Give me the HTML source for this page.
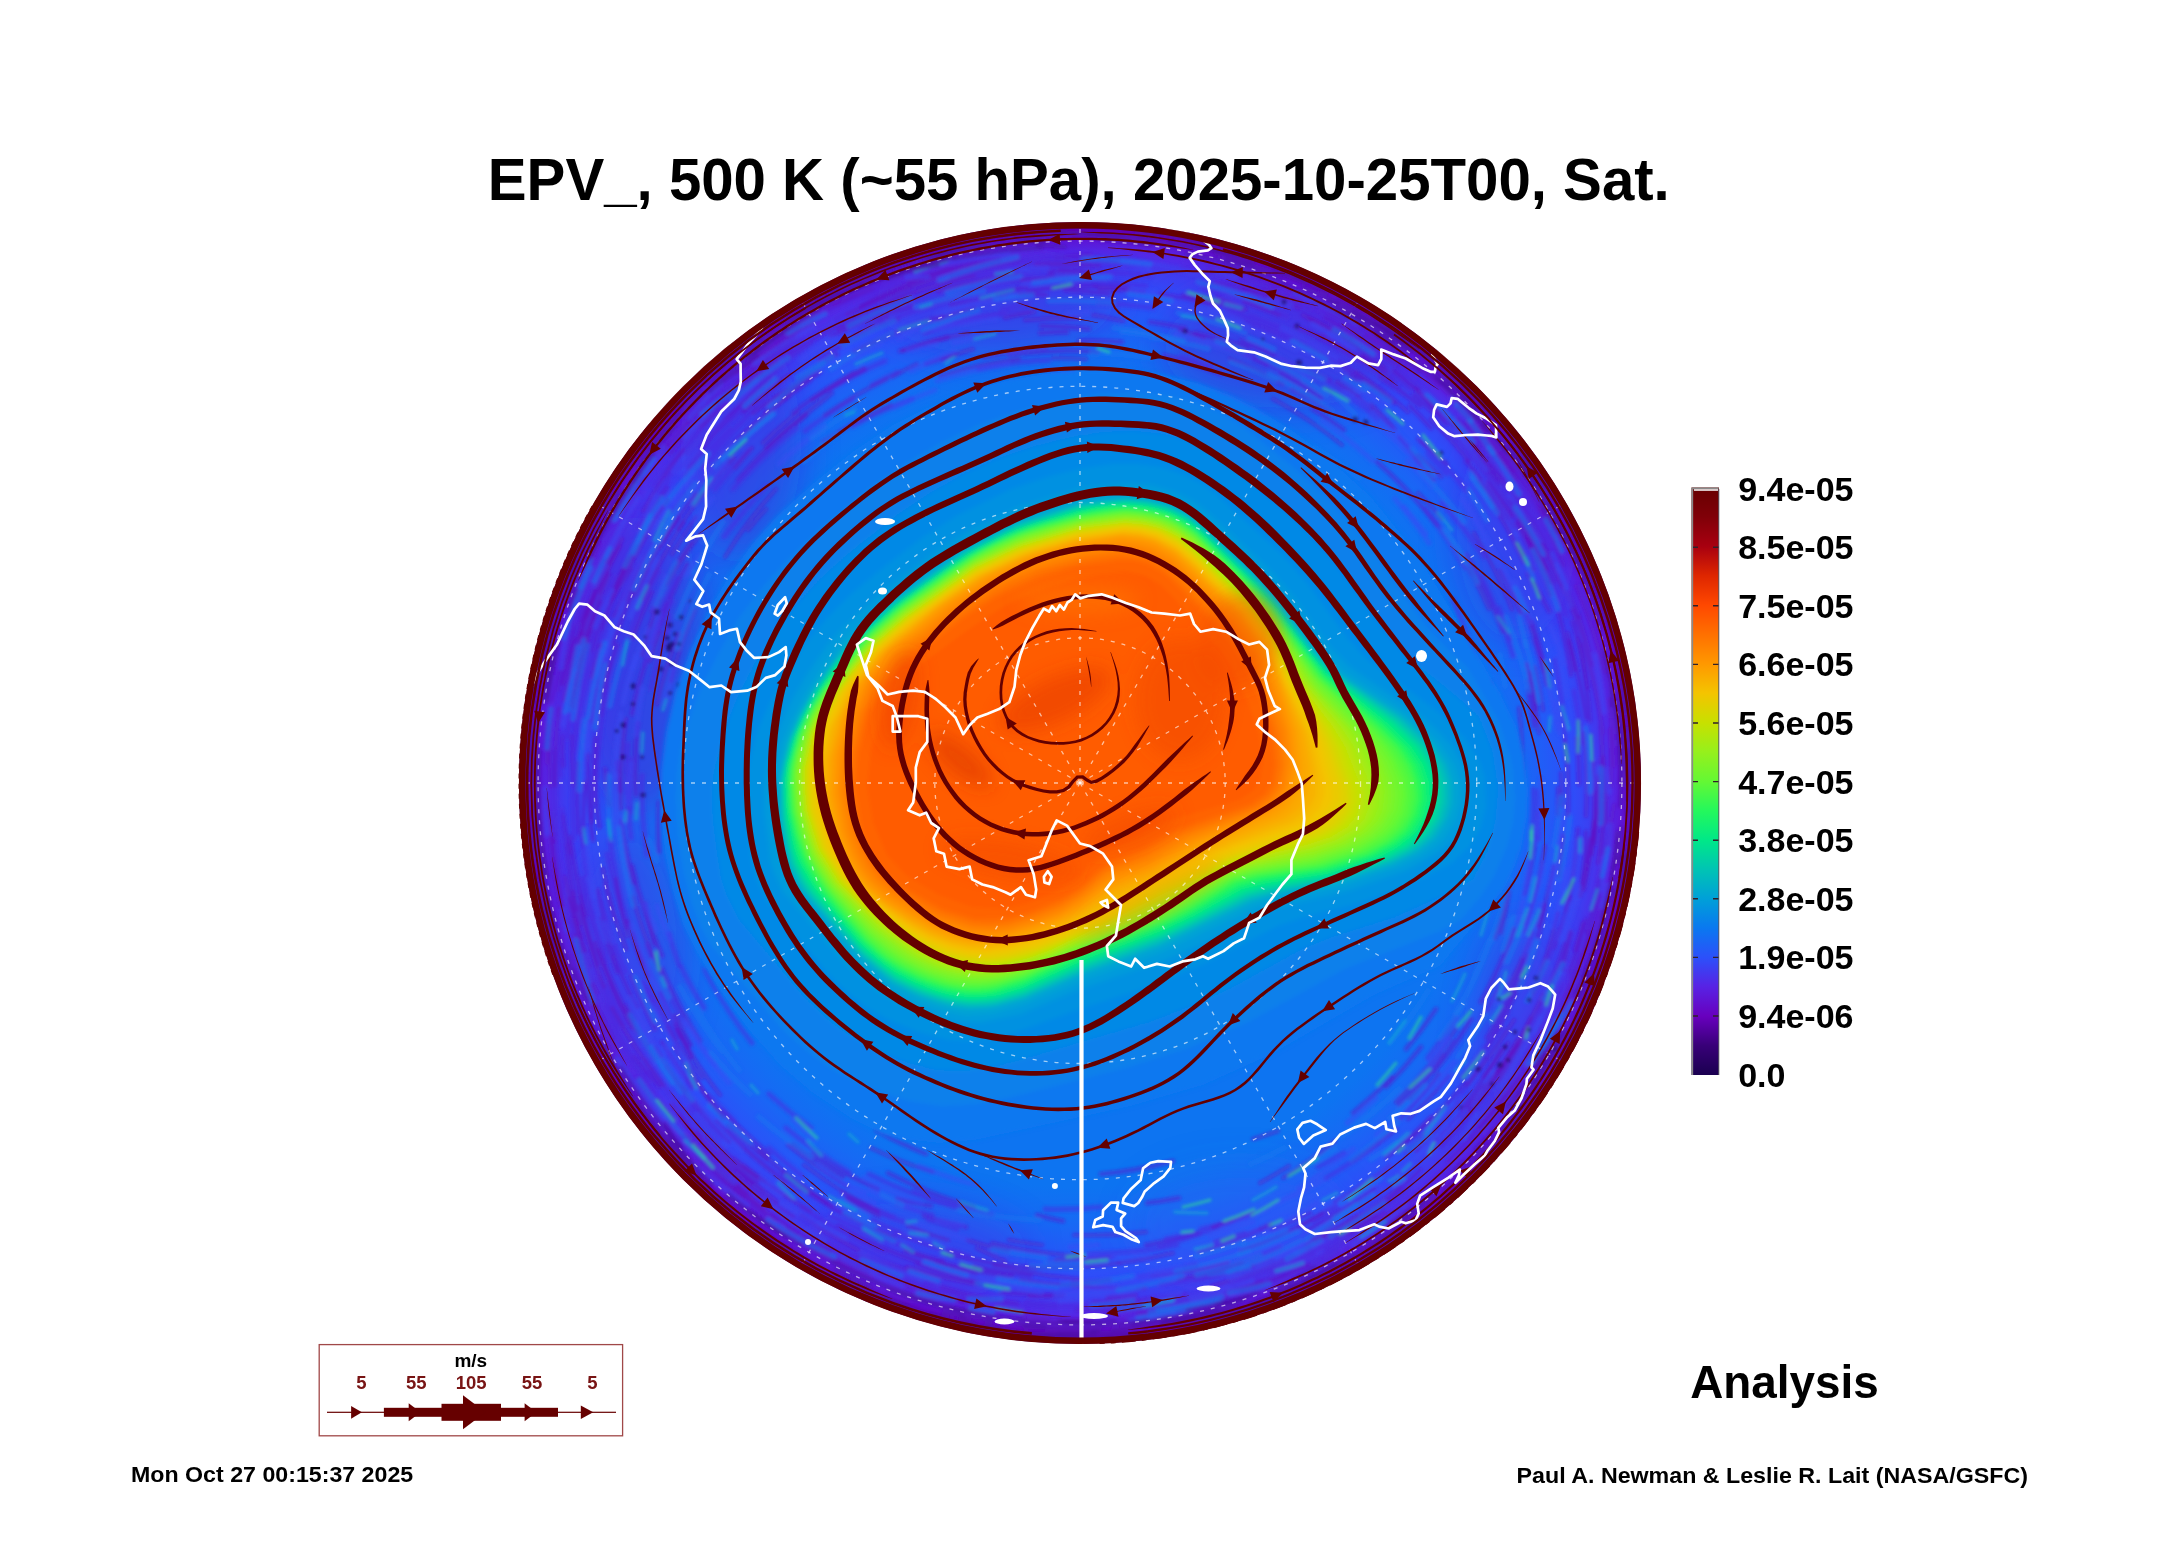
<!DOCTYPE html>
<html lang="en"><head><meta charset="utf-8"><title>EPV 500 K</title>
<style>html,body{margin:0;padding:0;background:#fff}body{width:2165px;height:1561px;overflow:hidden;position:relative}svg{position:absolute;left:0;top:0;display:block}text{font-family:"Liberation Sans",sans-serif;font-weight:700}.sl{fill:#640000;stroke:none}.st{fill:none;stroke:#640000;stroke-linecap:butt;stroke-linejoin:round}.co{fill:none;stroke:#fff;stroke-width:2.7;stroke-linejoin:round;stroke-linecap:round}.gr{fill:none;stroke:#fff;stroke-opacity:.62;stroke-width:1.3;stroke-dasharray:4 7}</style></head><body>
<svg width="2165" height="1561" viewBox="0 0 2165 1561">
<defs>
<radialGradient id="bg" gradientUnits="userSpaceOnUse" cx="1080" cy="783" r="561">
<stop offset="0" stop-color="#0d74f1"/>
<stop offset="0.72" stop-color="#0d74f1"/>
<stop offset="0.78" stop-color="#166af4"/>
<stop offset="0.83" stop-color="#225cf7"/>
<stop offset="0.88" stop-color="#2f4df9"/>
<stop offset="0.92" stop-color="#3f3cf0"/>
<stop offset="0.95" stop-color="#5427e6"/>
<stop offset="0.972" stop-color="#6011d1"/>
<stop offset="0.987" stop-color="#6300b7"/>
<stop offset="1" stop-color="#420086"/>
</radialGradient>
<linearGradient id="cb" x1="0" y1="1" x2="0" y2="0">
<stop offset="0" stop-color="#1a0050"/>
<stop offset="0.05" stop-color="#380078"/>
<stop offset="0.1" stop-color="#6800be"/>
<stop offset="0.15" stop-color="#5822e4"/>
<stop offset="0.2" stop-color="#2c50fa"/>
<stop offset="0.25" stop-color="#0a78f0"/>
<stop offset="0.3" stop-color="#00a0d8"/>
<stop offset="0.35" stop-color="#00c4b4"/>
<stop offset="0.4" stop-color="#00e888"/>
<stop offset="0.45" stop-color="#24f85c"/>
<stop offset="0.5" stop-color="#64f834"/>
<stop offset="0.55" stop-color="#96f01c"/>
<stop offset="0.6" stop-color="#c8e000"/>
<stop offset="0.65" stop-color="#f4c400"/>
<stop offset="0.7" stop-color="#ff9800"/>
<stop offset="0.75" stop-color="#ff7000"/>
<stop offset="0.8" stop-color="#ff4800"/>
<stop offset="0.85" stop-color="#de2600"/>
<stop offset="0.9" stop-color="#a80010"/>
<stop offset="0.95" stop-color="#800008"/>
<stop offset="1" stop-color="#680000"/>
</linearGradient>
<clipPath id="gc"><circle cx="1080" cy="783" r="561"/></clipPath>
<filter id="bl" x="-10%" y="-10%" width="120%" height="120%"><feGaussianBlur stdDeviation="2.2"/></filter>
<filter id="bl3" x="-5%" y="-5%" width="110%" height="110%"><feGaussianBlur stdDeviation="1.7"/></filter>
<filter id="bl4" x="-30%" y="-30%" width="160%" height="160%"><feGaussianBlur stdDeviation="9"/></filter>
<filter id="bl2" x="-30%" y="-30%" width="160%" height="160%"><feGaussianBlur stdDeviation="18"/></filter>
</defs>
<rect width="2165" height="1561" fill="#fff"/>
<g clip-path="url(#gc)">
<circle cx="1080" cy="783" r="562" fill="url(#bg)"/>

<g filter="url(#bl2)">
<ellipse cx="641" cy="665" rx="70" ry="150" fill="#5020d0" opacity="0.42" transform="rotate(0 641 665)"/>
<ellipse cx="741" cy="444" rx="60" ry="120" fill="#5020d0" opacity="0.35" transform="rotate(0 741 444)"/>
<ellipse cx="629" cy="947" rx="60" ry="120" fill="#4c28d8" opacity="0.30" transform="rotate(0 629 947)"/>
<ellipse cx="995" cy="300" rx="120" ry="55" fill="#5020d0" opacity="0.32" transform="rotate(0 995 300)"/>
<ellipse cx="1283" cy="348" rx="120" ry="60" fill="#5020d0" opacity="0.38" transform="rotate(0 1283 348)"/>
<ellipse cx="1517" cy="530" rx="60" ry="110" fill="#4c28d8" opacity="0.28" transform="rotate(0 1517 530)"/>
<ellipse cx="1526" cy="1040" rx="50" ry="120" fill="#4c28d8" opacity="0.30" transform="rotate(0 1526 1040)"/>
<ellipse cx="1241" cy="1225" rx="110" ry="60" fill="#2a5cf4" opacity="0.25" transform="rotate(0 1241 1225)"/>
<ellipse cx="909" cy="1253" rx="120" ry="50" fill="#4c28d8" opacity="0.25" transform="rotate(0 909 1253)"/>
</g>
<g filter="url(#bl3)" fill="none" stroke-linecap="round">
<path d="M1185 1295A522 522 0 0 1 1094 1302M951 305A495 495 0 0 1 1006 296M729 1142A503 503 0 0 1 683 1087M570 853A515 515 0 0 1 563 816M1436 1009A421 421 0 0 1 1406 1049M1371 331A538 538 0 0 1 1440 385M868 1273A534 534 0 0 1 811 1250M1597 811A518 518 0 0 1 1595 844M1501 1049A498 498 0 0 1 1461 1109M1518 1045A511 511 0 0 1 1483 1089M1132 1318A537 537 0 0 1 1064 1320M601 715A484 484 0 0 1 609 665M559 690A529 529 0 0 1 573 630M1215 282A519 519 0 0 1 1281 298M1522 516A517 517 0 0 1 1535 537M652 643A451 451 0 0 1 666 604M1355 351A512 512 0 0 1 1393 381M656 1059A506 506 0 0 1 625 1006M1516 498A520 520 0 0 1 1557 568M748 1193A528 528 0 0 1 682 1136M1458 419A525 525 0 0 1 1493 456M775 397A492 492 0 0 1 815 375M1226 347A460 460 0 0 1 1267 365M659 1086A518 518 0 0 1 634 1057M1049 276A508 508 0 0 1 1093 276M1578 829A500 500 0 0 1 1566 911M765 1215A535 535 0 0 1 694 1152M1300 344A491 491 0 0 1 1356 380M1380 377A505 505 0 0 1 1420 406M688 424A532 532 0 0 1 714 394M970 399A399 399 0 0 1 1042 388M1512 508A512 512 0 0 1 1555 582M738 480A457 457 0 0 1 806 415M637 1007A496 496 0 0 1 614 957M976 1274A502 502 0 0 1 907 1250M552 701A534 534 0 0 1 572 628M691 1045A469 469 0 0 1 675 1015M659 852A427 427 0 0 1 659 802M831 336A512 512 0 0 1 912 306M709 413A524 524 0 0 1 756 366" stroke="#5a18cc" stroke-width="4.5" opacity="0.5"/>
<path d="M1420 1170A516 516 0 0 1 1381 1207M1199 1233A465 465 0 0 1 1146 1245M639 596A479 479 0 0 1 649 571M862 348A487 487 0 0 1 942 316M782 399A486 486 0 0 1 820 372M1281 373A457 457 0 0 1 1321 398M765 354A532 532 0 0 1 797 329M1514 929A458 458 0 0 1 1481 1002M789 521A392 392 0 0 1 817 496M1345 340A516 516 0 0 1 1384 366M1586 920A524 524 0 0 1 1570 972M739 371A535 535 0 0 1 799 327M1164 355A436 436 0 0 1 1221 374M693 1087A492 492 0 0 1 662 1042M1309 318A518 518 0 0 1 1352 341M1064 1295A513 513 0 0 1 1000 1292M593 840A490 490 0 0 1 588 754M1600 885A530 530 0 0 1 1587 932M1569 641A509 509 0 0 1 1586 718M1079 341A442 442 0 0 1 1122 342M1228 1297A535 535 0 0 1 1201 1304M799 380A491 491 0 0 1 837 354M1110 1280A498 498 0 0 1 1072 1283M1310 1213A488 488 0 0 1 1272 1230M974 1207A436 436 0 0 1 888 1173M1538 813A459 459 0 0 1 1525 894M1328 313A531 531 0 0 1 1403 358M599 827A483 483 0 0 1 596 738M662 956A452 452 0 0 1 632 866M613 644A487 487 0 0 1 632 592M1505 1096A527 527 0 0 1 1448 1161M943 1261A497 497 0 0 1 905 1251M843 1177A460 460 0 0 1 793 1144M609 805A471 471 0 0 1 605 769M590 989A532 532 0 0 1 578 951M1514 790A434 434 0 0 1 1513 855M878 1189A453 453 0 0 1 812 1154M1487 435A536 536 0 0 1 1540 509M1570 897A503 503 0 0 1 1554 948M1179 1198A427 427 0 0 1 1147 1203" stroke="#5a18cc" stroke-width="4.5" opacity="0.5"/>
<path d="M1540 510A535 535 0 0 1 1555 540M1374 1189A502 502 0 0 1 1309 1229M1410 406A501 501 0 0 1 1431 428M659 627A449 449 0 0 1 687 564M1018 1304A525 525 0 0 1 942 1288M691 1058A476 476 0 0 1 673 1018M1528 691A458 458 0 0 1 1534 727M593 651A504 504 0 0 1 602 616M824 310A538 538 0 0 1 856 295M1458 1103A495 495 0 0 1 1416 1151M648 517A508 508 0 0 1 667 488M1466 461A503 503 0 0 1 1505 513M838 328A515 515 0 0 1 904 298M563 766A518 518 0 0 1 562 738M1525 969A482 482 0 0 1 1488 1046M1031 1276A496 496 0 0 1 974 1266M591 720A493 493 0 0 1 604 657M614 616A495 495 0 0 1 646 558M1056 258A526 526 0 0 1 1089 255M1494 718A419 419 0 0 1 1492 786M727 418A508 508 0 0 1 770 378M560 903A534 534 0 0 1 550 836M1528 574A494 494 0 0 1 1549 611M1195 333A464 464 0 0 1 1248 348M1573 622A519 519 0 0 1 1588 688M593 1008A537 537 0 0 1 571 954M1296 327A504 504 0 0 1 1365 362M1335 1222A508 508 0 0 1 1312 1239M659 1110A533 533 0 0 1 637 1079M926 1154A402 402 0 0 1 876 1130M1273 1260A514 514 0 0 1 1235 1271M1481 480A503 503 0 0 1 1508 518M1475 453A515 515 0 0 1 1507 488M721 974A406 406 0 0 1 690 895M1322 1214A494 494 0 0 1 1241 1251M687 454A512 512 0 0 1 712 425M637 1032A508 508 0 0 1 599 950M700 1041A460 460 0 0 1 662 969M1518 545A499 499 0 0 1 1533 570M561 682A528 528 0 0 1 576 625" stroke="#5a18cc" stroke-width="4.5" opacity="0.5"/>
<path d="M1063 1221A438 438 0 0 1 1037 1215M620 791A461 461 0 0 1 617 762M1466 555A449 449 0 0 1 1503 632M1095 286A498 498 0 0 1 1128 288M660 547A482 482 0 0 1 679 518M1454 1041A455 455 0 0 1 1410 1099M688 467A504 504 0 0 1 740 406M1396 1129A469 469 0 0 1 1353 1161M1313 409A441 441 0 0 1 1344 430M931 1206A449 449 0 0 1 897 1199M744 386A520 520 0 0 1 777 361M951 276A524 524 0 0 1 1019 261M1150 322A466 466 0 0 1 1185 328M799 408A469 469 0 0 1 854 373M1377 462A437 437 0 0 1 1437 525M1262 278A536 536 0 0 1 1300 296M926 364A446 446 0 0 1 955 355M602 629A502 502 0 0 1 637 545M833 1253A531 531 0 0 1 804 1238M1427 399A517 517 0 0 1 1489 464M1325 318A526 526 0 0 1 1396 365M585 951A523 523 0 0 1 569 899M1577 738A499 499 0 0 1 1579 784M1050 272A512 512 0 0 1 1082 273M1166 1303A527 527 0 0 1 1077 1310M688 1046A472 472 0 0 1 660 993M1292 389A448 448 0 0 1 1330 411M793 413A468 468 0 0 1 865 370M1392 1077A429 429 0 0 1 1353 1113M1586 832A509 509 0 0 1 1582 888M919 1262A505 505 0 0 1 838 1226M1020 294A493 493 0 0 1 1046 295M579 833A504 504 0 0 1 578 763M1065 290A493 493 0 0 1 1109 294M1190 1300A528 528 0 0 1 1104 1313M573 785A507 507 0 0 1 572 736M1160 294A496 496 0 0 1 1215 305M1471 1019A457 457 0 0 1 1434 1072M1483 456A519 519 0 0 1 1503 480M1529 1066A531 531 0 0 1 1471 1137" stroke="#5a18cc" stroke-width="4.5" opacity="0.5"/>
<path d="M636 795A444 444 0 0 1 638 723M1060 270A513 513 0 0 1 1092 272M819 359A498 498 0 0 1 898 319M769 1154A484 484 0 0 1 723 1111M730 1170A522 522 0 0 1 679 1116M1041 326A458 458 0 0 1 1089 329M613 1039A533 533 0 0 1 599 1012M735 397A518 518 0 0 1 789 348M607 1031A534 534 0 0 1 581 965M671 453A526 526 0 0 1 686 431M632 714A453 453 0 0 1 648 655M1210 269A530 530 0 0 1 1276 289M1601 871A528 528 0 0 1 1589 929M741 438A484 484 0 0 1 810 380M1414 395A512 512 0 0 1 1446 424M1335 1206A494 494 0 0 1 1300 1226M1559 614A508 508 0 0 1 1571 675M1443 1055A454 454 0 0 1 1399 1105M614 956A497 497 0 0 1 598 890M598 965A515 515 0 0 1 580 896M1245 1233A479 479 0 0 1 1215 1242M1563 836A486 486 0 0 1 1559 877M1559 575A522 522 0 0 1 1579 617M576 910A519 519 0 0 1 567 845M978 1282A509 509 0 0 1 917 1264M1241 341A471 471 0 0 1 1315 377M1488 780A408 408 0 0 1 1488 837M1503 1066A509 509 0 0 1 1462 1116M840 330A513 513 0 0 1 908 300M1028 291A494 494 0 0 1 1096 286M1009 355A434 434 0 0 1 1098 352M1306 371A470 470 0 0 1 1330 380M617 972A500 500 0 0 1 600 919M634 883A457 457 0 0 1 621 821M577 639A524 524 0 0 1 590 602M997 294A496 496 0 0 1 1026 287M789 354A519 519 0 0 1 841 325M818 1249A534 534 0 0 1 786 1229M651 461A536 536 0 0 1 670 442M1593 912A529 529 0 0 1 1575 982" stroke="#5a18cc" stroke-width="4.5" opacity="0.5"/>
<path d="M1521 970A480 480 0 0 1 1493 1033M938 320A485 485 0 0 1 975 308M1493 1082A510 510 0 0 1 1440 1146M1451 432A511 511 0 0 1 1498 483M909 282A529 529 0 0 1 977 262M900 351A468 468 0 0 1 948 337M1601 897A534 534 0 0 1 1588 951M840 1259A533 533 0 0 1 772 1214M568 661A526 526 0 0 1 585 608M592 822A489 489 0 0 1 597 746M655 1029A491 491 0 0 1 631 976M602 695A486 486 0 0 1 617 645M584 845A500 500 0 0 1 585 782M895 1238A491 491 0 0 1 849 1216M734 393A521 521 0 0 1 766 363M1565 944A511 511 0 0 1 1549 989M1552 535A533 533 0 0 1 1563 565M578 686A511 511 0 0 1 601 602M889 1236A491 491 0 0 1 807 1191M700 1111A502 502 0 0 1 655 1048M1578 639A519 519 0 0 1 1590 721M1155 1299A522 522 0 0 1 1103 1307M1035 1268A487 487 0 0 1 948 1254M1342 366A493 493 0 0 1 1394 403M654 944A456 456 0 0 1 645 903M1421 1047A431 431 0 0 1 1386 1087M1466 1082A488 488 0 0 1 1399 1149M1173 1161A389 389 0 0 1 1101 1174M1526 955A478 478 0 0 1 1487 1038M1341 324A529 529 0 0 1 1400 363M906 1270A517 517 0 0 1 860 1255M1012 1276A497 497 0 0 1 937 1262M1532 621A480 480 0 0 1 1547 677M966 1227A459 459 0 0 1 924 1216M586 915A512 512 0 0 1 570 837M1040 333A451 451 0 0 1 1067 332M590 967A524 524 0 0 1 574 919M1475 443A521 521 0 0 1 1488 467M627 599A489 489 0 0 1 644 558M1545 905A481 481 0 0 1 1538 937" stroke="#5a18cc" stroke-width="4.5" opacity="0.5"/>
<path d="M678 1048A481 481 0 0 1 654 999M1466 432A521 521 0 0 1 1482 453M1119 1306A524 524 0 0 1 1026 1302M1313 1254A526 526 0 0 1 1270 1272M1236 1267A508 508 0 0 1 1208 1277M1456 548A443 443 0 0 1 1472 574M733 489A455 455 0 0 1 797 428M629 798A451 451 0 0 1 631 767M1202 299A499 499 0 0 1 1277 331M969 1256A485 485 0 0 1 895 1233M648 1083A526 526 0 0 1 605 1006M614 920A486 486 0 0 1 605 885M556 837A527 527 0 0 1 555 752M595 633A508 508 0 0 1 615 577M679 890A415 415 0 0 1 674 848M851 1218A491 491 0 0 1 791 1182M1336 1251A533 533 0 0 1 1256 1282M692 1088A493 493 0 0 1 669 1054M1533 789A453 453 0 0 1 1532 837M802 1176A482 482 0 0 1 769 1148M1453 600A415 415 0 0 1 1480 682M703 1133A514 514 0 0 1 645 1059M1250 315A498 498 0 0 1 1308 342M1574 691A503 503 0 0 1 1582 743M828 390A467 467 0 0 1 885 361M1355 335A525 525 0 0 1 1426 394M1467 449A511 511 0 0 1 1521 525M1002 309A480 480 0 0 1 1028 304M1579 974A534 534 0 0 1 1549 1033M805 431A447 447 0 0 1 853 399M704 1008A438 438 0 0 1 681 967M752 1043A419 419 0 0 1 705 970M1499 988A467 467 0 0 1 1479 1022M596 916A502 502 0 0 1 582 834M1004 1310A532 532 0 0 1 919 1290M1352 343A517 517 0 0 1 1410 389M957 1229A463 463 0 0 1 928 1220M956 267A531 531 0 0 1 1019 254M1000 267A522 522 0 0 1 1062 255M1601 660A535 535 0 0 1 1612 716" stroke="#4c28de" stroke-width="5.5" opacity="0.46"/>
<path d="M1321 311A530 530 0 0 1 1393 352M1580 962A531 531 0 0 1 1548 1032M1578 954A527 527 0 0 1 1569 978M1508 469A531 531 0 0 1 1552 537M1270 1226A482 482 0 0 1 1209 1248M1580 588A537 537 0 0 1 1591 618M1537 791A457 457 0 0 1 1539 839M1113 1257A475 475 0 0 1 1049 1262M711 468A486 486 0 0 1 761 418M647 855A439 439 0 0 1 642 775M1253 327A488 488 0 0 1 1284 340M686 1026A463 463 0 0 1 647 945M1101 1207A425 425 0 0 1 1045 1209M1298 336A497 497 0 0 1 1355 372M1354 399A472 472 0 0 1 1377 418M731 1186A533 533 0 0 1 666 1121M844 300A538 538 0 0 1 929 268M631 838A453 453 0 0 1 628 744M734 1121A484 484 0 0 1 709 1095M672 512A490 490 0 0 1 694 485M744 413A500 500 0 0 1 781 383M1342 350A506 506 0 0 1 1398 387M1370 365A509 509 0 0 1 1397 387M1324 378A472 472 0 0 1 1371 413M731 391A525 525 0 0 1 791 343M651 689A439 439 0 0 1 669 625M692 457A507 507 0 0 1 738 408M934 1285A523 523 0 0 1 852 1255M700 414A529 529 0 0 1 770 359M606 962A507 507 0 0 1 584 878M1195 1308A537 537 0 0 1 1128 1317M1503 1028A489 489 0 0 1 1484 1056M597 779A483 483 0 0 1 607 686M952 263A535 535 0 0 1 1039 248M760 383A513 513 0 0 1 811 342M591 604A521 521 0 0 1 610 553M849 1172A452 452 0 0 1 786 1128M677 1038A476 476 0 0 1 648 988M645 664A451 451 0 0 1 677 577M872 385A449 449 0 0 1 898 372" stroke="#4c28de" stroke-width="5.5" opacity="0.46"/>
<path d="M1253 1267A514 514 0 0 1 1161 1284M1341 1238A524 524 0 0 1 1294 1259M685 1149A538 538 0 0 1 648 1110M1338 1209A498 498 0 0 1 1314 1221M1229 1270A509 509 0 0 1 1203 1277M1203 288A510 510 0 0 1 1287 317M1564 636A505 505 0 0 1 1571 672M1338 1252A535 535 0 0 1 1303 1271M1355 1234A529 529 0 0 1 1325 1255M884 1252A508 508 0 0 1 802 1207M1183 267A526 526 0 0 1 1223 275M581 662A513 513 0 0 1 593 635M703 406A533 533 0 0 1 736 378M955 1207A442 442 0 0 1 869 1174M595 575A528 528 0 0 1 636 490M1561 985A522 522 0 0 1 1518 1067M620 1025A520 520 0 0 1 598 978M853 426A424 424 0 0 1 912 399M845 1214A491 491 0 0 1 783 1173M604 539A535 535 0 0 1 617 510M701 479A486 486 0 0 1 746 431M719 1135A504 504 0 0 1 675 1079M664 646A438 438 0 0 1 669 616M653 485A520 520 0 0 1 683 450M1528 681A460 460 0 0 1 1536 721M932 1215A457 457 0 0 1 897 1204M1442 503A458 458 0 0 1 1484 557M1421 442A482 482 0 0 1 1467 491M591 722A493 493 0 0 1 596 688M712 435A506 506 0 0 1 758 398M1126 265A520 520 0 0 1 1210 274M638 527A510 510 0 0 1 668 481M1185 259A534 534 0 0 1 1267 287M1408 1190A523 523 0 0 1 1329 1242M1428 454A479 479 0 0 1 1446 474M1456 1018A443 443 0 0 1 1428 1058M1310 1248A519 519 0 0 1 1244 1276M1489 485A506 506 0 0 1 1536 561M1452 1166A534 534 0 0 1 1399 1210M736 387A525 525 0 0 1 803 338" stroke="#4c28de" stroke-width="5.5" opacity="0.46"/>
<path d="M691 1054A474 474 0 0 1 660 995M854 318A517 517 0 0 1 913 291M1502 481A519 519 0 0 1 1543 555M762 1190A517 517 0 0 1 736 1171M1196 1265A496 496 0 0 1 1140 1277M1280 1248A507 507 0 0 1 1228 1268M979 369A426 426 0 0 1 1049 360M1242 353A459 459 0 0 1 1299 379M1508 1012A485 485 0 0 1 1462 1078M664 1120A535 535 0 0 1 618 1057M1482 577A452 452 0 0 1 1513 656M654 1007A481 481 0 0 1 644 982M1561 927A502 502 0 0 1 1533 991M1226 314A491 491 0 0 1 1297 342M1210 283A517 517 0 0 1 1242 293M724 537A432 432 0 0 1 767 486M679 965A440 440 0 0 1 669 934M1555 660A491 491 0 0 1 1565 740M575 894A517 517 0 0 1 562 810M799 1190A495 495 0 0 1 728 1131M1553 551A526 526 0 0 1 1566 584M955 323A476 476 0 0 1 1028 311M881 324A500 500 0 0 1 962 296M1350 1238A530 530 0 0 1 1327 1250M904 1222A473 473 0 0 1 849 1199M869 1268A529 529 0 0 1 828 1244M856 353A485 485 0 0 1 899 331M626 972A492 492 0 0 1 600 899M820 332A520 520 0 0 1 859 315M653 1092A527 527 0 0 1 610 1026M1319 1259A532 532 0 0 1 1236 1291M1602 874A530 530 0 0 1 1589 927M595 802A485 485 0 0 1 595 739M1485 1058A490 490 0 0 1 1457 1101M1460 407A534 534 0 0 1 1500 449M574 749A507 507 0 0 1 577 723M1236 283A524 524 0 0 1 1310 309M803 1190A492 492 0 0 1 752 1152M628 639A475 475 0 0 1 659 571M910 1248A496 496 0 0 1 831 1216" stroke="#4c28de" stroke-width="5.5" opacity="0.46"/>
<path d="M1195 1233A464 464 0 0 1 1166 1239M971 286A508 508 0 0 1 1064 279M1098 272A512 512 0 0 1 1150 276M1177 1245A472 472 0 0 1 1089 1254M941 283A519 519 0 0 1 1015 270M658 632A449 449 0 0 1 672 601M573 787A507 507 0 0 1 577 717M627 926A475 475 0 0 1 607 854M715 423A512 512 0 0 1 774 373M1344 1153A454 454 0 0 1 1318 1167M1490 682A422 422 0 0 1 1494 710M1599 761A519 519 0 0 1 1597 807M1605 801A525 525 0 0 1 1602 853M1253 1215A465 465 0 0 1 1201 1229M1225 1269A507 507 0 0 1 1196 1280M604 954A506 506 0 0 1 580 879M1561 976A518 518 0 0 1 1551 1001M569 678A522 522 0 0 1 579 626M1489 1091A512 512 0 0 1 1443 1147M1181 356A439 439 0 0 1 1211 366M1287 1276A534 534 0 0 1 1217 1303M671 442A532 532 0 0 1 704 404M1078 284A499 499 0 0 1 1146 286M1520 1075A528 528 0 0 1 1472 1136M925 333A476 476 0 0 1 1005 313M1379 1142A467 467 0 0 1 1326 1178M567 634A534 534 0 0 1 590 564M560 762A520 520 0 0 1 562 734M574 839A509 509 0 0 1 573 783M869 1110A389 389 0 0 1 838 1082M827 312A535 535 0 0 1 898 284M1535 641A477 477 0 0 1 1550 686M555 785A525 525 0 0 1 552 750M1425 509A441 441 0 0 1 1465 567M625 1025A516 516 0 0 1 607 984M1466 419A531 531 0 0 1 1517 489M1097 260A523 523 0 0 1 1129 263M560 776A520 520 0 0 1 559 748M741 396A514 514 0 0 1 810 343M582 954A526 526 0 0 1 564 905" stroke="#4c28de" stroke-width="5.5" opacity="0.46"/>
<path d="M1099 303A480 480 0 0 1 1153 308M893 1217A473 473 0 0 1 842 1193M563 898A530 530 0 0 1 554 813M1457 439A510 510 0 0 1 1507 502M1032 269A516 516 0 0 1 1088 265M1056 1307A525 525 0 0 1 1024 1305M1572 933A515 515 0 0 1 1563 959M686 476A499 499 0 0 1 730 429M1547 997A513 513 0 0 1 1530 1034M721 1139A506 506 0 0 1 689 1108M1593 831A515 515 0 0 1 1584 886M1045 261A524 524 0 0 1 1117 263M578 718A506 506 0 0 1 601 631M960 1253A485 485 0 0 1 873 1221M715 489A469 469 0 0 1 749 450M1199 282A515 515 0 0 1 1234 289M599 1019A536 536 0 0 1 573 940M811 1128A437 437 0 0 1 769 1094M835 319A525 525 0 0 1 908 287M1275 1268A522 522 0 0 1 1233 1285M1232 1221A464 464 0 0 1 1160 1246M567 738A515 515 0 0 1 580 678M621 600A495 495 0 0 1 638 565M992 1215A441 441 0 0 1 914 1191M1537 547A514 514 0 0 1 1566 615M629 927A473 473 0 0 1 610 840M1517 494A524 524 0 0 1 1551 547M1501 493A511 511 0 0 1 1539 556M557 713A528 528 0 0 1 577 628M668 476A513 513 0 0 1 689 460M1525 527A513 513 0 0 1 1552 580M703 467A492 492 0 0 1 767 398M697 691A394 394 0 0 1 715 644M566 654A530 530 0 0 1 588 582M686 447A517 517 0 0 1 727 406M630 812A451 451 0 0 1 631 759M1499 608A454 454 0 0 1 1510 639M975 1299A526 526 0 0 1 911 1282" stroke="#4c28de" stroke-width="5.5" opacity="0.46"/>
<path d="M1533 932A477 477 0 0 1 1508 988M1517 523A508 508 0 0 1 1531 548M1545 846A470 470 0 0 1 1524 931M933 1172A416 416 0 0 1 871 1148M1146 1232A453 453 0 0 1 1074 1235M1093 315A468 468 0 0 1 1123 321M1518 1039A507 507 0 0 1 1470 1112M847 315A522 522 0 0 1 935 279M1418 367A536 536 0 0 1 1484 431M1609 699A536 536 0 0 1 1614 766M1303 315A519 519 0 0 1 1359 347M848 1187A465 465 0 0 1 788 1145M1614 805A534 534 0 0 1 1605 854M579 637A522 522 0 0 1 612 551M657 704A431 431 0 0 1 679 634M1539 507A536 536 0 0 1 1555 532M627 936A478 478 0 0 1 616 879M648 977A474 474 0 0 1 633 933M1081 1256A473 473 0 0 1 992 1243M1278 1131A400 400 0 0 1 1253 1139M1426 1133A492 492 0 0 1 1406 1152M581 937A522 522 0 0 1 565 877M567 923A532 532 0 0 1 552 839M903 351A467 467 0 0 1 968 333M1431 419A506 506 0 0 1 1469 461M1590 934A532 532 0 0 1 1565 997M983 357A437 437 0 0 1 1046 348M942 359A446 446 0 0 1 973 349M753 413A494 494 0 0 1 797 385M938 291A512 512 0 0 1 1019 274M604 987A517 517 0 0 1 580 906M1289 1166A436 436 0 0 1 1260 1183M1322 335A509 509 0 0 1 1386 371M643 511A514 514 0 0 1 683 450M597 993A527 527 0 0 1 575 935M728 1176A528 528 0 0 1 686 1135M1466 423A528 528 0 0 1 1514 471M1242 288A521 521 0 0 1 1299 308M1500 570A471 471 0 0 1 1521 613M737 373A535 535 0 0 1 813 322" stroke="#6410c0" stroke-width="4" opacity="0.44"/>
<path d="M722 1116A488 488 0 0 1 674 1047M861 306A525 525 0 0 1 948 270M752 1184A518 518 0 0 1 697 1132M1594 822A516 516 0 0 1 1584 890M1293 1256A519 519 0 0 1 1212 1286M671 681A422 422 0 0 1 695 609M643 965A473 473 0 0 1 627 921M763 443A465 465 0 0 1 798 412M758 1181A512 512 0 0 1 707 1135M924 278A529 529 0 0 1 1000 260M633 638A470 470 0 0 1 652 592M965 257A538 538 0 0 1 992 254M879 1216A478 478 0 0 1 847 1198M1531 1018A509 509 0 0 1 1498 1081M1005 1261A484 484 0 0 1 977 1248M1159 394A397 397 0 0 1 1233 414M1136 1295A515 515 0 0 1 1107 1298M1584 733A507 507 0 0 1 1586 816M573 708A512 512 0 0 1 587 641M632 1028A510 510 0 0 1 595 943M1335 1141A440 440 0 0 1 1283 1178M858 1250A517 517 0 0 1 801 1215M720 1095A476 476 0 0 1 677 1030M1092 1319A536 536 0 0 1 1025 1320M832 1206A491 491 0 0 1 759 1150M729 454A481 481 0 0 1 752 427M1525 518A517 517 0 0 1 1562 586M1575 988A536 536 0 0 1 1536 1058M1458 408A532 532 0 0 1 1482 434M1487 486A504 504 0 0 1 1502 508M667 584A458 458 0 0 1 701 533M1048 1318A536 536 0 0 1 1022 1314M1509 893A443 443 0 0 1 1501 933M1510 499A516 516 0 0 1 1547 569M1497 454A531 531 0 0 1 1517 479M1527 664A463 463 0 0 1 1539 733M550 787A530 530 0 0 1 552 709M825 415A448 448 0 0 1 887 379M577 598A536 536 0 0 1 599 543M1118 1263A481 481 0 0 1 1028 1267" stroke="#6410c0" stroke-width="4" opacity="0.44"/>
<path d="M1474 533A467 467 0 0 1 1512 609M1593 762A513 513 0 0 1 1593 840M1337 382A476 476 0 0 1 1359 397M1228 1263A503 503 0 0 1 1152 1276M683 811A399 399 0 0 1 683 749M1456 1029A449 449 0 0 1 1396 1102M1022 280A507 507 0 0 1 1068 278M1262 1282A532 532 0 0 1 1175 1301M1449 1076A471 471 0 0 1 1408 1119M1519 1078A529 529 0 0 1 1479 1127M987 1306A531 531 0 0 1 922 1290M810 1211A506 506 0 0 1 744 1166M1605 792A525 525 0 0 1 1598 863M1042 1245A464 464 0 0 1 1009 1240M1375 1215A523 523 0 0 1 1337 1235M1527 537A510 510 0 0 1 1551 595M812 400A467 467 0 0 1 864 368M1263 290A526 526 0 0 1 1298 301M700 427A521 521 0 0 1 727 404M1570 932A513 513 0 0 1 1562 970M1416 388A518 518 0 0 1 1445 419M735 468A468 468 0 0 1 752 448M1089 1286A503 503 0 0 1 1021 1280M1603 757A523 523 0 0 1 1606 823M1390 1166A492 492 0 0 1 1335 1202M723 397A526 526 0 0 1 795 337M1418 439A482 482 0 0 1 1447 464M885 303A518 518 0 0 1 974 276M1530 673A464 464 0 0 1 1536 709M1510 885A442 442 0 0 1 1495 938M612 596A504 504 0 0 1 628 558M599 592A517 517 0 0 1 622 539M948 1240A476 476 0 0 1 908 1226M652 611A462 462 0 0 1 691 542M661 454A533 533 0 0 1 701 408M1371 404A478 478 0 0 1 1395 429M855 335A502 502 0 0 1 887 317M1145 1288A509 509 0 0 1 1072 1286M650 661A447 447 0 0 1 660 632M1109 1257A475 475 0 0 1 1056 1260" stroke="#6410c0" stroke-width="4" opacity="0.44"/>
<path d="M1514 1020A494 494 0 0 1 1467 1085M1439 1074A462 462 0 0 1 1400 1119M1217 297A505 505 0 0 1 1246 309M748 530A417 417 0 0 1 766 509M795 424A459 459 0 0 1 828 397M1583 923A522 522 0 0 1 1575 950M1271 1224A481 481 0 0 1 1199 1252M1183 295A499 499 0 0 1 1244 310M764 1181A508 508 0 0 1 734 1159M1418 455A471 471 0 0 1 1441 477M634 596A484 484 0 0 1 659 545M617 586A504 504 0 0 1 633 551M1385 1213A527 527 0 0 1 1348 1234M592 677A499 499 0 0 1 600 645M618 510A536 536 0 0 1 648 465M581 660A514 514 0 0 1 609 574M586 616A521 521 0 0 1 620 546M564 700A522 522 0 0 1 582 632M1367 335A532 532 0 0 1 1410 367M663 541A482 482 0 0 1 696 494M1590 839A513 513 0 0 1 1580 896M672 554A468 468 0 0 1 696 517M1554 866A481 481 0 0 1 1538 926M1357 1216A514 514 0 0 1 1300 1250M593 1008A537 537 0 0 1 581 975M764 1209A531 531 0 0 1 714 1169M793 1217A521 521 0 0 1 730 1171M1394 371A518 518 0 0 1 1440 413M1399 437A471 471 0 0 1 1420 463M744 411A501 501 0 0 1 789 375M1005 318A471 471 0 0 1 1034 312M834 305A538 538 0 0 1 872 289M1610 729A533 533 0 0 1 1611 787M1079 1279A496 496 0 0 1 994 1265M1053 358A425 425 0 0 1 1086 359M767 1159A489 489 0 0 1 728 1125M643 599A474 474 0 0 1 684 522M1242 1263A507 507 0 0 1 1179 1279M1357 396A476 476 0 0 1 1392 427M766 448A459 459 0 0 1 832 393" stroke="#6410c0" stroke-width="4" opacity="0.44"/>
<path d="M1508 1043A501 501 0 0 1 1484 1077M724 1175A530 530 0 0 1 704 1153M1173 1253A479 479 0 0 1 1119 1263M1431 1117A484 484 0 0 1 1386 1158M1062 1296A514 514 0 0 1 1029 1296M614 1049A537 537 0 0 1 590 996M1273 399A430 430 0 0 1 1342 445M1469 569A444 444 0 0 1 1489 609M581 643A518 518 0 0 1 595 595M867 1270A531 531 0 0 1 838 1258M642 655A456 456 0 0 1 660 598M555 786A525 525 0 0 1 559 708M1597 776A517 517 0 0 1 1592 854M1477 793A397 397 0 0 1 1473 846M744 1197A533 533 0 0 1 716 1171M1535 667A469 469 0 0 1 1543 710M660 972A460 460 0 0 1 633 897M1363 1214A515 515 0 0 1 1307 1244M1526 612A478 478 0 0 1 1546 685M570 705A516 516 0 0 1 594 615M1576 586A534 534 0 0 1 1605 672M963 1303A533 533 0 0 1 879 1274M1562 1011A533 533 0 0 1 1541 1063M611 601A503 503 0 0 1 631 569M1480 428A535 535 0 0 1 1509 462M547 763A533 533 0 0 1 547 725M678 529A476 476 0 0 1 734 458M1489 498A499 499 0 0 1 1524 562M626 575A500 500 0 0 1 668 500M1008 1251A474 474 0 0 1 967 1240M1244 302A508 508 0 0 1 1279 315M725 557A421 421 0 0 1 776 489M1539 1062A537 537 0 0 1 1517 1097M873 1277A536 536 0 0 1 800 1243M1522 1038A510 510 0 0 1 1486 1085M1400 1187A515 515 0 0 1 1328 1237M1477 481A499 499 0 0 1 1514 528M564 921A534 534 0 0 1 553 859M702 1078A479 479 0 0 1 667 1027M1558 788A478 478 0 0 1 1558 815" stroke="#6410c0" stroke-width="4" opacity="0.44"/>
<path d="M1099 289A495 495 0 0 1 1144 292M1558 913A495 495 0 0 1 1532 995M621 809A460 460 0 0 1 626 719M1036 264A521 521 0 0 1 1099 266M892 377A448 448 0 0 1 917 364M1450 422A516 516 0 0 1 1478 449M776 1220A532 532 0 0 1 732 1181M1309 1265A534 534 0 0 1 1241 1291M1429 1187A534 534 0 0 1 1373 1225M1519 520A511 511 0 0 1 1550 583M1025 320A466 466 0 0 1 1079 318M1579 617A526 526 0 0 1 1589 651M1602 794A522 522 0 0 1 1600 821M823 442A428 428 0 0 1 891 405M1583 644A522 522 0 0 1 1603 733M878 1211A474 474 0 0 1 804 1165M1565 741A487 487 0 0 1 1568 816M1487 482A506 506 0 0 1 1512 516M1484 1085A504 504 0 0 1 1435 1141M554 842A529 529 0 0 1 545 792M1415 458A466 466 0 0 1 1434 480M563 684A526 526 0 0 1 575 639M785 1182A496 496 0 0 1 716 1121M1519 708A445 445 0 0 1 1522 782M663 1085A515 515 0 0 1 612 1008M1561 584A520 520 0 0 1 1592 665M1202 1304A535 535 0 0 1 1138 1314M988 1286A512 512 0 0 1 907 1267M701 1142A522 522 0 0 1 672 1105M580 924A519 519 0 0 1 573 892M1230 359A450 450 0 0 1 1283 384M940 376A431 431 0 0 1 1019 359M765 413A486 486 0 0 1 789 396M1561 773A482 482 0 0 1 1562 806M1544 994A510 510 0 0 1 1522 1034M626 949A484 484 0 0 1 603 869M1601 726A525 525 0 0 1 1600 813M1180 330A464 464 0 0 1 1204 338M777 1202A517 517 0 0 1 720 1151M1418 493A445 445 0 0 1 1442 519" stroke="#6410c0" stroke-width="4" opacity="0.44"/>
<path d="M1568 633A511 511 0 0 1 1575 670M1253 1212A463 463 0 0 1 1213 1227M724 1119A489 489 0 0 1 687 1065M854 352A487 487 0 0 1 878 341M1356 372A495 495 0 0 1 1408 412" stroke="#6410c0" stroke-width="4" opacity="0.44"/>
<path d="M665 704A423 423 0 0 1 674 667M596 685A494 494 0 0 1 612 626M1317 1203A483 483 0 0 1 1266 1233M591 981A528 528 0 0 1 584 955M547 834A536 536 0 0 1 545 789M1299 347A488 488 0 0 1 1347 374M1597 768A517 517 0 0 1 1592 790M1174 1312A538 538 0 0 1 1131 1320M1224 319A486 486 0 0 1 1296 349M1010 353A436 436 0 0 1 1045 346M1386 1220A534 534 0 0 1 1361 1236M934 329A477 477 0 0 1 996 318M617 832A466 466 0 0 1 616 775M1546 675A478 478 0 0 1 1558 729M1460 1097A493 493 0 0 1 1420 1143M649 532A499 499 0 0 1 667 508M937 381A427 427 0 0 1 1008 364M976 1185A415 415 0 0 1 919 1166M1222 395A413 413 0 0 1 1263 415M629 894A464 464 0 0 1 620 816M690 493A486 486 0 0 1 733 445M1437 1137A503 503 0 0 1 1400 1173M911 371A445 445 0 0 1 954 351M1175 334A459 459 0 0 1 1250 358M1541 781A461 461 0 0 1 1536 843M814 1139A444 444 0 0 1 793 1120M921 1203A449 449 0 0 1 864 1178M1180 1294A521 521 0 0 1 1142 1303M1595 655A531 531 0 0 1 1604 712M1148 1255A477 477 0 0 1 1088 1256M689 1066A483 483 0 0 1 653 1006M1462 499A476 476 0 0 1 1498 562M654 609A460 460 0 0 1 666 577M1223 1293A530 530 0 0 1 1173 1302M1476 1115A517 517 0 0 1 1464 1138M1395 499A424 424 0 0 1 1429 543M1390 1168A495 495 0 0 1 1327 1209M1484 482A503 503 0 0 1 1517 535M715 1065A461 461 0 0 1 684 1021M705 490A476 476 0 0 1 726 465" stroke="#3a4cf4" stroke-width="5.5" opacity="0.45"/>
<path d="M597 675A495 495 0 0 1 600 651M1041 1293A511 511 0 0 1 998 1282M873 1226A489 489 0 0 1 833 1203M899 339A479 479 0 0 1 921 324M623 703A464 464 0 0 1 636 656M1605 770A525 525 0 0 1 1609 792M606 556A525 525 0 0 1 638 498M1024 284A503 503 0 0 1 1065 279M1067 314A469 469 0 0 1 1089 312M606 941A500 500 0 0 1 588 879M1329 335A513 513 0 0 1 1359 353M683 1078A495 495 0 0 1 666 1046M1139 299A488 488 0 0 1 1216 314M1552 554A525 525 0 0 1 1571 606M1252 1281A526 526 0 0 1 1191 1298M734 1183A529 529 0 0 1 691 1145M1270 299A520 520 0 0 1 1291 305M680 473A506 506 0 0 1 698 451M648 1040A503 503 0 0 1 637 1023M1322 421A435 435 0 0 1 1373 461M1514 582A478 478 0 0 1 1531 622M1570 904A505 505 0 0 1 1559 940M1406 1204A533 533 0 0 1 1353 1245M674 472A512 512 0 0 1 718 418M836 365A484 484 0 0 1 880 344M1567 871A495 495 0 0 1 1554 926M663 1118A535 535 0 0 1 617 1059M690 418A535 535 0 0 1 721 383M1541 904A477 477 0 0 1 1524 955M1376 1098A432 432 0 0 1 1347 1123M695 521A465 465 0 0 1 712 499M1122 262A522 522 0 0 1 1149 269M644 564A488 488 0 0 1 657 542M617 519A533 533 0 0 1 632 490M656 930A449 449 0 0 1 645 904M1312 1242A514 514 0 0 1 1257 1265M644 957A470 470 0 0 1 631 925M781 1194A508 508 0 0 1 761 1179M630 617A480 480 0 0 1 657 560M1493 1073A505 505 0 0 1 1474 1106" stroke="#3a4cf4" stroke-width="5.5" opacity="0.45"/>
<path d="M1558 658A494 494 0 0 1 1566 696M1506 977A468 468 0 0 1 1496 1002M563 725A520 520 0 0 1 575 670M1345 392A472 472 0 0 1 1369 405M726 1144A505 505 0 0 1 697 1115M1216 272A528 528 0 0 1 1236 277M1383 1188A506 506 0 0 1 1361 1204M1182 1268A496 496 0 0 1 1148 1273M1211 309A492 492 0 0 1 1241 321M587 752A494 494 0 0 1 594 687M865 1192A462 462 0 0 1 847 1183M1404 507A426 426 0 0 1 1426 534M1134 1288A508 508 0 0 1 1057 1294M966 1239A470 470 0 0 1 914 1222M648 656A450 450 0 0 1 660 614M628 804A453 453 0 0 1 631 764M1540 1018A517 517 0 0 1 1501 1087M779 464A439 439 0 0 1 824 427M685 437A525 525 0 0 1 711 410M893 408A419 419 0 0 1 935 390M1098 1245A462 462 0 0 1 1070 1247M1550 625A496 496 0 0 1 1564 663M1268 1208A465 465 0 0 1 1222 1228M954 343A458 458 0 0 1 987 335M801 360A507 507 0 0 1 833 338M636 735A446 446 0 0 1 642 688M633 668A461 461 0 0 1 648 630M1485 540A472 472 0 0 1 1513 589M1416 575A395 395 0 0 1 1432 611M595 627A509 509 0 0 1 612 591M594 897A499 499 0 0 1 585 834M1353 1149A457 457 0 0 1 1299 1188M1466 1111A506 506 0 0 1 1440 1136M1453 1063A467 467 0 0 1 1406 1112M615 776A465 465 0 0 1 621 714M1556 702A483 483 0 0 1 1560 733M1449 1039A449 449 0 0 1 1420 1082M1580 887A511 511 0 0 1 1564 937M1452 398A536 536 0 0 1 1477 417M1374 412A473 473 0 0 1 1412 449" stroke="#3a4cf4" stroke-width="5.5" opacity="0.45"/>
<path d="M1542 807A463 463 0 0 1 1535 832M1050 279A505 505 0 0 1 1107 277M647 516A509 509 0 0 1 656 496M755 364A530 530 0 0 1 813 327M1081 1298A515 515 0 0 1 1060 1301M948 1247A482 482 0 0 1 904 1233M1454 1073A473 473 0 0 1 1439 1087M1130 290A496 496 0 0 1 1155 292M604 660A491 491 0 0 1 623 604M1008 271A517 517 0 0 1 1047 268M1105 1295A513 513 0 0 1 1055 1296M1047 370A414 414 0 0 1 1073 373M1510 497A516 516 0 0 1 1540 541M1530 854A456 456 0 0 1 1518 923M937 314A490 490 0 0 1 1012 296M1282 328A498 498 0 0 1 1336 358M1323 1180A465 465 0 0 1 1267 1207M907 277A535 535 0 0 1 928 277M646 473A533 533 0 0 1 664 448M743 396A513 513 0 0 1 757 381M825 1241A524 524 0 0 1 765 1200M729 1083A462 462 0 0 1 686 1024M1370 417A467 467 0 0 1 1426 472M1253 1222A471 471 0 0 1 1210 1236M1562 974A519 519 0 0 1 1534 1032M567 930A534 534 0 0 1 563 910M1578 842A501 501 0 0 1 1572 879M1303 1250A517 517 0 0 1 1231 1279M1423 392A520 520 0 0 1 1465 437M908 350A466 466 0 0 1 936 344M1453 431A513 513 0 0 1 1486 469M874 1203A468 468 0 0 1 818 1165M1256 1230A481 481 0 0 1 1203 1248M664 1064A501 501 0 0 1 631 998M620 609A492 492 0 0 1 643 558M940 264A538 538 0 0 1 1008 253M670 940A439 439 0 0 1 657 906M1401 1118A463 463 0 0 1 1377 1135M712 426A513 513 0 0 1 744 395M1543 867A470 470 0 0 1 1522 935" stroke="#3a4cf4" stroke-width="5.5" opacity="0.45"/>
<path d="M1447 1038A447 447 0 0 1 1429 1061M673 1021A472 472 0 0 1 645 961M922 1280A522 522 0 0 1 861 1254M902 1285A533 533 0 0 1 833 1254M962 1225A458 458 0 0 1 937 1220M747 1205A538 538 0 0 1 693 1164M1356 389A482 482 0 0 1 1387 404M1607 885A536 536 0 0 1 1602 907M1290 342A488 488 0 0 1 1341 370M1123 260A525 525 0 0 1 1200 275M918 1211A458 458 0 0 1 870 1190M1295 293A535 535 0 0 1 1357 323M674 502A494 494 0 0 1 693 473M686 575A445 445 0 0 1 700 556M1313 324A515 515 0 0 1 1355 349M1562 814A483 483 0 0 1 1550 893M561 668A532 532 0 0 1 568 628M1278 357A469 469 0 0 1 1313 379M845 1238A512 512 0 0 1 782 1203M613 942A494 494 0 0 1 605 923M583 781A497 497 0 0 1 587 723M1610 825A531 531 0 0 1 1601 889M1174 1273A499 499 0 0 1 1124 1279M1408 461A460 460 0 0 1 1432 486M1557 565A525 525 0 0 1 1567 588M741 1149A499 499 0 0 1 689 1094M1140 1287A508 508 0 0 1 1083 1291M595 586A524 524 0 0 1 606 566M1030 1287A507 507 0 0 1 968 1275M1057 275A509 509 0 0 1 1088 276" stroke="#3a4cf4" stroke-width="5.5" opacity="0.45"/>
<path d="M1129 294A491 491 0 0 1 1171 301M671 517A488 488 0 0 1 695 484M573 719A511 511 0 0 1 587 645M1249 1251A497 497 0 0 1 1176 1271M1320 1240A517 517 0 0 1 1287 1259M1049 301A483 483 0 0 1 1113 303M1519 617A470 470 0 0 1 1526 646M902 1205A458 458 0 0 1 882 1195M625 566A504 504 0 0 1 662 498M1398 1121A464 464 0 0 1 1352 1160M723 459A482 482 0 0 1 772 414M1000 1290A513 513 0 0 1 977 1283M1608 849A532 532 0 0 1 1602 876M1384 1203A518 518 0 0 1 1330 1236M1083 259A524 524 0 0 1 1150 264M702 414A528 528 0 0 1 737 388M1286 1231A493 493 0 0 1 1242 1246M1178 313A480 480 0 0 1 1245 333M610 834A473 473 0 0 1 609 776M940 280A522 522 0 0 1 1017 257M1108 386A398 398 0 0 1 1138 392M1412 449A471 471 0 0 1 1433 475M1293 341A491 491 0 0 1 1326 359M875 1226A488 488 0 0 1 845 1213M580 587A537 537 0 0 1 591 560M849 326A512 512 0 0 1 910 299M1486 1015A468 468 0 0 1 1458 1057M1039 1220A439 439 0 0 1 960 1210M1537 941A483 483 0 0 1 1519 988M1057 1287A504 504 0 0 1 998 1279M634 589A487 487 0 0 1 670 521M834 1257A534 534 0 0 1 768 1220M1001 1299A522 522 0 0 1 969 1299M804 462A423 423 0 0 1 836 435M1515 508A515 515 0 0 1 1543 554M954 1300A533 533 0 0 1 918 1293M1510 879A440 440 0 0 1 1491 939M1570 817A492 492 0 0 1 1559 879M1153 375A415 415 0 0 1 1213 393M966 1275A505 505 0 0 1 925 1262" stroke="#1878f0" stroke-width="5.5" opacity="0.5"/>
<path d="M1190 1309A537 537 0 0 1 1138 1318M745 406A504 504 0 0 1 775 379M1249 1267A513 513 0 0 1 1209 1274M1081 1267A484 484 0 0 1 1031 1266M947 293A508 508 0 0 1 1020 276M1399 1089A442 442 0 0 1 1342 1136M1133 1301A521 521 0 0 1 1092 1306M1244 1242A487 487 0 0 1 1196 1256M1260 1255A505 505 0 0 1 1197 1275M1525 641A467 467 0 0 1 1539 701M672 1083A507 507 0 0 1 630 1015M812 438A437 437 0 0 1 855 409M1547 962A500 500 0 0 1 1527 1001M656 605A460 460 0 0 1 676 563M1114 328A456 456 0 0 1 1183 341M1464 1004A443 443 0 0 1 1440 1038M1546 520A536 536 0 0 1 1562 551M1219 1301A537 537 0 0 1 1158 1310M1298 368A469 469 0 0 1 1324 379M595 728A489 489 0 0 1 605 665M669 997A463 463 0 0 1 652 961M1045 1258A476 476 0 0 1 993 1249M732 400A517 517 0 0 1 788 358M1563 964A516 516 0 0 1 1544 999M694 573A440 440 0 0 1 723 522M688 1141A531 531 0 0 1 639 1080M1506 617A457 457 0 0 1 1529 691M1298 1232A500 500 0 0 1 1239 1254M1489 448A528 528 0 0 1 1519 494M1092 353A430 430 0 0 1 1152 358M1424 1086A458 458 0 0 1 1390 1118M1557 1022A533 533 0 0 1 1544 1047M1396 1143A479 479 0 0 1 1371 1159M811 1156A460 460 0 0 1 759 1117M916 307A503 503 0 0 1 984 291M1345 378A484 484 0 0 1 1366 390M665 504A500 500 0 0 1 708 454M1083 1262A479 479 0 0 1 1046 1263M894 1241A495 495 0 0 1 864 1227M1269 374A451 451 0 0 1 1332 411" stroke="#1878f0" stroke-width="5.5" opacity="0.5"/>
<path d="M633 905A463 463 0 0 1 619 828M1571 1003A538 538 0 0 1 1533 1062M867 1217A483 483 0 0 1 842 1201M1269 1284A535 535 0 0 1 1229 1293M1500 655A439 439 0 0 1 1505 686M1356 1205A504 504 0 0 1 1305 1240M569 710A517 517 0 0 1 578 647M1456 405A533 533 0 0 1 1471 421M1513 917A453 453 0 0 1 1503 950M831 369A483 483 0 0 1 893 333M770 407A487 487 0 0 1 832 357M1249 338A476 476 0 0 1 1274 349M1428 991A406 406 0 0 1 1390 1043M1522 927A465 465 0 0 1 1507 962M722 1051A447 447 0 0 1 680 987M739 1070A446 446 0 0 1 696 1007M655 1021A487 487 0 0 1 635 977M923 330A480 480 0 0 1 978 310M1260 356A464 464 0 0 1 1327 395M1471 474A498 498 0 0 1 1497 513M1217 341A463 463 0 0 1 1243 351M750 1142A488 488 0 0 1 709 1106M1364 384A489 489 0 0 1 1390 401M565 712A520 520 0 0 1 584 640M610 706A476 476 0 0 1 628 639M1420 471A461 461 0 0 1 1464 522M1231 362A448 448 0 0 1 1275 380M1284 1148A418 418 0 0 1 1251 1164M677 617A436 436 0 0 1 693 580M715 466A483 483 0 0 1 774 414M1335 1149A446 446 0 0 1 1314 1162M614 520A535 535 0 0 1 653 459M1381 1178A497 497 0 0 1 1341 1203M1427 395A521 521 0 0 1 1473 442M1182 1276A504 504 0 0 1 1118 1290M547 748A534 534 0 0 1 551 709M1446 531A445 445 0 0 1 1477 582M901 1276A525 525 0 0 1 862 1260M938 1281A518 518 0 0 1 910 1271M588 717A496 496 0 0 1 605 643" stroke="#1878f0" stroke-width="5.5" opacity="0.5"/>
<path d="M1430 1134A496 496 0 0 1 1408 1150M1222 1297A534 534 0 0 1 1150 1312M678 648A424 424 0 0 1 709 575M1561 797A482 482 0 0 1 1554 846M1470 421A532 532 0 0 1 1493 453M593 1002A534 534 0 0 1 576 940M1300 1241A508 508 0 0 1 1228 1272M1533 550A509 509 0 0 1 1558 609M1034 283A502 502 0 0 1 1110 277M993 1312A536 536 0 0 1 971 1308M634 553A502 502 0 0 1 650 516M563 638A537 537 0 0 1 591 568M1493 690A423 423 0 0 1 1498 711M1586 728A509 509 0 0 1 1590 792M1373 1195A505 505 0 0 1 1335 1218M843 345A498 498 0 0 1 894 321M1171 1301A525 525 0 0 1 1115 1310M1132 1276A496 496 0 0 1 1062 1285M1198 282A515 515 0 0 1 1272 307M1463 656A404 404 0 0 1 1478 695M1601 768A521 521 0 0 1 1601 823M1122 332A453 453 0 0 1 1185 343M657 861A430 430 0 0 1 649 840M788 333A537 537 0 0 1 825 314M995 299A491 491 0 0 1 1032 295M1444 530A444 444 0 0 1 1465 562M1315 448A410 410 0 0 1 1359 478M1490 941A439 439 0 0 1 1456 1013M1472 478A497 497 0 0 1 1492 507M659 541A486 486 0 0 1 672 517M1335 395A464 464 0 0 1 1355 414M1561 1014A533 533 0 0 1 1528 1064M797 377A494 494 0 0 1 823 363M579 790A501 501 0 0 1 585 720M1469 490A487 487 0 0 1 1487 520M750 1094A454 454 0 0 1 711 1053M594 581A526 526 0 0 1 610 549M1515 588A477 477 0 0 1 1526 611M1149 337A451 451 0 0 1 1208 349M1334 330A520 520 0 0 1 1373 354" stroke="#1878f0" stroke-width="5.5" opacity="0.5"/>
<path d="M681 1092A504 504 0 0 1 651 1047M1526 558A500 500 0 0 1 1533 579M692 1100A501 501 0 0 1 663 1060" stroke="#1878f0" stroke-width="5.5" opacity="0.5"/>
<path d="M899 330A487 487 0 0 1 928 321M807 1192A492 492 0 0 1 786 1175M737 1049A434 434 0 0 1 732 1040M916 1221A468 468 0 0 1 907 1222M794 1198A504 504 0 0 1 778 1183M704 1158A531 531 0 0 1 685 1141M1398 1176A505 505 0 0 1 1389 1181M1385 1222A534 534 0 0 1 1361 1237M1545 662A480 480 0 0 1 1550 687M1212 1245A481 481 0 0 1 1195 1249M1225 304A500 500 0 0 1 1241 308M882 1240A498 498 0 0 1 864 1229M1465 974A430 430 0 0 1 1452 1001M663 710A423 423 0 0 1 666 700M1438 513A448 448 0 0 1 1452 530M1207 1213A448 448 0 0 1 1175 1212M1506 972A466 466 0 0 1 1498 998M1337 1193A484 484 0 0 1 1323 1200M1501 1006A476 476 0 0 1 1491 1021M1535 878A464 464 0 0 1 1530 901M987 1210A437 437 0 0 1 961 1202M1580 839A503 503 0 0 1 1580 852M1182 316A478 478 0 0 1 1201 319M855 1210A482 482 0 0 1 829 1196M1498 617A450 450 0 0 1 1509 632M1404 1178A511 511 0 0 1 1393 1185M694 504A476 476 0 0 1 711 478M1410 1164A504 504 0 0 1 1403 1171M943 1248A485 485 0 0 1 934 1243M1445 1107A488 488 0 0 1 1425 1134M1303 1263A529 529 0 0 1 1276 1271M623 665A472 472 0 0 1 627 642M1174 1300A525 525 0 0 1 1144 1306M846 415A437 437 0 0 1 854 412M1562 707A488 488 0 0 1 1569 729M1488 910A428 428 0 0 1 1481 935M642 752A439 439 0 0 1 643 733M913 1252A497 497 0 0 1 902 1245M1527 909A465 465 0 0 1 1517 936M856 364A475 475 0 0 1 882 353" stroke="#10b4d0" stroke-width="3.5" opacity="0.5"/>
<path d="M946 364A440 440 0 0 1 954 357M696 1088A490 490 0 0 1 686 1064M665 986A462 462 0 0 1 662 978M915 272A537 537 0 0 1 947 261M821 1155A453 453 0 0 1 808 1141M858 1142A422 422 0 0 1 849 1134M975 339A456 456 0 0 1 995 334M654 540A490 490 0 0 1 669 511M996 274A516 516 0 0 1 1012 272M1550 717A474 474 0 0 1 1549 731M981 298A495 495 0 0 1 1013 290M625 821A456 456 0 0 1 626 812M1597 890A528 528 0 0 1 1591 909M586 843A498 498 0 0 1 584 829M758 1093A447 447 0 0 1 751 1085M1408 1133A480 480 0 0 1 1384 1154M1557 847A481 481 0 0 1 1555 861M1276 1187A449 449 0 0 1 1253 1200M921 307A502 502 0 0 1 931 304M1539 910A476 476 0 0 1 1528 935M1486 762A407 407 0 0 1 1488 783M675 783A405 405 0 0 1 673 766M637 608A476 476 0 0 1 647 586M1465 1061A475 475 0 0 1 1456 1071M636 819A445 445 0 0 1 637 803M611 840A472 472 0 0 1 608 820M1405 1021A403 403 0 0 1 1389 1043M927 1235A478 478 0 0 1 910 1233" stroke="#10b4d0" stroke-width="3.5" opacity="0.5"/>
<path d="M1591 735A514 514 0 0 1 1592 760M1188 292A503 503 0 0 1 1219 302M1387 410A483 483 0 0 1 1403 424M1217 319A484 484 0 0 1 1240 328M1430 1069A452 452 0 0 1 1410 1087M1372 1179A492 492 0 0 1 1349 1199M1532 579A496 496 0 0 1 1539 598M952 1256A490 490 0 0 1 942 1253M1471 1011A452 452 0 0 1 1458 1026M1193 1231A462 462 0 0 1 1182 1232M981 1270A497 497 0 0 1 961 1264M1528 1028A510 510 0 0 1 1526 1038M1009 1289A511 511 0 0 1 985 1285M1578 721A502 502 0 0 1 1578 752M1349 1229A521 521 0 0 1 1340 1234M730 455A479 479 0 0 1 746 440M1396 1063A422 422 0 0 1 1377 1085M1574 879A503 503 0 0 1 1562 903M659 970A461 461 0 0 1 656 952M1510 993A478 478 0 0 1 1502 998M1324 388A465 465 0 0 1 1348 401M1022 1312A532 532 0 0 1 996 1308M1517 543A499 499 0 0 1 1528 565M1423 435A489 489 0 0 1 1441 458M674 1121A529 529 0 0 1 657 1100M1565 745A486 486 0 0 1 1568 761M1084 1255A472 472 0 0 1 1067 1257M1404 1146A486 486 0 0 1 1398 1152M1278 1200A461 461 0 0 1 1252 1215M1421 1017A413 413 0 0 1 1409 1038M1210 1200A437 437 0 0 1 1183 1207M1107 1260A478 478 0 0 1 1086 1262M1053 288A496 496 0 0 1 1071 284M1254 1209A461 461 0 0 1 1224 1221M1281 1220A481 481 0 0 1 1270 1225M1434 1143A505 505 0 0 1 1429 1154M817 1138A442 442 0 0 1 796 1118M1532 826A454 454 0 0 1 1530 858M1483 1052A485 485 0 0 1 1463 1078M1552 986A514 514 0 0 1 1546 1005" stroke="#30e890" stroke-width="3" opacity="0.55"/>
<path d="M1527 967A484 484 0 0 1 1522 977M713 1168A532 532 0 0 1 693 1145M1531 831A453 453 0 0 1 1531 840M1098 348A435 435 0 0 1 1109 352M1317 1158A444 444 0 0 1 1289 1176M1234 1236A479 479 0 0 1 1222 1241" stroke="#30e890" stroke-width="3" opacity="0.55"/>
<path d="M970 1312A540 540 0 0 1 913 1296M1217 1309A543 543 0 0 1 1146 1325M1219 251A550 550 0 0 1 1255 260M786 325A544 544 0 0 1 861 286M1416 361A539 539 0 0 1 1451 388M1435 1196A544 544 0 0 1 1360 1249M1550 505A547 547 0 0 1 1592 585M1429 1212A553 553 0 0 1 1409 1227M1244 252A556 556 0 0 1 1327 293M536 782A544 544 0 0 1 536 747M1128 1333A552 552 0 0 1 1092 1332M533 786A547 547 0 0 1 536 721M1354 1254A544 544 0 0 1 1303 1280M1296 271A556 556 0 0 1 1359 302M1037 245A540 540 0 0 1 1065 247M1623 856A548 548 0 0 1 1614 895M975 1324A551 551 0 0 1 960 1317M1451 377A550 550 0 0 1 1485 405M1338 301A547 547 0 0 1 1402 341M1186 254A540 540 0 0 1 1229 262M565 962A545 545 0 0 1 547 899M709 392A539 539 0 0 1 758 356M559 955A549 549 0 0 1 544 908M831 291A552 552 0 0 1 908 262M1607 936A549 549 0 0 1 1591 981M1408 1220A547 547 0 0 1 1373 1246M555 949A551 551 0 0 1 537 901M934 1317A553 553 0 0 1 886 1304M682 1163A550 550 0 0 1 654 1135M1111 1337A555 555 0 0 1 1041 1336M926 259A546 546 0 0 1 1002 243M1564 511A555 555 0 0 1 1590 567M556 609A552 552 0 0 1 579 560M1585 576A546 546 0 0 1 1604 620M546 877A543 543 0 0 1 537 790M1500 438A543 543 0 0 1 1539 489M1336 1265A546 546 0 0 1 1273 1294M779 1233A541 541 0 0 1 726 1196M547 702A539 539 0 0 1 559 639M1616 701A542 542 0 0 1 1620 726" stroke="#4a10a8" stroke-width="3.5" opacity="0.55"/>
<path d="M1565 1030A544 544 0 0 1 1536 1084M1434 1191A541 541 0 0 1 1402 1221M1103 240A544 544 0 0 1 1150 245M1501 1133A548 548 0 0 1 1480 1154M751 336A555 555 0 0 1 786 314M541 700A546 546 0 0 1 551 652M1628 695A555 555 0 0 1 1635 726M1147 1320A541 541 0 0 1 1102 1326M1025 1320A540 540 0 0 1 951 1308M966 252A543 543 0 0 1 1044 242M1483 1148A544 544 0 0 1 1444 1192M714 383A542 542 0 0 1 758 349M1601 958A550 550 0 0 1 1575 1024M1185 246A548 548 0 0 1 1253 258M563 955A544 544 0 0 1 552 920M1632 746A553 553 0 0 1 1633 829M1596 605A546 546 0 0 1 1600 630M1410 1224A551 551 0 0 1 1366 1252M692 388A554 554 0 0 1 743 347M1557 1032A538 538 0 0 1 1528 1075M1076 1338A555 555 0 0 1 985 1325M579 1012A551 551 0 0 1 567 989M899 272A542 542 0 0 1 938 265M1384 1239A548 548 0 0 1 1365 1258M1539 1074A543 543 0 0 1 1524 1097M1135 230A555 555 0 0 1 1221 249M1347 1257A544 544 0 0 1 1309 1277M633 483A538 538 0 0 1 653 455M1088 235A549 549 0 0 1 1158 237M1336 308A539 539 0 0 1 1367 328M1618 675A549 549 0 0 1 1626 713M1604 918A541 541 0 0 1 1577 1001M1592 575A553 553 0 0 1 1616 649M1618 839A541 541 0 0 1 1602 918M1463 1162A538 538 0 0 1 1453 1171M940 1318A553 553 0 0 1 886 1298M641 460A545 545 0 0 1 701 392M892 267A549 549 0 0 1 966 247M1510 447A546 546 0 0 1 1558 518M866 1296A556 556 0 0 1 819 1272" stroke="#4a10a8" stroke-width="3.5" opacity="0.55"/>
<path d="M1228 1302A539 539 0 0 1 1187 1310M1273 1298A550 550 0 0 1 1246 1311M1385 334A542 542 0 0 1 1409 352M1226 259A544 544 0 0 1 1284 275M1023 238A548 548 0 0 1 1098 235M1580 1025A556 556 0 0 1 1564 1051M1170 243A547 547 0 0 1 1218 251M541 833A542 542 0 0 1 540 751M549 912A547 547 0 0 1 540 863M1586 998A550 550 0 0 1 1567 1040M908 1306A550 550 0 0 1 882 1298M616 484A552 552 0 0 1 635 459M540 652A555 555 0 0 1 557 588M535 833A548 548 0 0 1 530 790M543 701A543 543 0 0 1 555 644M963 1313A543 543 0 0 1 890 1290M1412 1208A540 540 0 0 1 1388 1225M891 1301A551 551 0 0 1 844 1279M1505 1134A551 551 0 0 1 1477 1164M559 612A548 548 0 0 1 584 552M911 1295A539 539 0 0 1 832 1262M1625 854A550 550 0 0 1 1619 893M954 259A539 539 0 0 1 1042 248M1307 1288A554 554 0 0 1 1222 1317M1602 967A554 554 0 0 1 1585 1011M781 322A550 550 0 0 1 863 283M1336 1264A545 545 0 0 1 1303 1282M1617 832A539 539 0 0 1 1611 885M1559 526A544 544 0 0 1 1579 565M1143 1326A547 547 0 0 1 1112 1330M1354 311A546 546 0 0 1 1403 343M1570 1039A553 553 0 0 1 1554 1073M1599 979A554 554 0 0 1 1573 1038M1549 503A546 546 0 0 1 1586 575M546 928A554 554 0 0 1 531 857M1621 827A543 543 0 0 1 1620 864M1599 941A543 543 0 0 1 1575 994M1369 310A555 555 0 0 1 1389 326M708 374A553 553 0 0 1 761 331M531 771A550 550 0 0 1 534 730" stroke="#4a10a8" stroke-width="3.5" opacity="0.55"/>
<path d="M566 581A552 552 0 0 1 585 541M1628 728A551 551 0 0 1 1626 814M1546 1055A539 539 0 0 1 1508 1106M1632 831A554 554 0 0 1 1621 890M1092 1322A539 539 0 0 1 1059 1321M1468 387A554 554 0 0 1 1515 440M547 698A540 540 0 0 1 554 661M1236 1307A547 547 0 0 1 1165 1321M1315 1267A538 538 0 0 1 1271 1292M1291 1292A551 551 0 0 1 1254 1306M687 1163A547 547 0 0 1 670 1139M1419 348A551 551 0 0 1 1450 376M581 1009A548 548 0 0 1 553 939M539 857A546 546 0 0 1 533 827M982 1330A556 556 0 0 1 950 1321M543 668A549 549 0 0 1 559 612M566 602A545 545 0 0 1 578 573M1004 239A549 549 0 0 1 1044 241M753 354A540 540 0 0 1 818 311M1460 383A552 552 0 0 1 1495 420M1633 832A555 555 0 0 1 1618 912M555 922A543 543 0 0 1 544 880M1613 891A543 543 0 0 1 1601 942M1243 1301A543 543 0 0 1 1168 1318M533 707A552 552 0 0 1 554 620M593 546A541 541 0 0 1 612 510M1045 1327A545 545 0 0 1 1017 1324M534 786A546 546 0 0 1 537 762M943 249A552 552 0 0 1 996 235M723 1203A551 551 0 0 1 710 1195M552 933A548 548 0 0 1 540 864M702 1177A546 546 0 0 1 678 1144M1619 693A547 547 0 0 1 1624 729M1003 1332A555 555 0 0 1 964 1328M1494 1131A541 541 0 0 1 1476 1149M1584 558A551 551 0 0 1 1612 629M588 556A542 542 0 0 1 622 494M1002 1330A552 552 0 0 1 931 1314M800 1244A539 539 0 0 1 752 1213M1561 1034A542 542 0 0 1 1542 1067" stroke="#4a10a8" stroke-width="3.5" opacity="0.55"/>
<path d="M1512 440A552 552 0 0 1 1545 488M1634 754A554 554 0 0 1 1636 771M991 1322A546 546 0 0 1 983 1319M1100 1327A544 544 0 0 1 1024 1327M584 551A547 547 0 0 1 600 523M1314 1278A547 547 0 0 1 1250 1304M1461 397A543 543 0 0 1 1507 453M1544 509A539 539 0 0 1 1564 541M871 1287A545 545 0 0 1 836 1269M525 786A555 555 0 0 1 532 718M1335 1265A546 546 0 0 1 1304 1284M598 535A542 542 0 0 1 619 495M1623 733A546 546 0 0 1 1627 788M993 1319A543 543 0 0 1 943 1313M781 1249A553 553 0 0 1 746 1224M676 408A551 551 0 0 1 700 385M1447 381A545 545 0 0 1 1497 428M1249 1296A540 540 0 0 1 1223 1304M1115 1321A539 539 0 0 1 1065 1322M1630 789A550 550 0 0 1 1625 874M857 287A543 543 0 0 1 888 277M1487 1159A554 554 0 0 1 1418 1223M1620 725A543 543 0 0 1 1620 806M1226 265A539 539 0 0 1 1262 278M1629 750A550 550 0 0 1 1629 814M1564 1032A545 545 0 0 1 1533 1086M1329 1269A546 546 0 0 1 1289 1287M561 963A550 550 0 0 1 553 938M921 258A548 548 0 0 1 962 250M1350 313A543 543 0 0 1 1407 344M648 1119A548 548 0 0 1 611 1065M760 340A547 547 0 0 1 787 325M1195 1318A547 547 0 0 1 1161 1324M536 831A546 546 0 0 1 536 786M915 269A540 540 0 0 1 947 260M547 876A541 541 0 0 1 539 817M1635 763A555 555 0 0 1 1635 822M1481 403A552 552 0 0 1 1504 426M681 1147A540 540 0 0 1 665 1124M1150 1333A554 554 0 0 1 1077 1338" stroke="#4a10a8" stroke-width="3.5" opacity="0.55"/>
<path d="M1619 726A542 542 0 0 1 1620 783M526 789A554 554 0 0 1 528 749M1261 1302A549 549 0 0 1 1176 1326M537 859A548 548 0 0 1 534 830M1375 323A547 547 0 0 1 1416 353M1100 1323A541 541 0 0 1 1029 1322M572 1006A555 555 0 0 1 558 962M638 452A552 552 0 0 1 695 382M1099 1331A549 549 0 0 1 1033 1333M822 304A544 544 0 0 1 891 269M532 854A553 553 0 0 1 533 804M1521 462A545 545 0 0 1 1537 485M1576 1031A554 554 0 0 1 1557 1068M811 1264A551 551 0 0 1 758 1228M600 1044A547 547 0 0 1 580 1014M1521 456A549 549 0 0 1 1536 479M1545 1062A542 542 0 0 1 1502 1130M587 1001A540 540 0 0 1 573 969M650 449A544 544 0 0 1 679 413M1329 300A544 544 0 0 1 1394 344M1560 531A542 542 0 0 1 1587 577M623 495A540 540 0 0 1 640 472M1169 1317A542 542 0 0 1 1132 1325M589 559A540 540 0 0 1 631 487M1610 888A541 541 0 0 1 1583 977M1407 1230A554 554 0 0 1 1328 1276M638 468A543 543 0 0 1 675 427M798 314A547 547 0 0 1 837 292M562 948A544 544 0 0 1 540 861M532 691A556 556 0 0 1 544 641M1432 356A554 554 0 0 1 1472 393M959 244A552 552 0 0 1 1021 233M550 926A549 549 0 0 1 533 867M1431 364A546 546 0 0 1 1476 409M890 278A540 540 0 0 1 957 257M799 312A548 548 0 0 1 819 295M622 1078A544 544 0 0 1 592 1034M575 979A542 542 0 0 1 566 954M554 660A541 541 0 0 1 562 630M804 304A553 553 0 0 1 853 279" stroke="#4a10a8" stroke-width="3.5" opacity="0.55"/>
<path d="M749 358A539 539 0 0 1 790 327M1631 831A553 553 0 0 1 1629 862M688 1168A549 549 0 0 1 648 1119M814 309A543 543 0 0 1 899 273M1258 1293A540 540 0 0 1 1216 1304M1520 1114A551 551 0 0 1 1503 1138M1283 284A539 539 0 0 1 1348 318M1222 1312A548 548 0 0 1 1162 1323M547 674A544 544 0 0 1 556 616M1454 387A544 544 0 0 1 1476 410M1539 1089A552 552 0 0 1 1483 1163M1571 538A549 549 0 0 1 1581 569M1457 377A554 554 0 0 1 1490 413M698 1178A550 550 0 0 1 640 1105M786 1237A540 540 0 0 1 729 1194M735 1213A551 551 0 0 1 678 1155M1095 1334A551 551 0 0 1 1059 1334M1274 271A547 547 0 0 1 1304 283M1611 685A540 540 0 0 1 1612 706M1138 239A547 547 0 0 1 1183 246M1273 1303A555 555 0 0 1 1212 1321M1098 237A547 547 0 0 1 1153 242M939 256A546 546 0 0 1 985 243M705 384A548 548 0 0 1 736 355M652 428A556 556 0 0 1 703 372M1233 262A544 544 0 0 1 1283 282M612 1064A546 546 0 0 1 572 987M790 321A545 545 0 0 1 821 302M1483 424A540 540 0 0 1 1528 479M1436 378A539 539 0 0 1 1477 419M1399 336A549 549 0 0 1 1425 353M1610 679A540 540 0 0 1 1620 764M1060 232A551 551 0 0 1 1122 236M1604 651A540 540 0 0 1 1609 678M1376 322A548 548 0 0 1 1437 369M712 1184A545 545 0 0 1 667 1133M1303 287A544 544 0 0 1 1337 303M1363 1251A547 547 0 0 1 1332 1269M1562 534A543 543 0 0 1 1595 602M570 573A551 551 0 0 1 612 492" stroke="#4a10a8" stroke-width="3.5" opacity="0.55"/>
<path d="M556 963A554 554 0 0 1 539 903M1334 288A556 556 0 0 1 1357 302M1215 253A547 547 0 0 1 1253 264M692 1181A556 556 0 0 1 654 1140M691 1165A545 545 0 0 1 652 1122M1560 526A544 544 0 0 1 1572 544M1616 651A552 552 0 0 1 1629 720M1633 725A556 556 0 0 1 1639 786M1376 334A538 538 0 0 1 1408 359M569 612A539 539 0 0 1 576 588M1034 232A553 553 0 0 1 1065 231M1524 467A545 545 0 0 1 1561 531M1623 852A547 547 0 0 1 1615 864M603 513A548 548 0 0 1 619 489M530 762A550 550 0 0 1 531 740M891 274A543 543 0 0 1 944 257M1589 976A545 545 0 0 1 1579 1000M1524 472A542 542 0 0 1 1544 507M742 356A545 545 0 0 1 762 338M1440 381A539 539 0 0 1 1488 431M1519 447A553 553 0 0 1 1548 493M642 1110A547 547 0 0 1 601 1039M1389 328A550 550 0 0 1 1433 362M1625 686A553 553 0 0 1 1635 779M681 1147A540 540 0 0 1 655 1117M539 894A552 552 0 0 1 526 829M1258 1308A554 554 0 0 1 1217 1325M1375 331A540 540 0 0 1 1419 371M663 1127A540 540 0 0 1 621 1067M1553 497A552 552 0 0 1 1582 546" stroke="#4a10a8" stroke-width="3.5" opacity="0.55"/>
<circle cx="657" cy="612" r="3.0" fill="#18064a" opacity="0.55"/>
<circle cx="642" cy="757" r="1.9" fill="#18064a" opacity="0.55"/>
<circle cx="617" cy="731" r="2.2" fill="#18064a" opacity="0.55"/>
<circle cx="667" cy="638" r="2.7" fill="#18064a" opacity="0.55"/>
<circle cx="670" cy="625" r="2.7" fill="#18064a" opacity="0.55"/>
<circle cx="679" cy="685" r="2.4" fill="#18064a" opacity="0.55"/>
<circle cx="672" cy="644" r="2.8" fill="#18064a" opacity="0.55"/>
<circle cx="690" cy="601" r="1.7" fill="#18064a" opacity="0.55"/>
<circle cx="623" cy="725" r="2.9" fill="#18064a" opacity="0.55"/>
<circle cx="661" cy="669" r="2.7" fill="#18064a" opacity="0.55"/>
<circle cx="714" cy="724" r="1.8" fill="#18064a" opacity="0.55"/>
<circle cx="623" cy="757" r="2.8" fill="#18064a" opacity="0.55"/>
<circle cx="672" cy="664" r="2.6" fill="#18064a" opacity="0.55"/>
<circle cx="645" cy="637" r="1.7" fill="#18064a" opacity="0.55"/>
<circle cx="633" cy="686" r="3.1" fill="#18064a" opacity="0.55"/>
<circle cx="675" cy="634" r="2.2" fill="#18064a" opacity="0.55"/>
<circle cx="669" cy="646" r="3.1" fill="#18064a" opacity="0.55"/>
<circle cx="643" cy="795" r="2.8" fill="#18064a" opacity="0.55"/>
<circle cx="676" cy="795" r="2.3" fill="#18064a" opacity="0.55"/>
<circle cx="633" cy="704" r="2.3" fill="#18064a" opacity="0.55"/>
<circle cx="679" cy="644" r="2.0" fill="#18064a" opacity="0.55"/>
<circle cx="681" cy="617" r="2.6" fill="#18064a" opacity="0.55"/>
<circle cx="686" cy="691" r="3.1" fill="#18064a" opacity="0.55"/>
<circle cx="670" cy="693" r="2.3" fill="#18064a" opacity="0.55"/>
<circle cx="673" cy="855" r="2.7" fill="#18064a" opacity="0.55"/>
<circle cx="669" cy="649" r="3.0" fill="#18064a" opacity="0.55"/>
<circle cx="1499" cy="999" r="2.2" fill="#18064a" opacity="0.55"/>
<circle cx="1529" cy="1030" r="2.3" fill="#18064a" opacity="0.55"/>
<circle cx="1505" cy="1047" r="2.4" fill="#18064a" opacity="0.55"/>
<circle cx="1500" cy="1065" r="3.1" fill="#18064a" opacity="0.55"/>
<circle cx="1478" cy="1069" r="2.8" fill="#18064a" opacity="0.55"/>
<circle cx="1492" cy="1084" r="2.2" fill="#18064a" opacity="0.55"/>
<circle cx="1461" cy="1107" r="1.6" fill="#18064a" opacity="0.55"/>
<circle cx="1529" cy="1000" r="2.4" fill="#18064a" opacity="0.55"/>
<circle cx="1518" cy="1107" r="2.8" fill="#18064a" opacity="0.55"/>
<circle cx="1536" cy="978" r="2.5" fill="#18064a" opacity="0.55"/>
<circle cx="1508" cy="1060" r="2.3" fill="#18064a" opacity="0.55"/>
<circle cx="1515" cy="1032" r="2.2" fill="#18064a" opacity="0.55"/>
<circle cx="1487" cy="1155" r="2.0" fill="#18064a" opacity="0.55"/>
<circle cx="1555" cy="1049" r="2.4" fill="#18064a" opacity="0.55"/>
<circle cx="1441" cy="453" r="2.3" fill="#18064a" opacity="0.55"/>
<circle cx="1355" cy="419" r="3.0" fill="#18064a" opacity="0.55"/>
<circle cx="1299" cy="363" r="3.2" fill="#18064a" opacity="0.55"/>
<circle cx="1366" cy="422" r="2.8" fill="#18064a" opacity="0.55"/>
<circle cx="1297" cy="326" r="2.5" fill="#18064a" opacity="0.55"/>
<circle cx="1284" cy="302" r="2.7" fill="#18064a" opacity="0.55"/>
<circle cx="1185" cy="331" r="2.6" fill="#18064a" opacity="0.55"/>
<circle cx="1263" cy="339" r="1.9" fill="#18064a" opacity="0.55"/>
</g>
<g filter="url(#bl)">
<path d="M975 1140L939 1143L903 1139L882 1134L849 1117L813 1093L780 1065L750 1031L720 990L698 954L683 924L672 888L665 852L661 813L661 771L666 732L675 693L690 651L708 612L729 576L753 543L777 516L816 481L855 450L891 426L927 408L964 393L1005 381L1044 374L1083 370L1122 370L1158 374L1197 383L1227 394L1254 407L1290 429L1320 451L1371 497L1413 549L1436 585L1500 693L1516 726L1524 756L1528 789L1527 816L1521 849L1513 870L1503 890L1440 966L1374 995L1272 1054L1203 1085L1131 1106Z" fill="#0a78f0"/>
<path d="M975 1104L942 1106L909 1101L873 1090L835 1071L807 1051L783 1030L711 945L701 927L692 903L684 873L678 834L676 798L677 774L680 750L687 726L700 690L720 651L739 618L762 588L789 558L821 528L864 492L906 463L942 442L978 425L1020 411L1059 401L1098 394L1134 393L1164 395L1194 402L1218 412L1242 426L1294 468L1329 500L1367 543L1424 624L1437 639L1467 667L1498 720L1510 756L1513 771L1515 798L1513 822L1507 846L1494 876L1480 897L1461 919L1440 931L1344 969L1248 1022L1188 1048L1128 1067L1011 1097Z" fill="#0880eb"/>
<path d="M966 1071L936 1070L909 1063L879 1052L846 1033L828 1020L804 997L738 918L726 894L721 879L713 822L712 792L714 771L726 726L738 696L755 663L774 633L795 606L820 579L849 553L897 515L930 493L963 474L996 459L1032 447L1071 437L1104 432L1134 431L1164 434L1188 440L1210 450L1227 461L1296 521L1333 561L1390 639L1415 663L1461 700L1479 717L1492 750L1498 789L1495 822L1487 852L1473 879L1458 889L1395 917L1332 937L1302 949L1233 987L1194 1005L1149 1022L1020 1060L993 1067Z" fill="#0689e6"/>
<path d="M969 1041L948 1040L918 1032L891 1021L867 1008L849 994L829 975L765 899L756 879L751 861L745 810L748 768L758 729L770 702L789 669L807 642L827 618L852 593L885 566L923 537L956 516L1011 489L1050 476L1083 468L1113 464L1137 464L1161 467L1185 475L1201 483L1215 493L1283 555L1308 584L1348 639L1368 660L1437 711L1465 738L1480 762L1485 777L1486 807L1481 828L1470 846L1452 863L1428 876L1401 888L1359 903L1308 916L1278 926L1206 963L1155 985L1086 1007L1014 1033L990 1039Z" fill="#0491e1"/>
<path d="M981 1023L960 1023L933 1017L909 1009L879 993L844 963L782 891L774 873L770 861L764 810L764 786L767 765L777 732L789 705L806 675L827 645L843 627L888 587L936 551L969 530L1020 506L1080 488L1128 483L1152 485L1176 492L1194 501L1206 510L1268 567L1292 594L1329 645L1350 666L1422 716L1437 729L1453 747L1465 768L1469 786L1468 807L1462 825L1453 840L1440 852L1407 871L1347 892L1290 905L1265 912L1206 942L1164 961L1074 992L1020 1015Z" fill="#029adc"/>
<path d="M993 1014L966 1016L945 1012L915 1003L890 990L873 978L856 963L798 898L789 886L782 870L774 831L773 783L781 744L791 720L805 693L824 663L843 639L885 600L957 548L1008 520L1071 499L1101 493L1125 491L1146 493L1167 497L1182 503L1200 515L1256 567L1283 597L1321 648L1342 669L1409 714L1439 741L1455 765L1461 786L1460 804L1455 822L1443 840L1434 848L1424 855L1400 867L1341 887L1284 899L1259 906L1161 953L1089 979L1023 1006Z" fill="#00a2d6"/>
<path d="M996 1008L966 1010L945 1007L918 998L894 986L876 973L861 959L802 894L794 882L787 867L781 846L778 819L778 780L787 741L799 714L814 687L847 642L888 604L963 550L1014 523L1047 511L1080 502L1125 496L1164 502L1179 508L1194 517L1242 562L1274 594L1314 648L1338 672L1404 715L1435 744L1447 762L1454 783L1454 804L1450 816L1444 828L1434 841L1419 853L1392 866L1329 886L1283 894L1251 903L1161 947L1083 975L1026 1000Z" fill="#00a9cf"/>
<path d="M987 1008L966 1008L939 1003L915 994L891 982L858 954L798 885L789 867L785 855L779 807L782 765L791 735L800 714L817 684L839 654L855 636L897 599L969 548L996 533L1023 521L1083 503L1128 498L1149 500L1170 506L1197 521L1258 579L1282 606L1308 642L1326 663L1348 681L1403 717L1432 744L1446 765L1451 783L1451 804L1446 819L1435 837L1428 843L1416 852L1392 864L1335 883L1278 893L1254 900L1158 946L1089 971L1023 999Z" fill="#00b1c7"/>
<path d="M996 1005L972 1007L951 1005L921 995L894 982L861 956L807 895L798 882L790 867L782 831L781 783L788 744L809 699L831 666L850 642L894 602L960 554L987 539L1017 524L1074 506L1104 500L1125 499L1146 501L1170 507L1188 515L1200 525L1257 579L1278 603L1314 651L1335 672L1400 717L1430 744L1443 765L1449 783L1448 804L1444 819L1432 837L1425 843L1413 852L1392 862L1335 881L1278 892L1251 899L1158 944L1089 969L1026 997Z" fill="#00b8c0"/>
<path d="M987 1005L966 1005L939 1000L915 992L891 979L858 951L803 888L790 861L782 816L782 777L791 738L800 717L815 690L834 663L854 639L894 603L966 551L1017 525L1080 506L1125 500L1146 502L1167 506L1182 513L1197 523L1251 574L1277 603L1314 652L1333 672L1398 717L1427 744L1441 765L1446 783L1446 803L1441 819L1431 835L1422 843L1410 852L1389 862L1335 880L1275 891L1251 897L1158 943L1089 968L1023 996Z" fill="#00c0b8"/>
<path d="M996 1003L972 1004L951 1002L922 993L897 981L864 955L810 894L793 867L788 849L784 825L782 780L791 741L801 717L814 693L834 664L855 639L894 604L966 552L1017 526L1080 506L1125 501L1146 502L1167 507L1182 514L1197 524L1251 575L1274 600L1314 654L1332 672L1399 720L1427 747L1438 765L1444 783L1444 801L1439 819L1429 834L1420 843L1410 850L1388 861L1335 879L1275 890L1248 897L1167 937L1089 966L1026 994Z" fill="#00c8b0"/>
<path d="M990 1002L969 1003L945 999L921 991L894 978L861 951L809 891L794 864L788 846L784 816L783 780L786 762L793 738L802 717L816 691L834 665L856 639L894 604L966 553L1017 527L1080 507L1125 501L1146 503L1167 508L1182 515L1197 525L1251 576L1273 600L1313 654L1330 672L1396 720L1424 747L1436 765L1441 783L1441 801L1437 819L1427 834L1417 843L1409 849L1385 861L1332 878L1272 889L1248 895L1192 924L1158 939L1089 964L1023 994Z" fill="#00cfa6"/>
<path d="M999 999L975 1002L954 1000L924 991L900 980L882 968L864 952L813 894L802 879L795 864L786 827L784 783L791 744L801 720L814 696L834 666L854 642L893 606L963 556L1011 530L1074 509L1101 504L1125 502L1143 504L1164 508L1188 519L1203 531L1266 593L1312 654L1329 672L1394 720L1422 747L1433 765L1439 783L1439 801L1434 819L1424 834L1416 841L1406 849L1386 859L1332 877L1272 887L1245 894L1167 934L1089 963L1026 991Z" fill="#00d79d"/>
<path d="M990 999L969 1000L942 996L918 987L894 975L861 948L813 891L797 864L791 846L786 816L784 780L787 762L794 738L804 715L819 689L858 639L894 606L966 554L1017 528L1080 509L1125 503L1149 505L1167 510L1188 520L1203 532L1266 594L1311 654L1327 672L1395 723L1419 747L1430 765L1436 783L1437 801L1432 819L1422 834L1411 843L1383 859L1332 875L1269 886L1245 893L1164 934L1089 961L1023 991Z" fill="#00de94"/>
<path d="M978 999L957 998L933 992L909 982L888 969L857 942L807 881L798 864L793 849L785 801L787 765L797 732L808 708L825 681L865 633L903 600L975 550L1002 536L1032 524L1092 507L1113 504L1137 504L1155 507L1173 513L1197 528L1257 585L1277 609L1311 655L1329 675L1392 723L1416 747L1428 765L1434 783L1434 801L1429 819L1419 834L1405 846L1377 860L1329 875L1269 885L1244 891L1191 920L1155 936L1089 960L1020 990L999 996Z" fill="#00e68b"/>
<path d="M993 996L972 998L948 994L924 987L897 974L879 961L861 944L816 891L798 861L787 816L786 780L788 762L795 738L804 717L819 691L842 660L863 636L897 605L969 554L1020 529L1080 511L1125 505L1149 507L1167 511L1182 518L1194 526L1239 569L1272 603L1309 654L1326 673L1389 723L1414 747L1425 765L1431 783L1432 801L1428 816L1419 831L1409 840L1401 846L1378 858L1329 873L1266 884L1242 890L1164 931L1089 958L1023 988Z" fill="#05ea81"/>
<path d="M981 996L957 995L939 991L912 980L891 968L860 942L811 882L801 864L795 847L787 804L788 765L798 732L809 708L825 683L866 633L906 599L948 569L978 550L1002 537L1032 525L1092 509L1113 506L1137 506L1173 515L1197 530L1257 588L1326 675L1387 723L1411 747L1423 765L1429 783L1429 801L1425 816L1416 831L1406 840L1399 846L1374 858L1326 873L1266 882L1242 888L1191 916L1161 930L1089 957L1020 988L999 994Z" fill="#0dee78"/>
<path d="M993 994L972 995L948 992L924 984L899 972L882 960L864 944L819 891L801 860L794 840L789 813L788 774L797 735L807 714L822 689L843 660L865 636L897 607L969 556L1020 530L1083 512L1125 506L1149 508L1167 513L1182 520L1194 528L1238 570L1270 603L1325 675L1384 723L1408 747L1420 765L1426 783L1427 801L1423 816L1414 831L1407 837L1395 846L1377 855L1329 871L1263 881L1239 888L1191 915L1164 927L1089 955L1023 985Z" fill="#15f16f"/>
<path d="M987 993L963 993L942 989L918 980L897 969L879 956L861 939L817 885L804 864L798 848L789 807L788 783L790 765L799 732L810 709L825 686L868 633L906 601L948 570L978 551L1002 539L1032 527L1095 510L1116 507L1137 508L1155 511L1173 516L1197 532L1247 579L1272 607L1323 675L1385 726L1406 747L1417 765L1423 783L1424 798L1420 816L1411 831L1404 837L1395 844L1374 855L1326 870L1263 880L1239 886L1164 926L1089 953L1023 984Z" fill="#1cf466"/>
<path d="M996 990L975 993L954 990L930 984L903 971L886 960L867 944L827 897L812 876L804 861L792 820L789 780L791 762L798 738L807 717L822 691L845 660L866 636L897 608L969 557L993 544L1020 532L1080 514L1125 508L1146 510L1164 514L1179 520L1194 530L1245 579L1272 608L1323 676L1382 726L1403 747L1415 765L1421 783L1422 798L1418 816L1408 831L1398 840L1371 855L1326 869L1260 879L1236 885L1190 912L1164 924L1089 952L1026 981Z" fill="#24f85c"/>
<path d="M990 990L969 991L945 987L921 979L900 968L882 956L864 939L822 888L803 855L796 834L791 810L790 789L791 768L800 732L812 708L828 684L870 633L906 602L950 570L979 552L1005 539L1033 528L1095 512L1116 509L1137 509L1155 512L1173 518L1197 534L1251 586L1272 609L1323 678L1380 726L1400 747L1412 765L1418 783L1420 798L1415 816L1406 831L1395 840L1368 855L1323 868L1260 877L1236 883L1188 911L1164 923L1089 950L1023 981Z" fill="#31f854"/>
<path d="M996 988L978 990L957 988L939 984L916 975L894 963L878 951L846 917L814 873L805 855L797 834L792 808L790 783L792 765L798 740L807 719L822 693L866 639L894 612L966 561L1011 537L1047 524L1080 516L1125 509L1149 512L1166 516L1179 522L1193 531L1245 581L1275 614L1322 678L1377 726L1398 747L1409 765L1415 780L1417 798L1414 813L1405 828L1399 834L1388 843L1368 853L1323 867L1257 876L1235 882L1189 909L1164 921L1089 949L1026 978Z" fill="#3ef84c"/>
<path d="M990 987L963 988L944 984L919 975L902 966L888 957L867 939L828 891L806 855L794 813L792 795L792 770L801 734L810 714L825 690L870 635L903 606L971 558L993 546L1021 534L1082 516L1128 510L1151 513L1171 519L1195 534L1251 588L1272 612L1320 678L1338 696L1374 726L1395 747L1407 765L1413 780L1414 798L1410 816L1402 828L1389 840L1367 852L1317 867L1257 875L1233 881L1191 906L1161 921L1089 947L1023 978Z" fill="#4cf843"/>
<path d="M996 984L978 986L951 984L930 977L906 966L888 955L870 939L834 897L819 876L809 858L801 838L795 814L793 774L796 753L802 735L811 714L826 690L870 636L900 610L972 559L995 546L1023 534L1083 517L1125 511L1149 514L1168 519L1194 534L1251 589L1272 614L1318 678L1374 729L1390 747L1402 765L1408 780L1409 798L1407 813L1398 828L1391 834L1383 841L1362 851L1321 864L1254 874L1233 879L1162 918L1089 946L1027 975Z" fill="#59f83b"/>
<path d="M984 984L963 984L945 980L921 971L900 960L867 933L825 883L813 863L805 846L795 807L793 783L795 765L804 732L814 711L829 687L873 635L909 604L978 556L1002 544L1032 532L1095 516L1116 513L1137 513L1155 516L1173 522L1195 537L1251 591L1274 618L1316 678L1370 729L1386 747L1395 762L1403 780L1405 795L1402 813L1395 825L1386 834L1359 850L1317 863L1254 872L1230 879L1185 905L1152 920L1089 945L1023 975L1002 981Z" fill="#66f833"/>
<path d="M993 981L972 982L951 979L927 972L906 961L888 949L870 933L831 889L810 855L797 813L795 774L798 753L804 735L812 717L826 693L870 639L900 612L972 561L996 548L1023 536L1083 519L1125 513L1146 515L1164 520L1181 528L1194 537L1249 591L1273 618L1314 678L1379 744L1391 762L1398 780L1400 795L1398 810L1390 825L1384 831L1374 839L1356 848L1315 861L1251 871L1230 877L1152 918L1089 943L1029 971Z" fill="#71f62e"/>
<path d="M999 978L981 980L954 978L933 972L909 961L891 949L873 934L834 890L813 858L805 837L799 813L796 774L799 753L805 735L813 717L827 693L871 639L901 612L972 562L1017 540L1080 521L1125 515L1161 520L1176 526L1192 537L1251 594L1272 619L1319 687L1372 741L1386 762L1392 777L1395 795L1393 810L1382 828L1371 837L1355 846L1314 859L1251 870L1229 876L1149 917L1035 967Z" fill="#7bf429"/>
<path d="M984 978L966 977L942 972L924 966L903 954L867 925L828 880L816 861L808 843L799 807L797 783L798 765L807 732L817 711L832 687L873 638L903 612L951 577L978 559L1029 536L1062 526L1095 519L1116 516L1137 516L1170 525L1194 540L1255 600L1275 625L1317 688L1368 741L1381 762L1387 777L1390 795L1388 810L1382 822L1370 834L1348 846L1314 857L1251 868L1227 875L1158 911L1038 964L1011 974Z" fill="#86f324"/>
<path d="M993 975L972 976L954 973L933 967L912 957L876 931L833 885L813 852L801 810L798 789L799 768L808 732L818 711L834 687L873 639L903 613L972 564L1017 542L1080 523L1125 517L1143 518L1161 522L1176 529L1192 540L1253 600L1275 627L1316 690L1361 738L1375 759L1382 777L1385 792L1383 810L1377 822L1368 831L1347 844L1314 855L1248 867L1227 874L1149 913L1047 959L1017 970Z" fill="#90f11f"/>
<path d="M999 973L978 974L957 972L936 966L915 957L897 945L876 928L835 885L815 852L807 831L802 810L800 771L808 735L816 717L830 693L873 641L903 614L972 565L1017 543L1080 524L1125 518L1143 519L1161 523L1179 532L1194 543L1246 594L1267 618L1307 681L1350 729L1365 750L1377 777L1380 792L1379 807L1374 819L1366 828L1359 834L1342 843L1314 852L1248 866L1224 873L1146 912L1050 956L1023 967Z" fill="#9aef19"/>
<path d="M1005 970L984 972L963 971L942 966L921 957L885 933L840 889L817 855L810 837L804 813L801 774L804 753L809 735L817 717L832 693L873 642L904 615L972 566L1017 544L1080 525L1125 519L1143 520L1161 525L1180 534L1194 545L1245 595L1268 621L1305 681L1346 729L1360 750L1372 777L1375 792L1374 807L1369 819L1364 825L1356 832L1341 841L1314 850L1245 865L1224 872L1050 955Z" fill="#a5eb14"/>
<path d="M996 969L975 970L957 968L936 962L915 952L876 923L836 882L816 849L804 810L802 789L802 768L811 732L821 711L835 690L874 642L905 615L975 565L1026 542L1083 525L1125 520L1146 522L1161 526L1179 534L1194 546L1245 596L1266 621L1305 684L1340 726L1354 747L1367 777L1370 792L1369 807L1364 819L1356 828L1336 840L1311 848L1254 861L1224 870L1050 953L1020 964Z" fill="#afe80e"/>
<path d="M1002 966L981 968L960 966L939 960L918 951L899 939L876 920L838 882L817 849L805 810L803 771L811 735L832 696L851 669L873 644L906 615L975 566L999 554L1026 543L1083 526L1125 521L1146 523L1161 527L1179 536L1194 547L1244 597L1267 624L1303 684L1336 726L1350 747L1363 780L1365 792L1364 807L1359 819L1351 828L1332 839L1308 847L1242 862L1221 869L1053 950L1026 960Z" fill="#bae408"/>
<path d="M1008 963L987 966L966 965L945 960L927 953L907 942L888 928L858 902L840 883L819 849L807 810L804 771L812 735L833 696L873 645L906 617L975 567L1020 546L1080 528L1125 522L1158 527L1179 537L1194 549L1245 600L1268 627L1300 684L1332 726L1345 747L1359 783L1361 798L1359 807L1356 816L1347 827L1330 837L1305 845L1251 858L1221 868L1164 893L1062 945L1035 956Z" fill="#c4e102"/>
<path d="M996 963L960 962L939 956L921 948L879 918L855 897L839 879L819 846L808 810L805 789L806 768L814 732L825 711L838 690L876 643L906 618L975 568L999 556L1026 545L1083 529L1125 523L1146 525L1161 529L1179 538L1200 556L1248 604L1271 633L1298 684L1329 726L1342 750L1355 789L1356 801L1353 813L1343 825L1326 836L1306 843L1251 856L1227 864L1164 891L1104 923L1062 944L1026 957Z" fill="#cedc00"/>
<path d="M1005 960L984 962L963 960L945 956L926 948L906 936L879 915L855 895L841 879L822 849L809 810L807 789L807 768L816 732L825 712L839 690L876 645L907 618L975 570L1020 548L1080 530L1125 524L1140 525L1158 529L1179 540L1194 552L1248 606L1269 633L1296 684L1325 726L1336 747L1350 789L1351 801L1348 813L1339 825L1323 834L1227 862L1164 889L1104 922L1062 942L1031 954Z" fill="#d7d600"/>
<path d="M1011 957L990 960L969 959L948 955L931 948L910 936L882 915L843 880L822 847L810 808L808 780L809 765L816 734L834 699L858 666L876 646L909 618L971 573L1013 552L1069 534L1122 525L1137 526L1158 531L1177 540L1195 555L1248 608L1269 635L1294 684L1320 723L1329 741L1345 786L1347 801L1344 811L1333 825L1317 834L1245 853L1221 862L1164 886L1113 915L1066 939L1035 951Z" fill="#e1d000"/>
<path d="M1011 954L990 957L969 956L951 953L933 946L912 935L885 915L861 896L845 879L826 849L813 810L811 771L819 735L838 696L855 672L876 648L903 624L974 573L1017 552L1074 534L1122 527L1141 528L1158 532L1179 543L1200 561L1247 609L1269 638L1293 687L1316 723L1326 744L1339 786L1340 798L1336 810L1327 822L1312 831L1224 858L1161 884L1065 937L1038 947Z" fill="#eaca00"/>
<path d="M1008 951L984 954L966 953L948 948L930 941L912 932L885 913L862 894L848 879L837 864L828 846L817 807L815 768L823 732L832 711L845 690L876 651L910 621L951 590L978 572L1026 550L1080 535L1125 528L1143 530L1158 534L1179 546L1200 564L1246 612L1269 642L1320 741L1331 783L1332 798L1329 807L1320 819L1305 828L1218 856L1161 881L1065 933L1038 944Z" fill="#f3c500"/>
<path d="M1008 948L987 951L969 950L954 947L933 940L912 929L885 910L865 894L851 879L833 849L825 828L820 807L818 786L819 765L828 729L847 690L878 651L913 621L951 592L978 574L1029 551L1080 536L1125 530L1143 532L1158 536L1176 546L1197 564L1244 612L1266 642L1314 738L1324 780L1324 795L1322 801L1320 807L1312 816L1298 825L1209 855L1116 900L1065 930L1035 941Z" fill="#f6bc00"/>
<path d="M1008 945L987 948L969 947L948 942L930 935L906 922L882 906L861 888L851 876L833 843L823 804L822 780L823 762L832 726L852 687L879 653L897 636L935 606L978 576L1022 555L1074 539L1122 532L1137 533L1155 537L1176 548L1197 566L1244 615L1266 645L1308 735L1316 771L1316 795L1312 804L1304 813L1291 822L1203 854L1110 899L1063 927L1035 938Z" fill="#f8b200"/>
<path d="M1008 942L972 944L954 941L933 934L912 923L885 905L867 891L854 876L845 861L837 843L827 801L827 762L838 720L856 684L882 652L937 606L981 576L1023 556L1074 541L1122 534L1140 535L1155 539L1176 550L1197 569L1242 616L1265 648L1278 672L1303 732L1310 768L1308 792L1299 808L1284 819L1194 853L1152 876L1107 895L1079 915L1059 926L1035 935Z" fill="#fba900"/>
<path d="M1005 940L987 942L969 941L948 936L930 929L906 917L882 901L864 885L854 873L845 855L837 834L830 795L831 759L842 717L858 684L886 651L945 602L984 576L1031 555L1077 542L1122 535L1140 537L1155 541L1175 552L1195 570L1241 618L1265 651L1281 685L1298 732L1303 768L1300 792L1289 807L1277 816L1200 846L1152 872L1113 888L1078 912L1059 922L1032 933Z" fill="#fda000"/>
<path d="M1005 937L987 939L969 938L948 933L930 926L888 903L870 888L858 874L849 858L840 834L833 795L835 756L846 714L861 684L888 652L943 606L987 577L1035 556L1081 543L1122 537L1146 540L1155 543L1176 555L1209 587L1248 630L1265 657L1281 691L1294 732L1298 768L1293 789L1283 804L1269 814L1197 843L1149 870L1109 885L1080 907L1059 919L1035 928Z" fill="#ff9700"/>
<path d="M1005 934L984 936L966 934L930 923L909 912L886 897L869 882L860 870L852 855L843 831L837 792L839 753L851 711L867 681L894 651L951 604L990 579L1035 559L1083 546L1122 541L1140 543L1155 547L1173 557L1194 577L1239 625L1261 657L1279 696L1290 732L1294 768L1289 789L1278 804L1264 813L1194 841L1149 866L1107 882L1080 904L1059 916L1029 927Z" fill="#ff8e00"/>
<path d="M1008 930L993 932L972 931L935 921L892 897L874 882L864 870L856 855L848 834L840 792L843 756L854 714L869 684L894 655L951 609L990 583L1035 563L1083 550L1122 545L1137 546L1152 550L1172 561L1191 579L1236 627L1257 657L1271 687L1286 729L1290 762L1286 786L1278 799L1263 811L1191 838L1149 862L1113 875L1077 902L1059 913L1035 922Z" fill="#ff8600"/>
<path d="M1008 927L990 929L972 928L936 918L894 894L876 879L867 867L859 852L851 831L844 792L846 756L858 714L873 685L897 657L954 611L993 586L1036 567L1083 554L1122 549L1140 550L1152 554L1170 564L1189 582L1234 630L1254 660L1271 696L1283 732L1286 765L1283 786L1275 798L1260 809L1182 838L1146 859L1107 874L1080 897L1062 908L1038 918Z" fill="#ff7e00"/>
<path d="M1008 924L990 926L972 925L936 914L894 890L879 877L870 865L863 852L854 828L848 789L851 753L862 714L876 686L902 657L959 612L996 588L1038 570L1086 557L1122 552L1140 554L1152 558L1170 569L1187 585L1231 633L1252 663L1268 699L1279 735L1283 765L1279 786L1270 798L1257 808L1179 836L1146 855L1107 871L1080 894L1062 905L1032 917Z" fill="#ff7500"/>
<path d="M1008 921L990 923L975 922L939 911L898 888L883 876L874 864L865 849L858 828L851 789L854 753L865 714L880 687L904 660L960 616L996 593L1038 574L1083 561L1122 556L1149 560L1167 571L1185 588L1229 636L1249 666L1265 702L1276 735L1279 765L1275 785L1269 795L1254 806L1176 833L1143 852L1107 867L1080 890L1062 902L1032 914Z" fill="#ff6d00"/>
<path d="M1008 918L975 919L942 909L900 885L886 873L876 861L869 849L861 825L855 787L858 753L869 714L884 687L906 663L963 618L996 597L1038 578L1077 566L1119 560L1134 560L1148 564L1164 573L1177 585L1224 636L1245 666L1260 699L1272 735L1275 765L1272 783L1264 795L1251 804L1173 831L1142 849L1107 863L1086 882L1065 897L1031 912Z" fill="#ff6400"/>
<path d="M1002 909L972 907L939 895L906 875L887 855L873 822L867 786L871 750L882 714L896 690L919 666L972 627L1008 604L1053 586L1095 575L1125 572L1146 576L1161 585L1173 597L1218 648L1234 672L1249 705L1259 735L1263 762L1260 780L1254 790L1239 800L1164 822L1137 838L1107 850L1080 876L1059 890L1026 904Z" fill="#ff5c00"/>
</g>
<g filter="url(#bl4)">
<ellipse cx="1055" cy="700" rx="60" ry="22" fill="#e83800" opacity="0.55" transform="rotate(-25 1055 700)"/>
<ellipse cx="960" cy="760" rx="40" ry="14" fill="#d83000" opacity="0.50" transform="rotate(40 960 760)"/>
<ellipse cx="1180" cy="700" rx="45" ry="60" fill="#f04400" opacity="0.45" transform="rotate(0 1180 700)"/>
<ellipse cx="1240" cy="640" rx="40" ry="50" fill="#f04400" opacity="0.40" transform="rotate(20 1240 640)"/>
<ellipse cx="1010" cy="860" rx="70" ry="18" fill="#f04400" opacity="0.40" transform="rotate(10 1010 860)"/>
<ellipse cx="1130" cy="830" rx="50" ry="16" fill="#f04400" opacity="0.40" transform="rotate(-20 1130 830)"/>
<ellipse cx="900" cy="700" rx="18" ry="50" fill="#e83800" opacity="0.40" transform="rotate(10 900 700)"/>
<ellipse cx="1080" cy="600" rx="60" ry="14" fill="#ff7a00" opacity="0.50" transform="rotate(0 1080 600)"/>
<ellipse cx="1150" cy="900" rx="80" ry="16" fill="#ff8a00" opacity="0.35" transform="rotate(-28 1150 900)"/>
</g>
<g class="gr">
<circle cx="1080" cy="783" r="541.9"/>
<circle cx="1080" cy="783" r="485.8"/>
<circle cx="1080" cy="783" r="396.7"/>
<circle cx="1080" cy="783" r="280.5"/>
<circle cx="1080" cy="783" r="145.2"/>
<path d="M1080 783 L1080.0 222.0"/>
<path d="M1080 783 L1360.5 297.2"/>
<path d="M1080 783 L1565.8 502.5"/>
<path d="M1080 783 L1641.0 783.0"/>
<path d="M1080 783 L1565.8 1063.5"/>
<path d="M1080 783 L1360.5 1268.8"/>
<path d="M1080 783 L799.5 1268.8"/>
<path d="M1080 783 L594.2 1063.5"/>
<path d="M1080 783 L519.0 783.0"/>
<path d="M1080 783 L594.2 502.5"/>
<path d="M1080 783 L799.5 297.2"/>
</g>
<g fill="#640000" fill-rule="nonzero">
<path d="M1345.8 802.7L1340.7 805.9L1335.7 809.2L1330.4 812.5L1325.0 815.8L1319.5 818.9L1314.0 821.9L1308.5 825.0L1302.8 828.0L1297.1 830.8L1291.3 833.5L1285.4 836.1L1279.6 838.8L1273.7 841.6L1267.9 844.4L1262.2 847.3L1256.4 850.3L1250.6 853.3L1244.8 856.3L1238.9 859.3L1233.1 862.3L1227.2 865.3L1221.4 868.3L1215.7 871.4L1210.0 874.5L1204.5 877.6L1199.2 880.9L1194.0 884.3L1188.9 887.7L1183.8 891.2L1178.8 894.7L1173.8 898.1L1168.8 901.5L1163.7 904.9L1158.4 908.3L1153.0 911.7L1147.6 915.1L1142.0 918.4L1136.5 921.7L1131.0 924.8L1125.4 927.9L1119.9 930.8L1114.4 933.6L1108.9 936.3L1103.4 938.9L1097.9 941.4L1092.4 943.7L1086.8 946.0L1081.2 948.1L1075.6 950.2L1069.9 952.1L1064.1 953.9L1058.4 955.5L1052.6 957.1L1046.7 958.5L1040.9 959.7L1034.9 960.9L1028.9 961.9L1022.8 962.8L1016.7 963.6L1010.5 964.2L1004.3 964.6L998.2 964.9L992.1 964.9L986.0 964.7L979.9 964.1L973.9 963.3L967.9 962.2L962.0 960.8L956.1 959.0L950.3 957.0L944.7 954.7L939.1 952.2L933.6 949.4L928.2 946.4L922.9 943.3L917.7 939.9L912.7 936.5L907.8 932.8L903.0 929.1L898.4 925.2L893.9 921.2L889.5 917.1L885.2 912.7L881.0 908.2L876.8 903.5L872.8 898.7L868.9 893.8L865.3 888.7L861.8 883.5L858.5 878.1L855.4 872.6L852.5 866.9L849.6 861.1L846.9 855.2L844.3 849.2L841.7 843.1L839.4 837.1L837.1 831.2L835.0 825.2L833.0 819.2L831.2 813.2L829.6 807.2L828.1 801.1L826.9 795.0L825.8 788.9L824.9 782.8L824.2 776.8L823.7 770.9L823.4 764.9L823.2 758.9L823.2 752.9L823.4 746.8L823.8 740.8L824.4 734.7L825.2 728.6L826.3 722.7L827.6 716.9L829.3 711.2L831.2 705.5L833.3 699.9L835.6 694.1L838.0 688.4L840.5 682.5L843.0 676.6L845.6 670.6L848.1 664.7L850.6 658.8L853.3 653.0L856.0 647.4L858.9 642.0L861.9 636.8L865.1 631.9L868.6 627.2L872.2 622.7L876.1 618.4L880.2 614.1L884.4 609.9L888.6 605.7L892.9 601.7L897.2 597.6L901.6 593.5L906.2 589.5L910.8 585.5L915.5 581.5L920.4 577.7L925.2 574.0L930.1 570.4L935.1 567.0L940.2 563.7L945.3 560.5L950.5 557.4L955.8 554.3L961.1 551.3L966.4 548.4L971.8 545.4L977.2 542.5L982.6 539.6L988.0 536.7L993.5 533.8L999.0 530.9L1004.5 528.1L1010.0 525.4L1015.5 522.7L1021.0 520.2L1026.6 517.7L1032.3 515.4L1038.0 513.1L1043.9 510.9L1049.8 508.9L1055.7 506.9L1061.6 505.1L1067.4 503.3L1073.3 501.8L1079.1 500.3L1084.9 499.0L1090.7 497.8L1096.5 496.9L1102.2 496.2L1107.9 495.7L1113.6 495.5L1119.3 495.5L1125.1 495.8L1131.0 496.3L1136.9 497.0L1142.8 497.8L1148.7 498.7L1154.5 499.9L1160.2 501.3L1165.8 502.9L1171.3 505.0L1176.5 507.4L1181.6 510.2L1186.6 513.4L1191.5 516.9L1196.3 520.8L1201.1 524.9L1205.9 529.1L1210.7 533.4L1215.5 537.6L1220.2 541.9L1224.8 546.0L1229.4 550.2L1233.9 554.3L1238.4 558.5L1242.8 562.6L1247.2 566.9L1251.5 571.1L1255.7 575.5L1259.7 579.8L1263.7 584.2L1267.6 588.6L1271.5 593.1L1275.3 597.6L1279.2 602.3L1283.0 607.0L1286.8 611.8L1290.6 616.6L1294.5 621.5L1298.3 626.5L1302.1 631.6L1306.0 636.7L1309.8 641.9L1313.6 647.1L1317.2 652.2L1320.7 657.2L1323.9 662.2L1326.9 667.1L1329.7 672.1L1332.3 677.3L1334.7 682.5L1337.3 687.9L1340.0 693.3L1342.9 698.7L1346.0 704.0L1349.2 709.4L1352.3 714.8L1355.4 720.3L1358.3 725.9L1361.0 731.7L1363.4 737.7L1365.6 743.7L1367.6 749.8L1369.2 756.0L1370.4 762.2L1371.2 768.4L1371.4 774.7L1371.2 781.0L1370.8 787.5L1369.9 794.2L1368.5 801.0L1367.8 804.5L1369.1 804.9L1370.8 801.8L1373.8 795.4L1376.4 788.8L1378.4 781.9L1379.0 774.9L1378.8 767.9L1378.0 761.0L1376.7 754.3L1375.0 747.7L1373.0 741.2L1370.7 734.9L1368.1 728.6L1365.3 722.5L1362.3 716.6L1359.2 710.9L1356.0 705.4L1352.8 700.0L1349.8 694.8L1347.0 689.7L1344.5 684.5L1342.0 679.1L1339.5 673.8L1336.8 668.4L1333.9 663.1L1330.8 657.9L1327.4 652.7L1323.9 647.5L1320.2 642.3L1316.4 637.0L1312.6 631.8L1308.7 626.6L1304.9 621.5L1301.0 616.5L1297.2 611.5L1293.4 606.6L1289.5 601.7L1285.7 597.0L1281.8 592.3L1277.9 587.6L1274.0 583.1L1270.0 578.5L1266.0 574.1L1261.8 569.6L1257.5 565.2L1253.2 560.8L1248.8 556.5L1244.3 552.2L1239.7 548.0L1235.2 543.8L1230.6 539.7L1225.9 535.5L1221.2 531.2L1216.5 526.9L1211.7 522.6L1206.8 518.3L1201.8 514.1L1196.8 510.0L1191.5 506.2L1186.1 502.7L1180.5 499.6L1174.6 496.9L1168.6 494.6L1162.5 492.8L1156.4 491.3L1150.3 490.0L1144.1 489.0L1138.0 488.2L1131.9 487.5L1125.7 486.9L1119.6 486.6L1113.5 486.6L1107.4 486.8L1101.3 487.3L1095.2 488.0L1089.1 489.0L1083.0 490.2L1077.0 491.5L1071.0 493.1L1065.0 494.7L1059.0 496.5L1052.9 498.4L1046.9 500.4L1040.8 502.5L1034.8 504.7L1028.9 507.1L1023.1 509.5L1017.3 512.0L1011.7 514.7L1006.1 517.4L1000.5 520.1L994.9 523.0L989.4 525.9L983.9 528.8L978.4 531.7L972.9 534.7L967.5 537.6L962.1 540.6L956.8 543.6L951.4 546.6L946.0 549.7L940.7 552.9L935.4 556.2L930.2 559.6L925.0 563.2L919.9 566.9L914.9 570.7L910.0 574.7L905.1 578.7L900.4 582.9L895.7 587.0L891.2 591.1L886.8 595.2L882.5 599.4L878.1 603.6L873.8 607.9L869.6 612.3L865.4 616.9L861.5 621.7L857.7 626.8L854.2 632.1L850.9 637.6L847.9 643.3L845.0 649.1L842.3 655.0L839.7 661.0L837.1 667.0L834.5 673.0L832.0 678.8L829.5 684.7L827.0 690.6L824.6 696.4L822.3 702.4L820.3 708.4L818.5 714.5L817.0 720.8L815.8 727.1L814.9 733.5L814.3 740.0L813.8 746.4L813.6 752.7L813.6 759.0L813.7 765.3L814.0 771.5L814.5 777.8L815.2 784.1L816.1 790.4L817.2 796.8L818.5 803.2L820.0 809.6L821.7 815.9L823.6 822.2L825.6 828.4L827.7 834.6L830.0 840.7L832.5 846.9L835.0 853.1L837.7 859.3L840.5 865.4L843.4 871.5L846.5 877.5L849.8 883.3L853.3 889.0L857.1 894.5L861.1 899.8L865.3 904.9L869.6 909.9L874.0 914.7L878.5 919.3L883.1 923.8L887.7 928.0L892.5 932.1L897.4 936.1L902.5 939.9L907.7 943.6L913.0 947.1L918.5 950.5L924.1 953.7L929.8 956.8L935.6 959.6L941.6 962.1L947.6 964.4L953.8 966.5L960.0 968.2L966.3 969.7L972.7 970.8L979.1 971.7L985.5 972.2L991.9 972.5L998.3 972.4L1004.7 972.2L1011.1 971.7L1017.5 971.1L1023.8 970.3L1030.1 969.4L1036.3 968.3L1042.4 967.1L1048.4 965.8L1054.4 964.4L1060.4 962.8L1066.3 961.1L1072.2 959.2L1078.0 957.2L1083.8 955.2L1089.6 953.0L1095.3 950.6L1100.9 948.2L1106.5 945.7L1112.2 943.0L1117.8 940.3L1123.4 937.4L1129.0 934.4L1134.6 931.3L1140.2 928.1L1145.9 924.8L1151.4 921.4L1157.0 918.0L1162.4 914.6L1167.7 911.1L1172.9 907.7L1178.0 904.2L1183.1 900.7L1188.1 897.3L1193.0 893.8L1198.0 890.4L1203.1 887.2L1208.3 884.0L1213.7 880.9L1219.2 877.9L1224.9 874.9L1230.6 871.9L1236.5 868.9L1242.3 865.9L1248.2 862.9L1254.0 859.9L1259.8 856.9L1265.5 853.9L1271.2 851.0L1276.9 848.2L1282.7 845.5L1288.5 842.9L1294.4 840.2L1300.3 837.5L1306.2 834.6L1312.0 831.5L1317.7 828.3L1323.1 824.5L1328.3 820.4L1333.2 816.3L1337.9 812.1L1342.3 807.9L1346.6 803.7Z"/>
<path d="M954.3 962.7L968.1 960.0L964.9 971.9ZM844.1 662.3L845.4 676.9L832.7 671.4ZM1150.4 494.5L1136.7 499.2L1138.8 485.9ZM1302.0 624.5L1289.1 618.4L1299.4 610.5Z"/>
<path d="M1312.6 774.7L1307.5 778.0L1302.3 781.4L1297.1 784.8L1291.8 788.2L1286.6 791.6L1281.6 795.1L1276.5 798.4L1271.5 801.7L1266.4 804.9L1261.3 808.0L1256.2 811.1L1251.2 814.1L1246.2 817.2L1241.1 820.3L1235.9 823.5L1230.6 826.7L1225.3 830.0L1219.9 833.4L1214.5 836.8L1209.2 840.2L1203.9 843.6L1198.6 847.0L1193.3 850.4L1187.9 853.9L1182.6 857.4L1177.2 860.9L1171.8 864.4L1166.6 867.8L1161.4 871.2L1156.2 874.6L1151.1 878.0L1145.9 881.3L1140.7 884.7L1135.6 888.0L1130.5 891.3L1125.5 894.5L1120.5 897.6L1115.6 900.5L1110.6 903.5L1105.6 906.3L1100.4 909.2L1095.1 911.9L1089.7 914.6L1084.2 917.1L1078.7 919.5L1073.0 921.8L1067.3 923.9L1061.5 926.0L1055.6 927.9L1049.7 929.6L1043.8 931.2L1037.9 932.6L1031.9 933.9L1025.9 934.9L1019.9 935.7L1014.0 936.3L1008.1 936.7L1002.1 936.9L996.2 936.8L990.2 936.4L984.2 935.6L978.2 934.6L972.2 933.2L966.2 931.5L960.4 929.6L954.8 927.5L949.3 925.1L944.1 922.5L939.0 919.7L934.1 916.5L929.3 913.0L924.5 909.3L919.9 905.3L915.2 901.2L910.6 896.9L906.0 892.4L901.6 887.9L897.2 883.3L893.1 878.7L889.0 874.1L885.2 869.4L881.5 864.6L878.0 859.7L874.6 854.8L871.4 849.6L868.4 844.4L865.7 838.9L863.2 833.4L861.0 827.7L859.1 821.9L857.5 816.0L856.2 810.0L855.2 803.9L854.4 797.8L853.7 791.6L853.2 785.4L852.7 779.2L852.4 773.0L852.1 766.8L852.0 760.6L852.0 754.5L852.0 748.4L852.2 742.3L852.4 736.2L852.8 730.1L853.2 723.9L853.9 717.6L854.6 711.3L855.6 704.9L856.6 698.6L857.9 692.3L858.4 685.9L858.6 679.4L858.6 676.2L857.4 675.8L855.9 678.8L853.1 684.7L850.9 690.8L849.6 697.3L848.5 703.8L847.5 710.3L846.7 716.8L846.0 723.2L845.5 729.6L845.1 735.8L844.8 742.0L844.6 748.2L844.5 754.4L844.5 760.7L844.6 767.0L844.8 773.3L845.1 779.7L845.6 786.0L846.2 792.4L846.9 798.7L847.8 805.1L848.9 811.4L850.3 817.7L852.0 824.0L854.1 830.2L856.4 836.2L859.1 842.1L862.1 847.8L865.3 853.3L868.6 858.7L872.1 863.8L875.8 868.9L879.7 873.8L883.7 878.6L887.9 883.4L892.2 888.1L896.6 892.7L901.2 897.3L905.9 901.8L910.6 906.2L915.4 910.4L920.3 914.5L925.3 918.4L930.4 922.0L935.6 925.3L941.0 928.4L946.6 931.1L952.3 933.6L958.3 935.8L964.4 937.8L970.6 939.5L976.9 941.0L983.2 942.1L989.6 942.8L995.9 943.3L1002.2 943.4L1008.4 943.2L1014.5 942.8L1020.7 942.1L1026.9 941.3L1033.1 940.2L1039.3 938.9L1045.4 937.4L1051.5 935.8L1057.5 933.9L1063.5 932.0L1069.4 929.9L1075.3 927.7L1081.1 925.3L1086.8 922.9L1092.4 920.2L1098.0 917.5L1103.4 914.7L1108.6 911.8L1113.8 908.9L1118.8 905.9L1123.8 902.9L1128.8 899.8L1133.8 896.5L1138.9 893.3L1144.1 889.9L1149.3 886.5L1154.5 883.1L1159.6 879.8L1164.8 876.4L1170.0 873.0L1175.2 869.6L1180.5 866.1L1185.9 862.5L1191.3 859.0L1196.6 855.6L1201.9 852.1L1207.2 848.7L1212.5 845.3L1217.8 842.0L1223.1 838.6L1228.5 835.2L1233.8 831.9L1239.1 828.7L1244.3 825.5L1249.3 822.4L1254.4 819.3L1259.4 816.3L1264.5 813.1L1269.6 810.0L1274.7 806.8L1279.8 803.5L1285.0 800.1L1290.1 796.5L1295.1 792.6L1299.9 788.4L1304.5 784.1L1309.0 779.8L1313.3 775.5Z"/>
<path d="M995.3 940.2L1007.7 934.6L1007.8 945.6Z"/>
<path d="M1210.4 771.3L1206.6 773.9L1202.7 776.5L1198.5 779.4L1194.0 782.5L1189.2 785.9L1184.3 789.6L1179.3 793.6L1174.1 797.7L1168.8 801.8L1163.4 805.8L1158.1 809.7L1152.8 813.5L1147.4 817.1L1142.1 820.5L1136.7 823.8L1131.2 827.0L1125.7 830.0L1120.1 832.9L1114.6 835.6L1109.0 838.3L1103.4 840.8L1097.9 843.3L1092.3 845.6L1086.7 848.0L1081.0 850.3L1075.2 852.7L1069.3 855.0L1063.3 857.3L1057.3 859.4L1051.4 861.5L1045.5 863.3L1039.7 864.9L1033.9 866.1L1028.1 866.9L1022.2 867.3L1016.3 867.3L1010.3 866.8L1004.3 865.8L998.4 864.4L992.6 862.6L986.9 860.5L981.3 858.0L975.9 855.3L970.6 852.3L965.5 849.0L960.5 845.4L955.8 841.6L951.3 837.6L946.9 833.3L942.8 828.8L938.8 824.0L935.1 819.1L931.5 814.0L928.1 808.7L924.8 803.4L921.7 798.0L918.8 792.6L916.0 787.1L913.4 781.6L911.0 776.1L908.8 770.5L906.8 764.9L905.2 759.3L903.8 753.7L902.8 747.9L902.2 742.0L902.0 736.1L902.1 730.0L902.5 723.9L903.1 717.7L904.0 711.4L905.0 705.2L906.3 698.9L907.7 692.8L909.4 686.8L911.2 681.0L913.3 675.3L915.6 669.8L918.2 664.5L921.0 659.2L924.0 654.2L927.3 649.2L930.7 644.4L934.4 639.7L938.2 635.1L942.2 630.5L946.3 626.1L950.6 621.7L955.1 617.4L959.6 613.2L964.3 609.1L969.1 605.1L974.0 601.2L979.0 597.4L984.1 593.7L989.3 590.2L994.5 586.7L999.7 583.3L1005.0 580.1L1010.3 576.9L1015.7 573.9L1021.1 571.1L1026.5 568.4L1031.9 565.9L1037.4 563.5L1042.9 561.4L1048.5 559.4L1054.1 557.7L1059.7 556.1L1065.5 554.7L1071.3 553.6L1077.1 552.6L1082.9 551.8L1088.8 551.2L1094.7 550.8L1100.6 550.6L1106.6 550.7L1112.5 551.0L1118.4 551.6L1124.2 552.5L1129.9 553.7L1135.5 555.2L1141.0 557.0L1146.5 559.1L1151.9 561.4L1157.3 564.0L1162.6 566.9L1167.7 569.9L1172.8 573.2L1177.8 576.7L1182.7 580.4L1187.4 584.3L1192.1 588.5L1196.6 592.8L1201.0 597.4L1205.2 602.0L1209.4 606.8L1213.4 611.6L1217.2 616.6L1220.9 621.6L1224.5 626.9L1227.9 632.2L1231.2 637.6L1234.3 643.1L1237.3 648.6L1240.3 654.2L1243.1 659.7L1246.0 665.2L1248.7 670.5L1251.3 675.4L1253.6 679.9L1255.6 684.0L1257.3 688.0L1258.8 692.2L1260.0 696.9L1261.1 702.2L1262.0 708.0L1262.6 714.0L1263.0 720.2L1263.1 726.4L1262.8 732.5L1262.2 738.5L1261.2 744.4L1259.7 750.0L1257.7 755.4L1255.2 760.6L1252.2 765.7L1248.7 770.7L1244.9 775.8L1241.3 781.2L1237.5 786.8L1235.7 789.7L1236.3 790.3L1238.9 788.0L1243.9 783.4L1248.7 778.8L1252.8 773.7L1256.5 768.5L1259.8 763.1L1262.6 757.5L1264.8 751.6L1266.4 745.5L1267.5 739.3L1268.2 732.9L1268.5 726.5L1268.5 720.0L1268.2 713.6L1267.5 707.3L1266.7 701.2L1265.6 695.6L1264.2 690.5L1262.6 685.9L1260.8 681.6L1258.7 677.3L1256.4 672.7L1253.9 667.8L1251.2 662.5L1248.4 657.0L1245.5 651.4L1242.6 645.8L1239.6 640.2L1236.4 634.6L1233.1 629.0L1229.5 623.5L1225.9 618.2L1222.1 612.9L1218.1 607.8L1214.0 602.8L1209.8 597.9L1205.4 593.2L1200.9 588.5L1196.2 584.0L1191.4 579.7L1186.5 575.6L1181.4 571.7L1176.3 568.1L1171.0 564.7L1165.6 561.5L1160.1 558.5L1154.5 555.8L1148.9 553.3L1143.1 551.1L1137.3 549.2L1131.3 547.6L1125.3 546.4L1119.2 545.4L1113.0 544.8L1106.8 544.4L1100.6 544.4L1094.4 544.5L1088.3 544.9L1082.2 545.5L1076.1 546.3L1070.1 547.3L1064.1 548.6L1058.2 550.0L1052.3 551.6L1046.5 553.4L1040.7 555.4L1035.0 557.6L1029.3 560.0L1023.7 562.6L1018.1 565.4L1012.6 568.3L1007.1 571.4L1001.7 574.6L996.3 578.0L991.0 581.4L985.7 585.0L980.5 588.6L975.3 592.4L970.2 596.3L965.2 600.3L960.3 604.4L955.5 608.6L950.8 612.9L946.3 617.3L941.9 621.8L937.6 626.4L933.5 631.1L929.6 635.9L925.8 640.8L922.3 645.8L918.9 651.0L915.7 656.3L912.8 661.7L910.1 667.3L907.7 673.1L905.5 679.1L903.6 685.2L901.9 691.4L900.5 697.7L899.2 704.1L898.1 710.5L897.2 717.0L896.6 723.4L896.2 729.8L896.1 736.2L896.4 742.5L897.1 748.7L898.1 754.8L899.6 760.8L901.4 766.7L903.4 772.5L905.7 778.3L908.2 784.0L910.9 789.6L913.7 795.2L916.8 800.8L920.0 806.3L923.3 811.8L926.8 817.1L930.5 822.4L934.5 827.5L938.6 832.4L942.9 837.2L947.4 841.6L952.2 845.9L957.2 849.9L962.3 853.6L967.7 857.0L973.2 860.1L978.9 863.0L984.8 865.6L990.8 867.8L997.0 869.7L1003.3 871.2L1009.6 872.2L1016.0 872.8L1022.4 872.8L1028.6 872.4L1034.8 871.5L1040.9 870.2L1047.0 868.5L1053.1 866.6L1059.1 864.6L1065.2 862.3L1071.2 860.0L1077.2 857.7L1083.0 855.3L1088.8 853.0L1094.4 850.6L1100.0 848.2L1105.6 845.7L1111.3 843.1L1116.9 840.4L1122.6 837.6L1128.2 834.7L1133.8 831.6L1139.4 828.4L1144.9 825.0L1150.4 821.5L1155.8 817.8L1161.2 814.0L1166.6 810.0L1172.0 806.0L1177.3 801.8L1182.5 797.7L1187.6 793.7L1192.3 789.7L1196.6 785.7L1200.6 782.0L1204.3 778.5L1207.7 775.3L1211.0 772.1Z"/>
<path d="M932.4 637.1L929.4 650.4L920.5 643.8ZM1251.7 669.9L1241.2 661.4L1250.9 656.4Z"/>
<path d="M1192.4 735.6L1188.8 738.9L1185.0 742.3L1181.0 746.0L1176.8 749.9L1172.2 754.2L1167.4 758.8L1162.7 763.6L1157.8 768.6L1152.9 773.5L1148.0 778.3L1143.1 783.0L1138.1 787.5L1133.2 791.8L1128.1 795.9L1122.8 799.9L1117.5 803.6L1112.1 807.1L1106.8 810.3L1101.4 813.3L1096.1 816.0L1090.7 818.6L1085.2 821.0L1079.6 823.3L1073.9 825.4L1068.1 827.2L1062.2 828.8L1056.3 830.0L1050.3 831.0L1044.3 831.6L1038.3 832.0L1032.2 832.0L1026.2 831.7L1020.2 831.0L1014.3 830.0L1008.4 828.6L1002.7 826.9L997.1 824.8L991.6 822.4L986.2 819.6L981.0 816.4L976.0 812.9L971.1 809.1L966.5 805.0L962.2 800.6L958.2 795.9L954.4 791.1L950.8 786.1L947.6 780.9L944.6 775.5L941.8 770.0L939.4 764.2L937.2 758.4L935.2 752.5L933.5 746.5L932.1 740.5L931.0 734.5L930.1 728.4L929.5 722.3L929.2 716.2L929.0 710.1L929.1 704.0L929.3 698.1L929.6 692.6L929.2 687.4L928.7 682.4L928.4 680.0L927.6 680.0L927.0 682.3L925.9 687.2L925.0 692.3L924.7 697.9L924.5 703.9L924.4 710.1L924.6 716.4L924.9 722.7L925.5 729.0L926.4 735.2L927.6 741.4L929.1 747.6L930.8 753.8L932.8 759.9L935.1 766.0L937.6 771.9L940.5 777.7L943.6 783.2L947.0 788.6L950.7 793.8L954.6 798.9L958.8 803.7L963.4 808.3L968.2 812.6L973.2 816.6L978.5 820.3L984.0 823.6L989.6 826.5L995.4 829.1L1001.2 831.3L1007.2 833.1L1013.3 834.5L1019.5 835.6L1025.8 836.3L1032.1 836.6L1038.4 836.6L1044.7 836.2L1050.9 835.5L1057.1 834.6L1063.3 833.2L1069.4 831.6L1075.4 829.7L1081.2 827.6L1087.0 825.3L1092.6 822.8L1098.1 820.2L1103.6 817.4L1109.1 814.3L1114.6 811.0L1120.1 807.4L1125.6 803.6L1130.9 799.6L1136.1 795.3L1141.2 790.9L1146.2 786.4L1151.2 781.6L1156.1 776.8L1161.1 771.8L1166.0 766.9L1170.7 762.0L1175.2 757.1L1179.3 752.4L1183.1 747.9L1186.6 743.8L1189.9 739.9L1193.0 736.2Z"/>
<path d="M1013.2 832.4L1026.0 828.6L1024.5 839.5Z"/>
<path d="M1148.9 725.4L1146.1 729.1L1142.8 733.6L1138.9 738.9L1134.7 744.5L1130.6 750.2L1126.5 755.4L1121.9 760.3L1116.8 765.1L1111.5 769.4L1106.3 773.3L1101.2 776.7L1095.9 779.6L1091.4 780.8L1088.0 778.8L1083.2 775.2L1076.6 775.4L1071.7 780.4L1067.6 785.8L1062.7 789.0L1056.7 790.3L1050.1 790.3L1043.8 789.4L1037.6 787.9L1031.1 786.1L1024.8 784.0L1018.9 781.5L1013.4 778.7L1008.2 775.4L1003.4 771.7L998.8 767.7L994.3 763.3L989.9 758.4L985.9 753.2L982.4 747.8L979.2 742.3L976.2 736.6L973.6 730.8L971.3 724.8L969.4 718.5L967.9 712.0L966.9 705.7L966.5 699.4L966.9 692.8L967.9 686.3L969.1 679.9L970.7 673.8L973.4 667.7L977.0 661.7L978.8 658.8L978.4 658.4L975.9 660.8L971.1 666.3L967.7 672.6L965.9 679.2L964.7 685.8L963.6 692.5L963.2 699.4L963.6 706.1L964.7 712.7L966.2 719.4L968.1 725.9L970.5 732.1L973.2 738.1L976.3 743.9L979.6 749.5L983.2 755.1L987.4 760.5L991.9 765.6L996.6 770.2L1001.4 774.3L1006.3 778.1L1011.7 781.5L1017.5 784.5L1023.7 787.0L1030.1 789.2L1036.7 791.1L1043.2 792.6L1049.9 793.6L1057.0 793.6L1064.0 792.1L1069.9 788.2L1074.2 782.5L1078.1 778.4L1082.1 778.4L1086.2 781.6L1091.1 784.0L1097.1 782.7L1102.9 779.5L1108.2 776.0L1113.5 772.0L1119.0 767.6L1124.3 762.7L1129.0 757.6L1133.2 752.2L1137.4 746.4L1141.1 740.3L1144.4 734.7L1147.2 729.8L1149.5 725.8Z"/>
<path d="M1012.2 780.3L1025.4 780.3L1020.8 790.3Z"/>
<path d="M1110.4 652.3L1112.2 658.1L1114.0 664.1L1115.6 670.2L1116.8 676.4L1117.6 682.7L1117.8 689.0L1117.3 695.1L1116.1 701.1L1114.4 706.8L1112.0 712.3L1108.9 717.5L1105.2 722.4L1100.9 726.7L1096.3 730.6L1091.3 733.9L1086.1 736.7L1080.7 738.8L1075.1 740.4L1069.3 741.5L1063.4 742.0L1057.5 742.1L1051.5 741.8L1045.5 741.0L1039.5 739.8L1033.7 738.1L1028.1 735.9L1022.9 733.1L1018.1 729.8L1013.9 725.8L1010.3 721.3L1007.4 716.2L1005.1 710.7L1003.5 704.9L1002.5 698.7L1002.2 692.4L1002.5 686.1L1003.5 679.8L1005.0 673.6L1007.1 667.7L1009.8 662.2L1013.0 657.1L1016.7 652.5L1020.9 648.3L1025.5 644.5L1030.4 641.2L1035.7 638.3L1041.3 635.9L1047.1 633.9L1053.1 632.4L1059.3 631.3L1065.5 630.5L1071.8 630.1L1078.1 630.1L1084.3 630.4L1090.4 630.9L1096.5 631.4L1096.5 631.0L1090.5 630.0L1084.4 629.1L1078.2 628.5L1071.8 628.1L1065.4 628.2L1058.9 628.7L1052.6 629.8L1046.4 631.3L1040.3 633.4L1034.6 635.9L1029.0 638.9L1023.9 642.3L1019.1 646.3L1014.7 650.7L1010.8 655.6L1007.5 660.9L1004.7 666.7L1002.4 672.8L1000.8 679.2L999.8 685.8L999.5 692.4L999.8 699.0L1000.8 705.4L1002.5 711.6L1005.0 717.4L1008.1 722.8L1011.9 727.7L1016.4 731.9L1021.5 735.4L1027.0 738.3L1032.8 740.6L1038.8 742.4L1045.0 743.7L1051.2 744.5L1057.4 744.8L1063.6 744.7L1069.7 744.1L1075.7 743.0L1081.6 741.4L1087.2 739.1L1092.7 736.2L1097.9 732.8L1102.8 728.7L1107.2 724.1L1111.1 719.0L1114.4 713.6L1116.9 707.8L1118.8 701.7L1119.7 695.4L1120.0 689.0L1119.5 682.5L1118.5 676.1L1117.0 669.8L1115.1 663.7L1113.0 657.9L1110.8 652.1Z"/>
<path d="M1005.5 716.7L1016.8 723.4L1007.7 729.6Z"/>
<path d="M1086.1 657.3L1086.8 660.6L1087.4 663.9L1088.0 667.1L1088.6 670.4L1089.2 673.7L1089.7 677.0L1090.2 680.3L1090.7 683.7L1091.2 687.0L1091.4 687.0L1091.3 683.6L1091.1 680.2L1090.8 676.8L1090.3 673.5L1089.7 670.2L1089.1 666.9L1088.2 663.7L1087.3 660.5L1086.3 657.3Z"/>
<path d="M992.9 629.4L998.1 627.7L1003.2 625.6L1008.3 622.8L1013.7 619.9L1019.4 617.0L1025.3 614.2L1031.3 611.4L1037.3 608.9L1043.4 606.7L1049.5 604.7L1055.7 603.0L1061.8 601.5L1068.0 600.3L1074.2 599.5L1080.5 598.9L1086.7 598.6L1092.9 598.7L1099.0 599.2L1105.1 600.1L1111.0 601.5L1116.8 603.3L1122.4 605.7L1127.7 608.5L1132.9 611.7L1137.7 615.4L1142.2 619.5L1146.3 624.0L1150.0 628.8L1153.3 633.9L1156.2 639.3L1158.8 644.9L1161.0 650.9L1163.0 657.0L1164.6 663.3L1165.9 669.7L1167.0 676.2L1167.7 682.6L1168.3 688.9L1168.7 695.0L1169.1 700.9L1169.9 700.9L1169.9 694.9L1169.8 688.8L1169.5 682.5L1169.1 676.0L1168.3 669.3L1167.3 662.7L1165.9 656.2L1164.2 649.8L1162.1 643.6L1159.7 637.6L1156.8 631.8L1153.5 626.3L1149.6 621.2L1145.3 616.5L1140.5 612.1L1135.3 608.2L1129.9 604.8L1124.2 601.8L1118.3 599.3L1112.2 597.3L1105.9 595.9L1099.5 594.9L1093.1 594.4L1086.6 594.3L1080.2 594.6L1073.7 595.2L1067.3 596.1L1061.0 597.3L1054.6 598.8L1048.3 600.6L1042.0 602.6L1035.7 604.9L1029.5 607.5L1023.4 610.3L1017.5 613.2L1011.7 616.1L1006.3 619.1L1001.2 621.9L996.7 625.2L992.5 628.8Z"/>
<path d="M1123.8 603.6L1110.5 604.6L1114.3 594.2Z"/>
<path d="M1226.9 672.8L1227.4 675.8L1227.9 678.7L1228.4 681.7L1228.8 684.6L1229.2 687.6L1229.5 690.7L1229.8 693.7L1230.0 696.8L1230.0 699.8L1230.0 702.9L1230.1 706.1L1230.0 709.2L1229.9 712.4L1229.6 715.5L1229.2 718.7L1228.8 721.9L1228.4 725.0L1228.0 728.2L1227.4 731.3L1226.8 734.4L1226.1 737.5L1225.4 740.5L1224.6 743.5L1223.9 746.5L1223.1 749.5L1223.9 749.7L1225.1 746.9L1226.3 744.1L1227.5 741.2L1228.6 738.2L1229.6 735.2L1230.7 732.1L1231.6 729.0L1232.4 725.8L1233.2 722.6L1233.8 719.3L1234.2 716.0L1234.4 712.7L1234.6 709.4L1234.7 706.1L1234.6 702.8L1234.4 699.6L1233.9 696.4L1233.4 693.2L1232.8 690.1L1232.1 687.1L1231.3 684.1L1230.5 681.2L1229.6 678.3L1228.7 675.4L1227.7 672.6Z"/>
<path d="M1232.4 712.8L1226.9 700.6L1237.9 700.6Z"/>
<path d="M1180.8 538.9L1185.5 542.5L1190.3 546.2L1195.1 550.0L1200.0 553.9L1204.8 558.0L1209.5 562.2L1214.2 566.3L1218.8 570.4L1223.3 574.5L1227.7 578.8L1231.9 583.1L1236.0 587.5L1240.0 592.0L1243.9 596.7L1247.8 601.4L1251.5 606.2L1255.2 611.1L1258.7 616.1L1262.2 621.2L1265.6 626.3L1268.9 631.4L1272.0 636.7L1275.0 641.9L1277.8 647.3L1280.4 652.8L1282.9 658.4L1285.2 664.1L1287.5 670.0L1289.7 675.9L1292.0 681.9L1294.5 687.9L1297.0 693.9L1299.6 699.9L1302.1 705.8L1304.4 711.8L1306.4 717.7L1308.6 723.6L1310.6 729.5L1312.5 735.5L1314.2 741.7L1315.8 747.8L1317.5 747.6L1317.6 741.2L1317.5 734.7L1317.1 728.2L1316.3 721.6L1315.0 715.0L1312.8 708.7L1310.4 702.5L1307.9 696.4L1305.3 690.4L1302.8 684.5L1300.4 678.6L1298.1 672.7L1295.9 666.8L1293.6 660.8L1291.2 654.9L1288.6 649.0L1285.9 643.2L1282.9 637.6L1279.8 632.1L1276.5 626.7L1273.2 621.4L1269.7 616.1L1266.1 610.9L1262.4 605.8L1258.7 600.8L1254.8 595.8L1250.9 590.9L1246.8 586.2L1242.7 581.5L1238.4 576.9L1234.1 572.4L1229.5 568.0L1224.8 563.6L1220.0 559.4L1214.8 555.5L1209.3 552.0L1203.7 548.6L1198.0 545.5L1192.5 542.6L1187.0 540.0L1181.6 537.5Z"/>
<path d="M1384.5 857.4L1378.6 859.1L1372.6 860.9L1366.4 862.8L1360.2 864.9L1353.9 867.0L1347.7 869.3L1341.8 871.8L1336.0 874.2L1330.3 876.4L1324.7 878.5L1319.2 880.7L1313.7 882.9L1308.1 885.3L1302.5 887.8L1296.7 890.5L1290.9 893.3L1285.1 896.2L1279.4 899.1L1273.8 902.1L1268.4 905.1L1263.0 908.1L1257.6 911.2L1252.2 914.3L1246.9 917.5L1241.6 920.7L1236.3 924.0L1231.0 927.3L1225.8 930.6L1220.7 933.9L1215.6 937.2L1210.5 940.6L1205.5 944.0L1200.5 947.5L1195.5 950.9L1190.5 954.5L1185.4 958.0L1180.4 961.6L1175.4 965.2L1170.4 968.9L1165.4 972.6L1160.4 976.4L1155.4 980.1L1150.4 983.9L1145.4 987.6L1140.4 991.2L1135.4 994.8L1130.3 998.4L1125.2 1001.9L1120.1 1005.3L1114.9 1008.7L1109.8 1012.0L1104.6 1015.2L1099.3 1018.3L1094.1 1021.1L1088.8 1023.8L1083.4 1026.1L1077.9 1028.3L1072.2 1030.2L1066.4 1031.8L1060.5 1033.1L1054.4 1034.2L1048.3 1035.0L1042.2 1035.5L1036.1 1035.9L1029.9 1036.1L1023.8 1036.1L1017.6 1035.9L1011.5 1035.5L1005.4 1035.0L999.3 1034.2L993.2 1033.3L987.1 1032.2L981.2 1030.9L975.2 1029.4L969.3 1027.8L963.5 1026.0L957.7 1024.0L951.9 1021.9L946.2 1019.6L940.5 1017.2L934.9 1014.7L929.3 1012.1L923.8 1009.3L918.3 1006.4L912.9 1003.5L907.6 1000.4L902.3 997.3L897.2 994.0L892.1 990.7L887.1 987.2L882.1 983.6L877.3 979.8L872.5 975.9L867.9 971.8L863.3 967.6L858.9 963.3L854.6 958.9L850.4 954.4L846.3 949.9L842.4 945.3L838.5 940.6L834.6 935.9L830.9 931.2L827.1 926.4L823.4 921.6L819.7 916.8L816.0 912.1L812.3 907.4L808.7 902.7L805.2 898.0L802.0 893.2L798.9 888.3L796.2 883.4L793.8 878.2L791.6 872.9L789.7 867.3L788.1 861.6L786.6 855.8L785.2 849.8L784.0 843.7L782.9 837.6L781.8 831.4L780.8 825.3L779.9 819.2L779.0 813.1L778.3 807.0L777.6 800.9L777.1 794.9L776.7 788.8L776.3 782.8L776.1 776.9L776.0 770.9L776.0 765.0L776.2 759.1L776.4 753.2L776.8 747.2L777.3 741.1L777.8 734.9L778.6 728.6L779.4 722.2L780.3 715.8L781.3 709.4L782.4 703.2L783.6 697.3L784.9 691.6L786.3 686.2L788.0 681.0L789.8 675.9L791.9 670.7L794.1 665.4L796.5 659.9L799.0 654.2L801.6 648.5L804.3 642.6L807.1 636.9L810.0 631.2L813.0 625.7L816.0 620.3L819.1 615.1L822.3 610.0L825.6 604.9L829.0 600.0L832.5 595.1L836.1 590.2L839.8 585.4L843.6 580.7L847.5 576.1L851.5 571.5L855.6 567.1L859.9 562.6L864.2 558.3L868.6 554.1L873.1 550.1L877.7 546.2L882.4 542.5L887.2 538.9L892.2 535.5L897.2 532.3L902.3 529.1L907.5 526.1L912.8 523.2L918.2 520.3L923.5 517.6L928.9 514.8L934.3 512.1L939.8 509.5L945.3 506.9L950.8 504.4L956.3 501.9L961.8 499.4L967.4 496.9L973.0 494.4L978.5 491.9L984.1 489.3L989.7 486.7L995.3 484.0L1000.9 481.3L1006.4 478.7L1012.0 476.0L1017.6 473.4L1023.2 470.9L1028.8 468.4L1034.5 465.9L1040.3 463.6L1046.1 461.3L1051.9 459.1L1057.7 457.1L1063.5 455.3L1069.3 453.8L1075.1 452.5L1081.0 451.5L1086.9 450.9L1092.9 450.5L1098.9 450.5L1104.9 450.7L1110.9 451.1L1117.0 451.7L1123.0 452.4L1128.9 453.2L1134.8 454.1L1140.5 455.1L1146.3 456.2L1152.0 457.6L1157.7 459.1L1163.4 461.0L1168.9 463.1L1174.3 465.4L1179.5 467.9L1184.6 470.5L1189.6 473.3L1194.6 476.3L1199.7 479.4L1204.8 482.7L1209.9 486.2L1215.1 489.8L1220.2 493.5L1225.3 497.3L1230.4 501.1L1235.3 505.0L1240.1 509.0L1244.7 513.0L1249.3 517.0L1253.9 521.1L1258.4 525.3L1262.9 529.6L1267.4 533.9L1271.9 538.3L1276.3 542.7L1280.7 547.1L1285.1 551.5L1289.3 555.9L1293.5 560.3L1297.7 564.7L1301.8 569.2L1305.9 573.7L1310.0 578.4L1314.1 583.2L1318.2 588.0L1322.2 592.9L1326.0 597.8L1329.8 602.6L1333.5 607.4L1337.1 612.1L1340.7 616.8L1344.3 621.6L1348.0 626.4L1351.7 631.4L1355.5 636.3L1359.4 641.4L1363.2 646.4L1367.0 651.3L1370.7 656.2L1374.3 660.9L1377.8 665.6L1381.3 670.3L1384.8 675.0L1388.3 679.7L1391.7 684.5L1395.2 689.5L1398.7 694.5L1402.2 699.6L1405.6 704.9L1409.0 710.3L1412.2 715.8L1415.3 721.5L1418.2 727.2L1420.8 733.0L1423.2 738.8L1425.4 744.7L1427.3 750.6L1429.1 756.6L1430.5 762.6L1431.6 768.7L1432.4 774.8L1432.8 781.1L1432.7 787.5L1432.1 793.9L1431.0 800.2L1429.5 806.4L1427.6 812.5L1425.6 818.5L1423.4 824.3L1420.8 829.9L1418.1 835.5L1415.3 840.9L1413.9 843.7L1414.7 844.2L1416.5 841.7L1420.1 836.7L1423.6 831.4L1426.9 826.0L1430.0 820.3L1432.7 814.3L1434.8 807.9L1436.4 801.3L1437.6 794.6L1438.2 787.8L1438.4 781.0L1438.1 774.3L1437.3 767.8L1436.1 761.4L1434.7 755.1L1432.9 748.9L1430.9 742.8L1428.7 736.7L1426.3 730.6L1423.6 724.6L1420.7 718.7L1417.5 712.9L1414.2 707.2L1410.8 701.6L1407.3 696.2L1403.9 691.0L1400.4 685.9L1396.9 680.9L1393.4 676.0L1390.0 671.2L1386.5 666.4L1383.0 661.7L1379.6 657.0L1376.0 652.2L1372.3 647.3L1368.6 642.3L1364.8 637.3L1361.0 632.2L1357.2 627.2L1353.5 622.2L1349.9 617.4L1346.3 612.6L1342.8 607.8L1339.2 603.0L1335.5 598.2L1331.8 593.3L1327.9 588.3L1323.9 583.3L1319.9 578.4L1315.8 573.5L1311.6 568.7L1307.5 564.0L1303.4 559.5L1299.2 555.0L1295.0 550.5L1290.8 546.0L1286.4 541.5L1282.0 537.0L1277.6 532.5L1273.1 528.0L1268.5 523.6L1263.9 519.3L1259.3 515.1L1254.7 510.9L1250.0 506.9L1245.2 502.8L1240.3 498.8L1235.2 494.9L1230.1 491.0L1224.8 487.1L1219.6 483.4L1214.3 479.8L1209.0 476.3L1203.8 472.9L1198.6 469.8L1193.4 466.7L1188.2 463.9L1182.8 461.1L1177.3 458.6L1171.7 456.2L1165.8 454.0L1159.8 452.1L1153.8 450.5L1147.8 449.1L1141.8 448.0L1135.9 447.0L1129.9 446.1L1123.8 445.4L1117.7 444.7L1111.5 444.1L1105.3 443.7L1098.9 443.5L1092.6 443.6L1086.3 444.0L1080.0 444.7L1073.8 445.8L1067.7 447.1L1061.6 448.8L1055.6 450.7L1049.6 452.8L1043.7 455.1L1037.8 457.4L1032.0 459.8L1026.2 462.3L1020.5 464.9L1014.8 467.5L1009.2 470.1L1003.6 472.8L998.0 475.6L992.5 478.3L987.0 481.0L981.4 483.6L975.9 486.2L970.4 488.7L964.8 491.2L959.3 493.7L953.7 496.2L948.2 498.7L942.6 501.2L937.1 503.8L931.5 506.4L926.0 509.1L920.6 511.8L915.1 514.6L909.7 517.4L904.3 520.4L899.0 523.4L893.7 526.6L888.5 529.9L883.3 533.4L878.3 537.1L873.4 540.9L868.6 544.9L863.9 549.1L859.4 553.4L854.9 557.8L850.6 562.3L846.3 566.8L842.2 571.5L838.1 576.2L834.2 581.0L830.4 585.9L826.7 590.8L823.0 595.8L819.5 600.9L816.1 606.0L812.8 611.3L809.6 616.6L806.5 622.1L803.4 627.7L800.4 633.5L797.5 639.4L794.7 645.3L792.0 651.1L789.5 656.8L787.1 662.4L784.8 667.8L782.6 673.1L780.7 678.5L778.9 684.0L777.3 689.7L776.0 695.6L774.7 701.8L773.6 708.1L772.5 714.6L771.6 721.2L770.7 727.7L770.0 734.1L769.3 740.4L768.8 746.6L768.4 752.8L768.1 758.8L768.0 764.9L767.9 771.0L768.0 777.1L768.2 783.2L768.5 789.3L769.0 795.5L769.5 801.7L770.1 807.9L770.9 814.2L771.7 820.4L772.6 826.6L773.6 832.8L774.7 839.0L775.9 845.3L777.2 851.5L778.6 857.7L780.1 863.8L781.9 869.8L783.9 875.7L786.3 881.5L788.9 887.1L791.9 892.5L795.2 897.7L798.6 902.7L802.2 907.6L805.9 912.3L809.6 917.1L813.4 921.8L817.1 926.6L820.8 931.3L824.5 936.1L828.4 940.9L832.3 945.7L836.3 950.5L840.3 955.2L844.5 959.9L848.9 964.4L853.3 968.9L857.9 973.4L862.6 977.7L867.4 981.9L872.4 986.0L877.4 989.9L882.5 993.6L887.7 997.1L893.0 1000.6L898.3 1003.9L903.7 1007.1L909.2 1010.1L914.7 1013.1L920.3 1016.0L926.0 1018.8L931.8 1021.5L937.6 1024.0L943.4 1026.5L949.3 1028.8L955.3 1030.9L961.3 1032.9L967.3 1034.7L973.4 1036.4L979.6 1037.9L985.8 1039.1L992.0 1040.3L998.3 1041.2L1004.7 1041.9L1011.0 1042.4L1017.4 1042.8L1023.7 1042.9L1030.1 1042.9L1036.4 1042.6L1042.8 1042.2L1049.1 1041.6L1055.5 1040.7L1061.8 1039.6L1068.0 1038.2L1074.1 1036.5L1080.1 1034.6L1086.0 1032.3L1091.7 1029.8L1097.2 1027.1L1102.6 1024.2L1108.0 1021.0L1113.3 1017.8L1118.6 1014.5L1123.9 1011.0L1129.1 1007.5L1134.3 1004.0L1139.4 1000.4L1144.5 996.8L1149.5 993.2L1154.6 989.4L1159.6 985.7L1164.6 982.0L1169.6 978.3L1174.6 974.6L1179.6 970.9L1184.6 967.3L1189.6 963.8L1194.5 960.3L1199.5 956.8L1204.5 953.4L1209.5 950.0L1214.5 946.6L1219.6 943.2L1224.6 939.9L1229.7 936.6L1234.9 933.4L1240.1 930.1L1245.3 926.9L1250.6 923.7L1255.9 920.5L1261.2 917.4L1266.5 914.4L1271.9 911.4L1277.3 908.5L1282.8 905.6L1288.4 902.7L1294.1 899.8L1299.8 897.1L1305.5 894.5L1311.0 892.0L1316.5 889.7L1321.9 887.5L1327.4 885.4L1333.0 883.2L1338.7 881.0L1344.6 878.6L1350.6 876.1L1356.5 873.3L1362.4 870.2L1368.3 867.2L1374.0 864.3L1379.5 861.5L1385.0 858.6Z"/>
<path d="M910.4 1006.5L924.4 1007.1L918.7 1017.8ZM786.6 673.2L788.3 687.1L776.7 683.2ZM1099.6 446.8L1087.3 453.0L1086.9 441.5ZM1408.5 703.6L1397.1 696.3L1406.3 690.2ZM1242.8 924.1L1250.6 912.6L1256.7 922.7Z"/>
<path d="M1079.1 1065.8L1073.1 1067.2L1067.0 1068.4L1060.9 1069.3L1054.7 1070.0L1048.6 1070.6L1042.4 1070.9L1036.2 1071.1L1030.0 1071.0L1023.9 1070.8L1017.7 1070.4L1011.5 1069.8L1005.4 1069.0L999.2 1068.1L993.1 1067.0L987.0 1065.7L981.0 1064.3L975.0 1062.8L969.1 1061.1L963.2 1059.3L957.3 1057.4L951.5 1055.3L945.7 1053.2L939.9 1050.9L934.2 1048.6L928.5 1046.2L922.8 1043.8L917.2 1041.3L911.6 1038.7L906.0 1036.0L900.6 1033.2L895.2 1030.3L889.8 1027.3L884.6 1024.1L879.5 1020.8L874.5 1017.4L869.5 1013.9L864.7 1010.3L859.9 1006.5L855.2 1002.6L850.5 998.7L846.0 994.6L841.5 990.5L837.0 986.3L832.7 982.1L828.4 977.8L824.2 973.4L820.1 968.9L816.0 964.3L812.1 959.5L808.2 954.6L804.5 949.6L800.8 944.5L797.3 939.3L793.9 934.0L790.6 928.6L787.3 923.1L784.2 917.6L781.1 911.9L778.1 906.3L775.2 900.6L772.4 895.0L769.8 889.3L767.3 883.7L765.0 878.0L762.8 872.2L760.8 866.4L759.1 860.6L757.5 854.8L756.1 849.0L754.9 843.2L753.9 837.3L753.0 831.4L752.2 825.5L751.5 819.4L751.0 813.4L750.6 807.3L750.3 801.2L750.0 795.1L749.9 789.0L749.7 783.0L749.7 777.0L749.7 771.0L749.8 765.0L749.9 759.1L750.1 753.2L750.4 747.2L750.7 741.3L751.1 735.3L751.6 729.3L752.1 723.3L752.8 717.2L753.5 711.2L754.3 705.2L755.3 699.2L756.4 693.2L757.7 687.3L759.2 681.5L760.8 675.8L762.6 670.1L764.6 664.5L766.7 658.9L769.0 653.3L771.4 647.7L774.0 642.1L776.7 636.5L779.5 631.0L782.4 625.7L785.3 620.4L788.3 615.1L791.4 609.9L794.6 604.7L797.9 599.5L801.3 594.3L804.8 589.1L808.5 584.0L812.2 579.0L816.0 574.1L820.0 569.3L824.0 564.6L828.1 560.0L832.3 555.5L836.6 551.1L841.1 546.7L845.6 542.4L850.1 538.2L854.8 534.1L859.4 530.0L864.0 526.2L868.7 522.4L873.3 518.7L878.1 515.1L883.1 511.6L888.2 508.2L893.4 504.9L898.7 501.7L904.1 498.8L909.5 495.9L914.9 493.2L920.4 490.6L925.8 488.1L931.3 485.6L936.8 483.1L942.3 480.6L947.8 478.2L953.4 475.7L958.9 473.4L964.5 471.0L970.0 468.6L975.6 466.1L981.2 463.6L986.8 461.1L992.4 458.5L997.9 455.9L1003.5 453.2L1009.0 450.7L1014.6 448.1L1020.2 445.7L1025.8 443.4L1031.4 441.1L1037.1 439.0L1042.8 437.0L1048.6 435.2L1054.4 433.4L1060.2 431.9L1066.1 430.5L1071.9 429.3L1077.9 428.3L1083.9 427.6L1090.0 427.1L1096.1 426.8L1102.3 426.7L1108.5 426.7L1114.7 426.9L1120.8 427.1L1126.8 427.4L1132.6 427.7L1138.4 428.0L1144.0 428.4L1149.6 428.9L1155.1 429.8L1160.6 431.0L1166.1 432.5L1171.5 434.4L1176.7 436.5L1181.9 438.9L1186.9 441.5L1191.9 444.3L1196.9 447.3L1202.1 450.4L1207.3 453.7L1212.6 457.1L1217.9 460.7L1223.3 464.3L1228.6 468.0L1233.8 471.7L1239.0 475.4L1244.1 479.1L1249.1 482.8L1254.0 486.5L1258.8 490.2L1263.6 494.0L1268.3 497.7L1273.0 501.5L1277.6 505.4L1282.2 509.3L1286.7 513.2L1291.1 517.2L1295.5 521.2L1299.9 525.3L1304.1 529.4L1308.3 533.6L1312.5 537.8L1316.6 542.2L1320.6 546.6L1324.5 551.0L1328.4 555.6L1332.2 560.3L1335.9 565.0L1339.5 569.7L1343.2 574.6L1346.7 579.5L1350.3 584.4L1353.9 589.4L1357.5 594.3L1361.2 599.4L1364.9 604.4L1368.6 609.4L1372.4 614.4L1376.2 619.4L1380.1 624.5L1384.0 629.6L1388.0 634.7L1392.1 639.8L1396.2 645.0L1400.2 650.2L1404.3 655.3L1408.2 660.3L1412.1 665.2L1415.8 670.1L1419.4 674.8L1422.9 679.4L1426.4 684.1L1429.8 688.9L1433.1 693.8L1436.3 698.8L1439.4 703.8L1442.2 708.9L1444.9 714.0L1447.4 719.1L1449.8 724.4L1452.1 729.9L1454.4 735.6L1456.6 741.4L1458.7 747.3L1460.6 753.3L1462.3 759.3L1463.8 765.5L1464.9 771.7L1465.6 778.0L1465.9 784.4L1465.9 791.0L1465.4 797.6L1464.6 804.2L1463.4 810.6L1462.0 816.9L1460.3 823.1L1458.3 828.9L1456.1 834.5L1453.6 839.9L1450.7 844.9L1447.3 849.7L1443.5 854.2L1439.2 858.4L1434.5 862.6L1429.6 866.5L1424.5 870.4L1419.3 874.1L1414.1 877.7L1408.9 881.1L1403.6 884.4L1398.4 887.5L1393.2 890.4L1387.9 893.2L1382.6 895.9L1377.2 898.5L1371.8 901.1L1366.3 903.6L1360.7 906.1L1355.1 908.6L1349.4 911.2L1343.7 913.7L1337.9 916.3L1332.2 918.8L1326.6 921.4L1320.9 923.9L1315.3 926.4L1309.7 929.0L1304.1 931.6L1298.6 934.2L1293.0 936.9L1287.5 939.8L1282.0 942.7L1276.6 945.6L1271.2 948.7L1265.8 951.9L1260.5 955.1L1255.2 958.5L1249.9 961.9L1244.7 965.4L1239.5 969.0L1234.3 972.7L1229.3 976.4L1224.3 980.2L1219.3 984.0L1214.5 987.9L1209.6 991.8L1204.9 995.8L1200.1 999.7L1195.3 1003.6L1190.5 1007.5L1185.6 1011.2L1180.7 1014.9L1175.7 1018.5L1170.7 1022.1L1165.6 1025.5L1160.4 1028.9L1155.2 1032.1L1149.9 1035.3L1144.6 1038.3L1139.3 1041.3L1133.9 1044.2L1128.4 1047.0L1122.8 1049.7L1117.2 1052.3L1111.4 1054.8L1105.6 1057.2L1099.8 1059.5L1093.9 1061.5L1088.0 1063.4L1082.1 1065.1L1079.1 1065.8ZM1080.2 1070.1L1083.2 1069.3L1089.3 1067.6L1095.3 1065.7L1101.3 1063.6L1107.2 1061.3L1113.1 1058.9L1118.9 1056.3L1124.7 1053.6L1130.4 1050.9L1135.9 1048.0L1141.4 1045.1L1146.8 1042.1L1152.1 1039.0L1157.4 1035.8L1162.7 1032.5L1167.9 1029.1L1173.1 1025.6L1178.2 1022.0L1183.3 1018.4L1188.2 1014.6L1193.1 1010.8L1198.0 1006.9L1202.8 1003.0L1207.5 999.0L1212.3 995.1L1217.1 991.2L1221.9 987.3L1226.8 983.5L1231.7 979.7L1236.8 976.0L1241.9 972.4L1247.0 968.9L1252.2 965.4L1257.5 962.0L1262.7 958.7L1268.0 955.4L1273.3 952.3L1278.6 949.2L1284.0 946.3L1289.4 943.4L1294.9 940.6L1300.4 937.9L1305.9 935.3L1311.4 932.7L1317.0 930.1L1322.6 927.6L1328.2 925.0L1333.9 922.5L1339.6 919.9L1345.3 917.4L1351.0 914.8L1356.7 912.3L1362.4 909.7L1367.9 907.2L1373.4 904.7L1378.9 902.1L1384.3 899.4L1389.7 896.7L1395.1 893.8L1400.4 890.8L1405.6 887.6L1410.9 884.3L1416.2 880.9L1421.5 877.2L1426.7 873.4L1431.9 869.5L1437.0 865.4L1441.8 861.2L1446.2 856.7L1450.2 851.9L1453.8 846.9L1456.9 841.6L1459.5 836.0L1461.8 830.2L1463.7 824.1L1465.5 817.8L1466.9 811.3L1468.1 804.7L1468.9 797.9L1469.4 791.1L1469.5 784.4L1469.1 777.7L1468.3 771.1L1467.2 764.8L1465.7 758.5L1463.9 752.3L1462.0 746.2L1459.8 740.2L1457.7 734.3L1455.4 728.6L1453.1 723.0L1450.7 717.6L1448.3 712.3L1445.6 707.1L1442.8 701.9L1439.7 696.7L1436.5 691.5L1433.2 686.5L1429.8 681.6L1426.4 676.9L1422.9 672.1L1419.4 667.4L1415.7 662.5L1411.9 657.5L1408.0 652.4L1404.0 647.2L1400.0 642.0L1396.0 636.8L1392.0 631.6L1388.1 626.5L1384.2 621.3L1380.4 616.3L1376.6 611.2L1372.9 606.2L1369.3 601.2L1365.7 596.1L1362.1 591.1L1358.6 586.0L1355.0 581.0L1351.5 576.0L1347.9 571.1L1344.3 566.2L1340.7 561.3L1337.0 556.4L1333.2 551.7L1329.3 547.0L1325.3 542.4L1321.3 537.8L1317.2 533.4L1313.0 529.0L1308.8 524.7L1304.5 520.4L1300.2 516.3L1295.8 512.1L1291.3 508.0L1286.8 504.0L1282.2 500.0L1277.6 496.1L1272.9 492.1L1268.1 488.3L1263.4 484.4L1258.5 480.6L1253.6 476.8L1248.5 473.1L1243.4 469.4L1238.1 465.6L1232.8 461.9L1227.4 458.3L1222.0 454.6L1216.5 451.1L1211.2 447.6L1205.8 444.3L1200.6 441.2L1195.4 438.1L1190.2 435.3L1184.9 432.6L1179.5 430.1L1173.9 427.9L1168.1 425.9L1162.2 424.3L1156.3 423.1L1150.4 422.3L1144.6 421.7L1138.8 421.3L1133.0 421.1L1127.0 420.8L1121.0 420.6L1114.9 420.4L1108.6 420.3L1102.3 420.2L1095.9 420.4L1089.5 420.7L1083.2 421.3L1077.0 422.1L1070.8 423.1L1064.7 424.4L1058.7 425.8L1052.7 427.5L1046.8 429.3L1040.9 431.2L1035.0 433.3L1029.2 435.5L1023.5 437.8L1017.8 440.2L1012.2 442.7L1006.5 445.3L1001.0 447.9L995.4 450.5L989.9 453.2L984.3 455.8L978.8 458.3L973.3 460.8L967.7 463.3L962.2 465.7L956.6 468.1L951.1 470.6L945.5 473.0L940.0 475.5L934.5 477.9L928.9 480.4L923.4 483.0L918.0 485.5L912.5 488.2L907.0 490.9L901.4 493.8L895.9 496.8L890.5 500.0L885.1 503.4L879.8 506.9L874.8 510.5L869.9 514.2L865.1 517.9L860.4 521.7L855.7 525.7L851.0 529.7L846.3 533.9L841.6 538.2L837.0 542.5L832.5 547.0L828.1 551.5L823.8 556.0L819.6 560.7L815.5 565.5L811.5 570.4L807.5 575.4L803.7 580.6L800.0 585.8L796.4 591.0L792.9 596.3L789.6 601.6L786.3 606.8L783.2 612.1L780.2 617.4L777.2 622.8L774.2 628.3L771.4 633.9L768.6 639.5L766.0 645.3L763.4 651.0L761.1 656.8L758.9 662.5L756.9 668.3L755.1 674.1L753.4 679.9L751.9 685.9L750.6 692.0L749.4 698.1L748.4 704.3L747.5 710.4L746.8 716.6L746.2 722.7L745.6 728.8L745.1 734.8L744.7 740.9L744.4 746.9L744.1 752.9L743.9 758.9L743.8 764.9L743.7 770.9L743.7 777.0L743.7 783.1L743.9 789.2L744.0 795.3L744.3 801.5L744.6 807.6L745.0 813.8L745.6 820.0L746.2 826.2L747.0 832.3L747.9 838.3L749.0 844.3L750.3 850.3L751.7 856.3L753.3 862.3L755.1 868.2L757.2 874.2L759.4 880.1L761.8 886.0L764.3 891.8L767.0 897.6L769.8 903.3L772.8 909.0L775.8 914.8L779.0 920.5L782.2 926.1L785.5 931.7L788.9 937.2L792.4 942.6L796.0 947.9L799.7 953.1L803.6 958.2L807.5 963.2L811.6 968.1L815.7 972.8L819.9 977.4L824.2 981.9L828.5 986.3L833.0 990.6L837.5 994.8L842.1 999.0L846.7 1003.1L851.4 1007.1L856.2 1011.0L861.1 1014.9L866.1 1018.6L871.1 1022.2L876.3 1025.7L881.6 1029.0L887.0 1032.2L892.4 1035.3L898.0 1038.2L903.6 1041.0L909.2 1043.7L914.9 1046.3L920.6 1048.8L926.3 1051.2L932.1 1053.6L938.0 1055.9L943.8 1058.1L949.7 1060.3L955.7 1062.3L961.6 1064.3L967.6 1066.1L973.7 1067.7L979.8 1069.3L985.9 1070.6L992.1 1071.9L998.4 1073.0L1004.7 1073.9L1011.0 1074.6L1017.3 1075.2L1023.6 1075.6L1030.0 1075.8L1036.3 1075.8L1042.6 1075.6L1048.9 1075.2L1055.2 1074.6L1061.5 1073.8L1067.8 1072.8L1074.0 1071.5L1080.1 1070.1Z"/>
<path d="M1078.1 425.0L1066.9 432.6L1064.9 421.8ZM1418.0 669.2L1406.2 662.9L1414.9 656.2ZM1315.7 928.5L1324.4 918.5L1329.0 928.5ZM898.7 1035.5L912.2 1036.0L907.4 1045.9Z"/>
<path d="M1492.6 832.7L1489.8 837.9L1486.9 843.2L1483.8 848.5L1480.6 853.8L1477.3 859.1L1473.7 864.2L1470.0 869.1L1466.2 873.9L1462.2 878.5L1458.0 882.9L1453.7 887.1L1449.1 891.1L1444.4 895.0L1439.5 898.7L1434.5 902.3L1429.4 905.7L1424.2 908.9L1418.9 912.0L1413.5 914.8L1408.0 917.5L1402.4 920.2L1396.8 922.7L1391.1 925.2L1385.5 927.8L1379.8 930.3L1374.1 932.8L1368.5 935.3L1362.9 937.8L1357.3 940.4L1351.7 943.0L1346.1 945.6L1340.5 948.2L1334.9 950.8L1329.3 953.4L1323.8 956.1L1318.2 958.7L1312.6 961.4L1307.0 964.1L1301.5 966.9L1296.0 969.9L1290.5 972.9L1285.1 976.2L1279.9 979.5L1274.7 983.0L1269.7 986.7L1264.8 990.4L1259.9 994.3L1255.1 998.3L1250.3 1002.4L1245.6 1006.6L1240.8 1010.9L1236.2 1015.2L1231.5 1019.6L1226.9 1024.0L1222.4 1028.5L1218.0 1033.1L1213.6 1037.7L1209.2 1042.4L1204.8 1047.0L1200.5 1051.5L1196.1 1056.0L1191.7 1060.3L1187.2 1064.3L1182.6 1068.2L1177.8 1071.9L1172.8 1075.3L1167.6 1078.5L1162.3 1081.5L1156.9 1084.2L1151.5 1086.7L1146.0 1089.0L1140.4 1091.2L1134.8 1093.2L1129.1 1095.2L1123.4 1097.0L1117.6 1098.8L1111.8 1100.4L1106.0 1101.9L1100.2 1103.3L1094.3 1104.5L1088.4 1105.5L1082.4 1106.3L1076.4 1106.9L1070.4 1107.3L1064.3 1107.5L1058.1 1107.6L1051.9 1107.5L1045.7 1107.2L1039.5 1106.7L1033.3 1106.2L1027.1 1105.5L1020.9 1104.6L1014.7 1103.6L1008.5 1102.6L1002.3 1101.3L996.1 1100.0L990.0 1098.5L983.9 1096.9L977.9 1095.2L971.9 1093.4L966.0 1091.5L960.1 1089.5L954.2 1087.4L948.4 1085.2L942.6 1082.9L936.9 1080.6L931.3 1078.1L925.7 1075.7L920.2 1073.1L914.7 1070.5L909.3 1067.8L903.9 1064.9L898.4 1061.9L893.0 1058.7L887.6 1055.4L882.3 1052.0L877.1 1048.5L872.0 1045.0L867.0 1041.3L862.0 1037.6L856.9 1033.7L851.9 1029.8L846.9 1025.8L841.9 1021.8L837.1 1017.7L832.3 1013.6L827.7 1009.5L823.1 1005.4L818.7 1001.3L814.4 997.1L810.2 992.9L806.2 988.6L802.3 984.3L798.6 979.9L794.9 975.4L791.4 970.8L787.9 966.0L784.5 961.1L781.2 956.0L778.0 950.8L774.8 945.6L771.7 940.2L768.6 934.7L765.6 929.0L762.5 923.3L759.6 917.6L756.7 911.8L753.9 906.1L751.2 900.4L748.5 894.8L746.0 889.1L743.6 883.4L741.2 877.7L739.0 871.8L736.9 866.0L735.0 860.2L733.3 854.4L731.8 848.7L730.5 843.0L729.3 837.2L728.3 831.4L727.4 825.4L726.6 819.4L725.9 813.3L725.4 807.3L724.9 801.1L724.6 795.1L724.3 789.0L724.1 783.0L724.0 776.9L724.0 771.0L724.1 765.0L724.3 759.1L724.5 753.2L724.8 747.2L725.2 741.3L725.5 735.4L726.0 729.4L726.5 723.5L727.0 717.6L727.7 711.6L728.5 705.6L729.4 699.6L730.5 693.6L731.8 687.7L733.2 681.9L734.8 676.1L736.5 670.5L738.3 664.8L740.3 659.2L742.4 653.5L744.7 647.8L747.1 642.1L749.6 636.4L752.3 630.8L755.0 625.2L757.8 619.8L760.7 614.5L763.6 609.3L766.5 604.2L769.6 599.2L772.7 594.2L775.9 589.2L779.3 584.2L782.8 579.3L786.5 574.3L790.2 569.4L794.2 564.5L798.2 559.7L802.3 555.0L806.5 550.5L810.8 546.0L815.2 541.6L819.8 537.2L824.4 532.9L829.2 528.6L834.1 524.3L839.0 520.0L844.0 515.8L849.0 511.6L853.9 507.6L858.8 503.6L863.6 499.8L868.4 496.1L873.2 492.5L878.1 488.9L883.0 485.4L888.1 481.9L893.3 478.5L898.5 475.4L903.7 472.4L908.8 469.5L913.8 466.9L918.8 464.3L923.9 461.7L929.1 459.1L934.3 456.5L939.7 453.8L945.1 451.1L950.6 448.4L956.1 445.7L961.6 443.0L967.2 440.4L972.7 437.8L978.3 435.2L983.8 432.7L989.4 430.2L994.9 427.8L1000.4 425.4L1006.0 423.1L1011.5 420.8L1017.1 418.7L1022.7 416.6L1028.3 414.7L1033.9 412.8L1039.6 411.0L1045.3 409.4L1051.1 407.9L1056.9 406.5L1062.7 405.3L1068.6 404.3L1074.6 403.4L1080.6 402.8L1086.8 402.3L1093.0 402.1L1099.3 402.0L1105.6 402.0L1111.9 402.2L1118.2 402.5L1124.4 402.8L1130.4 403.2L1136.4 403.6L1142.2 404.1L1147.9 404.8L1153.7 405.8L1159.4 407.0L1165.1 408.6L1170.8 410.6L1176.2 412.7L1181.5 415.1L1186.6 417.5L1191.7 420.1L1196.8 422.9L1202.0 425.8L1207.3 428.8L1212.7 431.9L1218.2 435.2L1223.8 438.5L1229.3 441.9L1234.8 445.3L1240.2 448.8L1245.6 452.3L1250.8 455.8L1256.0 459.3L1261.0 462.8L1266.0 466.4L1270.9 470.0L1275.7 473.7L1280.5 477.4L1285.2 481.2L1289.8 485.1L1294.4 489.0L1298.9 492.9L1303.3 496.9L1307.6 500.9L1311.9 505.0L1316.2 509.1L1320.3 513.3L1324.5 517.5L1328.5 521.8L1332.5 526.1L1336.4 530.6L1340.2 535.0L1343.9 539.6L1347.6 544.2L1351.1 548.9L1354.6 553.6L1358.0 558.4L1361.4 563.3L1364.8 568.2L1368.3 573.1L1371.8 578.1L1375.5 583.1L1379.2 588.2L1383.0 593.2L1386.9 598.2L1390.9 603.1L1394.9 607.9L1399.0 612.7L1403.2 617.5L1407.4 622.4L1411.8 627.2L1416.3 632.1L1420.8 637.1L1425.4 642.0L1430.0 646.9L1434.6 651.8L1439.0 656.6L1443.4 661.3L1447.7 665.9L1451.8 670.3L1455.8 674.6L1459.7 678.9L1463.5 683.1L1467.3 687.5L1471.0 692.1L1474.7 696.9L1478.2 701.7L1481.5 706.7L1484.5 711.6L1487.2 716.7L1489.7 721.8L1492.1 727.2L1494.3 732.8L1496.4 738.6L1498.2 744.6L1499.9 750.7L1501.3 756.9L1502.4 763.2L1503.3 769.5L1504.0 775.9L1504.4 782.3L1504.8 788.6L1505.0 794.8L1505.2 801.0L1505.5 801.0L1505.6 794.8L1505.6 788.6L1505.5 782.2L1505.2 775.8L1504.8 769.4L1504.1 763.0L1503.2 756.5L1502.0 750.2L1500.5 744.0L1498.8 737.8L1496.8 731.9L1494.6 726.2L1492.2 720.7L1489.7 715.4L1486.9 710.2L1483.9 705.1L1480.7 700.1L1477.1 695.1L1473.4 690.2L1469.7 685.5L1465.9 681.1L1462.1 676.7L1458.2 672.4L1454.3 668.1L1450.2 663.6L1445.9 659.0L1441.6 654.3L1437.1 649.4L1432.6 644.5L1428.1 639.5L1423.6 634.6L1419.1 629.6L1414.7 624.7L1410.3 619.8L1406.1 614.9L1402.0 610.1L1398.0 605.3L1394.1 600.5L1390.2 595.6L1386.4 590.6L1382.7 585.6L1379.1 580.5L1375.5 575.5L1372.1 570.5L1368.7 565.5L1365.3 560.6L1361.9 555.6L1358.5 550.8L1355.1 545.9L1351.6 541.2L1347.9 536.4L1344.2 531.8L1340.4 527.2L1336.5 522.6L1332.5 518.2L1328.4 513.8L1324.3 509.4L1320.1 505.2L1315.9 500.9L1311.6 496.8L1307.2 492.6L1302.8 488.5L1298.3 484.5L1293.7 480.5L1289.1 476.5L1284.4 472.6L1279.6 468.8L1274.7 465.0L1269.8 461.3L1264.8 457.6L1259.7 453.9L1254.5 450.3L1249.3 446.7L1243.8 443.2L1238.3 439.8L1232.7 436.3L1227.1 432.9L1221.5 429.6L1215.9 426.4L1210.4 423.3L1205.0 420.3L1199.7 417.4L1194.5 414.7L1189.3 412.0L1184.0 409.5L1178.5 407.2L1172.8 405.0L1166.9 403.0L1160.8 401.3L1154.8 400.0L1148.7 399.1L1142.7 398.4L1136.8 398.0L1130.8 397.6L1124.7 397.3L1118.4 397.0L1112.1 396.7L1105.7 396.6L1099.3 396.6L1092.8 396.7L1086.5 397.1L1080.1 397.6L1073.9 398.3L1067.8 399.2L1061.8 400.3L1055.8 401.5L1049.9 402.9L1044.0 404.5L1038.1 406.1L1032.4 407.9L1026.6 409.8L1020.9 411.8L1015.3 413.9L1009.6 416.1L1004.0 418.4L998.5 420.8L992.9 423.2L987.3 425.6L981.7 428.1L976.2 430.7L970.6 433.3L965.0 435.9L959.5 438.5L953.9 441.2L948.4 443.9L942.9 446.7L937.5 449.4L932.1 452.1L926.8 454.8L921.7 457.4L916.6 459.9L911.5 462.6L906.4 465.3L901.3 468.1L896.0 471.2L890.7 474.5L885.5 477.9L880.3 481.4L875.3 485.0L870.3 488.6L865.5 492.3L860.7 496.0L855.8 499.9L850.9 503.8L845.9 507.9L840.9 512.1L835.9 516.3L830.9 520.6L825.9 524.9L821.1 529.3L816.4 533.7L811.8 538.1L807.3 542.6L803.0 547.1L798.7 551.8L794.5 556.5L790.4 561.4L786.4 566.3L782.5 571.3L778.8 576.4L775.2 581.4L771.8 586.5L768.5 591.5L765.3 596.6L762.2 601.7L759.2 606.8L756.3 612.1L753.4 617.5L750.5 623.0L747.8 628.6L745.1 634.3L742.5 640.1L740.0 645.9L737.7 651.7L735.6 657.5L733.5 663.2L731.7 668.9L729.9 674.7L728.3 680.6L726.8 686.6L725.5 692.6L724.4 698.8L723.4 704.9L722.6 711.0L722.0 717.1L721.4 723.1L720.9 729.0L720.5 735.0L720.1 741.0L719.8 747.0L719.5 752.9L719.3 758.9L719.1 764.9L719.0 770.9L719.1 777.0L719.2 783.1L719.3 789.2L719.6 795.3L720.0 801.5L720.5 807.7L721.0 813.8L721.7 820.0L722.5 826.1L723.5 832.2L724.5 838.1L725.7 844.0L727.1 849.9L728.7 855.7L730.4 861.6L732.4 867.6L734.5 873.5L736.8 879.4L739.1 885.3L741.6 891.0L744.2 896.7L746.8 902.4L749.6 908.1L752.4 913.9L755.3 919.7L758.3 925.5L761.4 931.3L764.5 936.9L767.6 942.5L770.8 948.0L774.0 953.3L777.3 958.5L780.7 963.7L784.1 968.7L787.7 973.5L791.3 978.3L795.0 982.9L798.8 987.3L802.8 991.7L806.9 996.1L811.2 1000.3L815.6 1004.6L820.1 1008.8L824.7 1012.9L829.4 1017.0L834.2 1021.1L839.1 1025.2L844.1 1029.3L849.2 1033.3L854.3 1037.2L859.4 1041.1L864.5 1044.8L869.6 1048.5L874.7 1052.1L880.0 1055.6L885.4 1059.0L890.9 1062.3L896.4 1065.5L901.9 1068.5L907.4 1071.4L912.9 1074.2L918.5 1076.8L924.0 1079.3L929.7 1081.8L935.4 1084.2L941.2 1086.6L947.0 1088.9L952.9 1091.1L958.8 1093.2L964.8 1095.2L970.8 1097.1L976.8 1098.9L982.9 1100.6L989.1 1102.2L995.3 1103.6L1001.5 1105.0L1007.8 1106.2L1014.1 1107.3L1020.4 1108.2L1026.7 1109.0L1032.9 1109.7L1039.2 1110.3L1045.5 1110.8L1051.8 1111.0L1058.1 1111.2L1064.3 1111.1L1070.6 1110.9L1076.7 1110.4L1082.9 1109.8L1088.9 1109.0L1095.0 1107.9L1100.9 1106.7L1106.9 1105.4L1112.8 1103.8L1118.6 1102.2L1124.5 1100.4L1130.2 1098.5L1136.0 1096.5L1141.6 1094.5L1147.3 1092.3L1152.9 1089.9L1158.5 1087.3L1164.0 1084.5L1169.4 1081.5L1174.7 1078.2L1179.8 1074.7L1184.7 1070.9L1189.5 1067.0L1194.1 1062.8L1198.5 1058.4L1203.0 1053.9L1207.3 1049.4L1211.7 1044.7L1216.1 1040.1L1220.5 1035.5L1224.9 1030.9L1229.3 1026.5L1233.9 1022.1L1238.5 1017.7L1243.1 1013.4L1247.8 1009.2L1252.6 1005.0L1257.3 1000.9L1262.1 996.9L1266.9 993.1L1271.7 989.4L1276.7 985.8L1281.7 982.3L1286.9 979.0L1292.2 975.9L1297.6 972.8L1303.0 969.9L1308.5 967.1L1314.1 964.4L1319.6 961.7L1325.2 959.1L1330.8 956.4L1336.3 953.8L1341.9 951.2L1347.5 948.6L1353.1 946.0L1358.7 943.4L1364.3 940.8L1369.9 938.3L1375.5 935.7L1381.1 933.2L1386.7 930.6L1392.4 928.1L1398.1 925.5L1403.7 922.9L1409.3 920.3L1414.9 917.5L1420.3 914.5L1425.7 911.4L1431.0 908.1L1436.2 904.6L1441.2 901.0L1446.2 897.1L1450.9 893.2L1455.5 889.1L1459.9 884.8L1464.2 880.3L1468.3 875.6L1472.1 870.7L1475.7 865.6L1479.1 860.2L1482.2 854.7L1485.1 849.2L1487.9 843.7L1490.5 838.3L1493.0 832.9Z"/>
<path d="M1045.3 406.7L1035.1 415.4L1032.0 404.9ZM738.1 657.6L739.4 671.0L729.0 667.5ZM860.3 1039.1L873.4 1041.8L866.9 1050.7ZM1227.9 1025.4L1232.8 1013.1L1240.4 1021.1ZM1357.1 552.8L1345.4 546.2L1354.3 539.7Z"/>
<path d="M1528.2 851.2L1525.6 857.5L1522.9 863.6L1520.1 869.6L1516.9 875.4L1513.4 881.1L1509.8 886.6L1505.8 891.9L1501.6 897.0L1497.2 901.8L1492.6 906.4L1487.9 910.7L1483.0 914.6L1478.0 918.2L1472.8 921.6L1467.6 924.8L1462.4 928.0L1457.2 931.2L1452.0 934.6L1447.0 938.1L1441.9 941.7L1436.9 945.4L1431.7 948.9L1426.5 952.1L1421.1 955.2L1415.5 958.0L1409.8 960.6L1404.0 963.2L1398.0 965.8L1392.1 968.4L1386.1 971.2L1380.3 974.0L1374.7 976.9L1369.2 980.0L1363.8 983.1L1358.4 986.3L1353.1 989.5L1347.8 992.9L1342.6 996.3L1337.3 999.7L1332.1 1003.2L1326.9 1006.6L1321.8 1010.1L1316.6 1013.6L1311.5 1017.1L1306.4 1020.7L1301.3 1024.4L1296.4 1028.1L1291.4 1032.0L1286.7 1036.1L1282.0 1040.3L1277.5 1044.7L1273.1 1049.3L1268.9 1054.1L1264.9 1059.0L1260.8 1063.9L1256.8 1068.7L1252.7 1073.4L1248.5 1077.9L1244.1 1081.9L1239.5 1085.6L1234.6 1088.9L1229.4 1091.7L1223.9 1094.2L1218.2 1096.3L1212.4 1098.2L1206.4 1100.0L1200.4 1101.7L1194.4 1103.4L1188.4 1105.3L1182.5 1107.4L1176.6 1109.7L1170.9 1112.2L1165.2 1114.9L1159.5 1117.8L1154.0 1120.7L1148.4 1123.7L1142.9 1126.6L1137.4 1129.4L1131.8 1132.1L1126.2 1134.8L1120.5 1137.3L1114.7 1139.7L1108.9 1142.0L1103.0 1144.2L1097.2 1146.3L1091.3 1148.2L1085.3 1149.9L1079.3 1151.5L1073.2 1152.9L1067.1 1154.2L1061.0 1155.3L1054.8 1156.2L1048.6 1157.0L1042.4 1157.5L1036.2 1157.9L1030.0 1158.2L1023.8 1158.2L1017.6 1158.1L1011.4 1157.8L1005.2 1157.2L999.0 1156.5L993.0 1155.4L987.0 1154.1L981.1 1152.6L975.3 1150.8L969.6 1148.7L964.0 1146.3L958.4 1143.8L952.9 1141.1L947.4 1138.2L942.0 1135.2L936.6 1132.1L931.4 1128.9L926.3 1125.8L921.3 1122.6L916.4 1119.3L911.5 1115.9L906.6 1112.5L901.6 1109.0L896.6 1105.5L891.6 1101.9L886.5 1098.4L881.4 1094.9L876.4 1091.5L871.3 1088.1L866.3 1084.9L861.2 1081.6L856.1 1078.4L850.9 1075.1L845.7 1071.7L840.5 1068.1L835.3 1064.5L830.1 1060.7L825.1 1056.9L820.1 1052.9L815.4 1049.0L810.8 1045.0L806.3 1040.9L802.0 1036.9L797.7 1032.8L793.4 1028.6L789.2 1024.3L785.0 1019.9L780.8 1015.4L776.6 1010.9L772.5 1006.3L768.5 1001.6L764.6 996.8L760.7 991.9L757.0 987.0L753.3 982.1L749.8 977.0L746.4 971.9L743.1 966.7L739.9 961.3L736.7 955.8L733.7 950.2L730.7 944.5L727.8 938.8L725.0 933.0L722.2 927.2L719.6 921.5L717.0 915.8L714.6 910.2L712.2 904.7L709.9 899.3L707.6 894.0L705.3 888.5L703.1 882.9L700.8 877.2L698.6 871.3L696.6 865.5L694.7 859.7L693.0 854.0L691.5 848.4L690.3 842.8L689.1 837.1L688.1 831.4L687.3 825.5L686.5 819.5L685.9 813.4L685.3 807.3L684.9 801.2L684.6 795.1L684.3 789.0L684.2 783.0L684.1 777.0L684.1 771.0L684.1 765.0L684.3 759.0L684.5 753.1L684.7 747.1L685.0 741.2L685.2 735.2L685.5 729.2L685.8 723.3L686.1 717.3L686.5 711.3L687.0 705.2L687.6 699.1L688.4 693.1L689.3 687.1L690.4 681.1L691.6 675.2L693.0 669.3L694.5 663.5L696.2 657.6L698.1 651.8L700.1 645.8L702.4 639.9L704.8 634.0L707.4 628.3L710.2 622.6L713.1 617.1L716.1 611.7L719.3 606.3L722.6 601.0L726.0 595.7L729.6 590.4L733.2 585.2L736.9 580.0L740.6 574.9L744.3 570.0L748.0 565.2L751.7 560.5L755.5 555.9L759.3 551.6L763.1 547.3L767.0 543.3L771.0 539.4L775.1 535.6L779.3 531.9L783.8 528.1L788.4 524.2L793.0 520.3L797.7 516.3L802.3 512.4L806.9 508.4L811.5 504.4L816.2 500.3L821.0 496.1L825.8 491.8L830.8 487.5L835.9 483.1L840.9 478.6L846.0 474.3L851.1 469.9L856.0 465.7L860.9 461.5L865.8 457.5L870.6 453.6L875.4 449.7L880.4 445.8L885.5 441.9L890.7 438.1L895.9 434.4L901.1 430.8L906.3 427.4L911.3 424.2L916.3 421.1L921.3 418.1L926.3 415.1L931.5 412.2L936.8 409.2L942.1 406.1L947.6 403.1L953.1 400.2L958.6 397.3L964.2 394.6L969.7 392.0L975.3 389.6L981.0 387.3L986.7 385.2L992.4 383.2L998.2 381.4L1004.0 379.8L1009.9 378.3L1015.8 377.0L1021.7 375.8L1027.7 374.7L1033.7 373.7L1039.8 372.9L1045.9 372.2L1052.1 371.6L1058.3 371.1L1064.5 370.7L1070.7 370.5L1077.0 370.3L1083.3 370.3L1089.6 370.4L1095.9 370.5L1102.2 370.8L1108.5 371.2L1114.7 371.7L1120.7 372.3L1126.6 372.9L1132.3 373.7L1137.9 374.5L1143.3 375.5L1148.8 376.8L1154.3 378.3L1160.0 380.1L1165.7 382.2L1171.4 384.6L1176.9 387.1L1182.3 389.7L1187.5 392.3L1192.8 395.1L1198.0 398.0L1203.4 401.0L1209.0 404.1L1214.6 407.3L1220.3 410.6L1226.1 414.0L1231.8 417.3L1237.6 420.7L1243.2 424.1L1248.7 427.4L1254.1 430.6L1259.3 433.8L1264.5 436.9L1269.6 440.1L1274.8 443.4L1280.0 446.8L1285.1 450.3L1290.2 453.9L1295.2 457.5L1299.9 461.0L1304.5 464.5L1308.9 468.0L1313.4 471.5L1317.8 475.1L1322.4 478.7L1327.0 482.3L1331.7 486.0L1336.4 489.6L1341.2 493.3L1346.0 497.0L1350.9 500.8L1355.8 504.6L1360.7 508.4L1365.5 512.3L1370.3 516.2L1375.1 520.0L1379.7 523.9L1384.3 527.7L1388.8 531.6L1393.2 535.3L1397.5 539.0L1401.7 542.8L1405.9 546.6L1410.1 550.6L1414.4 554.8L1418.7 559.2L1423.1 563.9L1427.5 568.8L1431.7 573.7L1435.8 578.6L1439.7 583.4L1443.5 588.2L1447.2 593.0L1450.9 597.9L1454.6 602.9L1458.4 608.0L1462.3 613.3L1466.2 618.8L1470.2 624.3L1474.2 629.8L1478.1 635.4L1482.0 641.0L1485.9 646.5L1489.7 651.9L1493.3 657.2L1496.8 662.3L1500.2 667.3L1503.5 672.2L1506.6 676.9L1509.7 681.7L1512.7 686.7L1515.6 691.9L1518.3 697.3L1520.8 702.7L1522.9 708.1L1524.7 713.4L1526.3 718.6L1527.7 723.9L1529.2 729.3L1530.8 734.9L1532.3 740.6L1533.9 746.4L1535.3 752.2L1536.7 758.1L1537.9 764.0L1539.0 769.9L1540.0 776.0L1540.9 782.1L1541.6 788.3L1542.2 794.6L1542.8 800.9L1543.2 807.2L1543.6 813.4L1543.8 819.7L1544.0 826.0L1544.1 832.3L1544.1 838.6L1544.0 844.8L1543.9 851.0L1543.8 857.2L1543.7 860.2L1543.9 860.2L1544.1 857.2L1544.3 851.0L1544.5 844.8L1544.7 838.6L1544.8 832.3L1544.9 826.0L1544.8 819.7L1544.7 813.4L1544.4 807.1L1544.1 800.8L1543.6 794.5L1543.0 788.2L1542.3 781.9L1541.4 775.8L1540.4 769.7L1539.3 763.7L1538.1 757.8L1536.8 751.9L1535.3 746.0L1533.8 740.2L1532.2 734.5L1530.7 728.9L1529.3 723.5L1527.8 718.2L1526.3 712.9L1524.5 707.5L1522.4 702.0L1519.9 696.5L1517.2 691.0L1514.3 685.8L1511.3 680.7L1508.3 675.9L1505.2 671.0L1502.0 666.2L1498.6 661.1L1495.1 656.0L1491.5 650.6L1487.7 645.2L1483.9 639.7L1480.0 634.1L1476.1 628.5L1472.2 622.9L1468.3 617.3L1464.4 611.8L1460.5 606.5L1456.8 601.3L1453.1 596.2L1449.4 591.3L1445.7 586.5L1442.0 581.6L1438.1 576.7L1434.0 571.8L1429.7 566.8L1425.4 561.9L1421.0 557.1L1416.6 552.6L1412.4 548.3L1408.1 544.2L1403.9 540.4L1399.7 536.5L1395.4 532.8L1391.0 529.0L1386.6 525.1L1382.0 521.2L1377.4 517.3L1372.6 513.3L1367.8 509.4L1363.0 505.5L1358.1 501.6L1353.3 497.8L1348.4 494.0L1343.6 490.2L1338.9 486.5L1334.2 482.8L1329.6 479.1L1325.0 475.4L1320.5 471.8L1316.1 468.2L1311.6 464.6L1307.2 461.1L1302.6 457.5L1297.8 453.9L1292.9 450.2L1287.8 446.6L1282.6 443.0L1277.4 439.5L1272.2 436.1L1267.0 432.9L1261.9 429.6L1256.6 426.4L1251.3 423.1L1245.7 419.8L1240.1 416.5L1234.3 413.1L1228.5 409.7L1222.7 406.4L1217.0 403.1L1211.3 399.9L1205.7 396.8L1200.3 393.8L1194.9 391.0L1189.7 388.2L1184.3 385.5L1178.8 382.9L1173.2 380.4L1167.3 378.0L1161.4 375.9L1155.6 374.0L1149.8 372.5L1144.2 371.2L1138.6 370.2L1132.9 369.4L1127.1 368.7L1121.1 368.0L1115.0 367.5L1108.8 367.0L1102.4 366.7L1096.0 366.4L1089.7 366.3L1083.3 366.3L1076.9 366.3L1070.6 366.5L1064.3 366.8L1058.0 367.2L1051.7 367.7L1045.5 368.3L1039.3 369.1L1033.1 370.0L1027.0 371.0L1021.0 372.1L1015.0 373.4L1009.0 374.7L1003.1 376.3L997.2 377.9L991.3 379.8L985.5 381.8L979.7 383.9L973.9 386.3L968.3 388.8L962.6 391.4L957.0 394.2L951.4 397.1L945.9 400.1L940.4 403.1L935.1 406.2L929.8 409.2L924.6 412.2L919.5 415.2L914.5 418.2L909.5 421.4L904.5 424.6L899.3 428.1L894.0 431.7L888.8 435.5L883.5 439.4L878.4 443.3L873.4 447.2L868.6 451.1L863.8 455.1L858.9 459.2L854.0 463.3L849.1 467.6L844.0 472.0L839.0 476.4L833.9 480.8L828.8 485.2L823.9 489.6L819.0 493.9L814.2 498.1L809.6 502.1L805.0 506.2L800.4 510.1L795.8 514.1L791.1 518.1L786.5 522.0L781.9 525.9L777.4 529.7L773.1 533.4L769.0 537.3L764.9 541.2L761.0 545.4L757.1 549.6L753.3 554.1L749.5 558.7L745.8 563.4L742.1 568.2L738.3 573.2L734.6 578.3L730.9 583.5L727.2 588.8L723.7 594.2L720.2 599.5L716.9 604.9L713.7 610.3L710.6 615.7L707.7 621.3L704.9 627.1L702.2 632.9L699.8 638.9L697.5 644.9L695.5 650.9L693.6 656.8L691.9 662.8L690.4 668.7L689.0 674.6L687.7 680.6L686.6 686.6L685.7 692.7L684.9 698.8L684.3 705.0L683.8 711.1L683.4 717.1L683.1 723.1L682.8 729.1L682.6 735.1L682.3 741.1L682.1 747.0L681.8 753.0L681.6 759.0L681.5 765.0L681.4 771.0L681.4 777.0L681.5 783.0L681.7 789.1L682.0 795.2L682.3 801.4L682.7 807.6L683.3 813.7L683.9 819.8L684.7 825.8L685.6 831.8L686.6 837.6L687.7 843.3L689.0 849.0L690.5 854.7L692.2 860.5L694.1 866.3L696.2 872.2L698.4 878.1L700.7 883.9L702.9 889.5L705.2 895.0L707.5 900.4L709.8 905.8L712.2 911.3L714.6 916.9L717.2 922.5L719.9 928.3L722.6 934.1L725.5 940.0L728.4 945.7L731.4 951.5L734.4 957.1L737.6 962.7L740.8 968.1L744.2 973.4L747.6 978.5L751.2 983.6L754.8 988.6L758.6 993.6L762.5 998.4L766.5 1003.2L770.6 1008.0L774.7 1012.6L778.9 1017.2L783.1 1021.7L787.3 1026.1L791.6 1030.4L795.8 1034.6L800.1 1038.8L804.5 1042.9L809.0 1046.9L813.7 1051.0L818.5 1055.0L823.4 1059.0L828.6 1062.9L833.8 1066.7L839.0 1070.3L844.3 1073.9L849.5 1077.3L854.7 1080.6L859.8 1083.9L864.8 1087.1L869.9 1090.4L874.9 1093.7L879.9 1097.1L885.0 1100.5L890.0 1104.1L895.1 1107.6L900.1 1111.2L905.1 1114.7L910.0 1118.1L914.9 1121.5L919.8 1124.8L924.9 1128.0L930.0 1131.2L935.3 1134.4L940.7 1137.5L946.1 1140.5L951.7 1143.4L957.3 1146.2L962.9 1148.8L968.6 1151.2L974.4 1153.3L980.3 1155.2L986.3 1156.7L992.5 1158.1L998.7 1159.1L1004.9 1159.9L1011.2 1160.4L1017.5 1160.8L1023.7 1160.9L1030.0 1160.8L1036.3 1160.6L1042.6 1160.2L1048.9 1159.6L1055.2 1158.9L1061.4 1158.0L1067.6 1156.9L1073.8 1155.6L1080.0 1154.1L1086.0 1152.5L1092.1 1150.7L1098.0 1148.8L1104.0 1146.8L1109.9 1144.6L1115.7 1142.2L1121.5 1139.8L1127.3 1137.2L1133.0 1134.6L1138.6 1131.8L1144.2 1128.9L1149.7 1126.0L1155.2 1123.1L1160.8 1120.1L1166.3 1117.3L1172.0 1114.6L1177.7 1112.1L1183.4 1109.8L1189.3 1107.8L1195.2 1105.9L1201.1 1104.2L1207.2 1102.5L1213.2 1100.7L1219.1 1098.8L1224.9 1096.6L1230.5 1094.0L1235.9 1091.1L1241.0 1087.7L1245.8 1083.9L1250.3 1079.7L1254.6 1075.1L1258.8 1070.4L1262.8 1065.5L1266.8 1060.6L1270.9 1055.7L1275.0 1051.0L1279.3 1046.5L1283.7 1042.1L1288.3 1037.9L1293.0 1034.0L1297.9 1030.1L1302.8 1026.4L1307.8 1022.7L1312.9 1019.2L1318.0 1015.6L1323.1 1012.1L1328.3 1008.7L1333.5 1005.2L1338.7 1001.7L1343.9 998.3L1349.1 994.9L1354.4 991.6L1359.7 988.3L1365.0 985.2L1370.4 982.1L1375.8 979.1L1381.4 976.1L1387.2 973.3L1393.0 970.6L1399.0 967.9L1404.9 965.3L1410.8 962.7L1416.5 960.0L1422.1 957.1L1427.6 954.0L1432.9 950.7L1438.1 947.1L1443.1 943.4L1448.2 939.8L1453.2 936.3L1458.3 932.9L1463.5 929.7L1468.7 926.5L1473.9 923.2L1479.1 919.8L1484.2 916.1L1489.1 912.1L1493.9 907.7L1498.5 903.1L1503.0 898.1L1507.2 893.0L1511.2 887.6L1514.9 882.0L1518.3 876.2L1521.2 870.1L1523.8 864.0L1526.2 857.7L1528.4 851.4Z"/>
<path d="M986.5 383.2L977.3 392.7L973.3 382.4ZM711.9 616.1L711.4 629.2L701.6 624.3ZM741.7 967.1L752.8 974.1L743.6 980.1ZM1333.5 484.8L1320.6 481.7L1327.4 473.0ZM1544.4 819.8L1538.4 808.4L1549.4 807.9ZM1322.2 1011.3L1329.0 1000.1L1335.1 1009.2ZM1097.3 1147.7L1106.7 1138.5L1110.4 1148.8ZM875.3 1092.3L888.2 1094.4L882.0 1103.5ZM1488.6 911.5L1493.3 899.4L1500.9 907.4Z"/>
<path d="M697.6 534.8L702.1 531.8L706.8 528.8L711.7 525.5L716.9 522.1L722.3 518.5L727.7 514.8L733.1 511.1L738.3 507.5L743.5 503.9L748.6 500.3L753.7 496.8L758.9 493.2L764.1 489.6L769.3 486.0L774.4 482.3L779.6 478.7L784.8 475.1L789.9 471.4L795.1 467.7L800.3 464.0L805.4 460.3L810.5 456.6L815.5 452.9L820.5 449.3L825.4 445.7L830.3 442.1L835.0 438.6L839.7 435.1L844.2 431.6L848.7 428.1L853.2 424.7L857.9 421.3L862.7 417.8L867.7 414.4L872.8 411.1L878.0 407.8L883.1 404.7L888.2 401.7L893.2 398.8L898.2 395.9L903.3 393.0L908.6 390.1L913.9 387.2L919.4 384.2L925.0 381.3L930.8 378.4L936.5 375.5L942.4 372.8L948.2 370.1L954.1 367.6L960.0 365.3L965.8 363.1L971.7 361.1L977.6 359.3L983.6 357.6L989.6 356.1L995.6 354.8L1001.8 353.5L1008.0 352.4L1014.3 351.4L1020.5 350.4L1026.8 349.6L1033.0 348.9L1039.2 348.2L1045.4 347.7L1051.4 347.2L1057.4 346.8L1063.3 346.5L1069.2 346.3L1075.1 346.1L1081.0 346.1L1086.9 346.2L1092.8 346.4L1098.6 346.8L1104.3 347.3L1110.0 348.0L1115.6 348.8L1121.2 349.8L1126.9 350.9L1132.7 352.1L1138.6 353.4L1144.6 354.8L1150.6 356.2L1156.6 357.7L1162.5 359.1L1168.4 360.6L1174.3 362.1L1180.3 363.7L1186.4 365.3L1192.6 367.0L1198.9 368.7L1205.2 370.5L1211.6 372.3L1217.9 374.1L1224.2 375.9L1230.4 377.7L1236.5 379.5L1242.4 381.3L1248.1 383.1L1253.8 384.8L1259.4 386.6L1265.1 388.5L1270.8 390.5L1276.5 392.6L1282.2 394.8L1287.7 397.0L1293.0 399.3L1298.2 401.6L1303.3 403.8L1308.4 406.0L1313.6 408.2L1319.0 410.3L1324.7 412.4L1330.7 414.5L1336.8 416.5L1343.2 418.5L1349.7 420.5L1356.2 422.3L1362.6 424.2L1368.9 425.9L1374.8 427.5L1380.4 429.1L1385.6 430.5L1390.4 431.8L1395.1 433.1L1395.2 432.8L1390.6 431.4L1385.8 429.9L1380.6 428.3L1375.1 426.6L1369.2 424.7L1363.0 422.8L1356.7 420.7L1350.2 418.6L1343.8 416.5L1337.5 414.5L1331.4 412.4L1325.5 410.3L1319.9 408.1L1314.5 405.9L1309.4 403.7L1304.3 401.5L1299.3 399.2L1294.1 396.8L1288.8 394.5L1283.2 392.1L1277.5 389.9L1271.8 387.7L1266.0 385.6L1260.4 383.7L1254.8 381.8L1249.1 380.0L1243.3 378.2L1237.4 376.4L1231.3 374.6L1225.1 372.8L1218.8 371.0L1212.5 369.1L1206.1 367.3L1199.8 365.5L1193.5 363.8L1187.3 362.1L1181.2 360.5L1175.2 358.9L1169.2 357.4L1163.3 355.9L1157.4 354.4L1151.4 353.0L1145.4 351.5L1139.3 350.1L1133.4 348.8L1127.6 347.5L1121.8 346.4L1116.1 345.4L1110.4 344.6L1104.7 343.9L1098.9 343.3L1092.9 342.9L1087.0 342.7L1081.0 342.6L1075.0 342.6L1069.1 342.8L1063.2 343.0L1057.2 343.3L1051.2 343.7L1045.1 344.1L1038.9 344.7L1032.6 345.3L1026.4 346.0L1020.0 346.9L1013.7 347.8L1007.4 348.9L1001.1 350.1L994.9 351.4L988.8 352.8L982.7 354.3L976.6 356.0L970.7 357.9L964.7 360.0L958.8 362.2L952.8 364.6L946.9 367.1L941.0 369.8L935.1 372.6L929.3 375.5L923.6 378.4L917.9 381.4L912.4 384.4L907.0 387.4L901.8 390.3L896.7 393.2L891.7 396.2L886.6 399.1L881.5 402.1L876.4 405.3L871.2 408.6L866.0 412.0L861.0 415.5L856.2 418.9L851.5 422.4L847.0 425.9L842.5 429.3L837.9 432.8L833.3 436.3L828.6 439.9L823.8 443.5L818.9 447.1L813.9 450.7L808.9 454.4L803.8 458.1L798.7 461.9L793.6 465.6L788.4 469.3L783.3 473.0L778.2 476.7L773.1 480.4L767.9 484.0L762.7 487.7L757.6 491.4L752.5 495.0L747.4 498.6L742.3 502.2L737.2 505.8L732.0 509.5L726.6 513.2L721.3 517.0L716.0 520.9L711.0 524.6L706.3 528.1L701.8 531.4L697.5 534.5Z"/>
<path d="M1163.4 357.6L1150.4 360.1L1153.0 349.4ZM1277.4 391.3L1264.3 392.4L1268.1 382.1ZM737.8 506.6L731.3 517.8L725.0 508.8ZM794.5 466.5L788.1 477.9L781.6 469.0Z"/>
<path d="M1185.8 388.1L1189.7 390.1L1193.9 392.2L1198.3 394.4L1203.0 396.8L1208.1 399.3L1213.6 402.0L1219.4 404.7L1225.4 407.5L1231.6 410.4L1237.9 413.3L1244.1 416.3L1250.3 419.2L1256.4 422.1L1262.4 425.0L1268.3 427.8L1274.0 430.6L1279.7 433.5L1285.5 436.5L1291.2 439.5L1296.8 442.5L1302.4 445.5L1307.8 448.6L1313.0 451.5L1318.2 454.4L1323.3 457.3L1328.4 460.1L1333.5 462.8L1338.7 465.4L1343.9 468.1L1349.2 470.6L1354.6 473.1L1360.0 475.5L1365.4 477.9L1370.9 480.2L1376.4 482.6L1382.0 484.8L1387.7 487.1L1393.4 489.4L1399.3 491.7L1405.2 494.0L1411.2 496.3L1417.4 498.5L1423.6 500.8L1429.9 503.0L1436.2 505.2L1442.3 507.4L1448.3 509.4L1453.9 511.4L1459.1 513.2L1464.0 514.9L1468.5 516.5L1472.9 518.0L1473.0 517.8L1468.6 516.2L1464.1 514.5L1459.3 512.7L1454.1 510.8L1448.5 508.7L1442.7 506.5L1436.6 504.2L1430.4 501.8L1424.1 499.4L1418.0 497.0L1411.8 494.7L1405.8 492.3L1399.9 490.0L1394.1 487.7L1388.4 485.4L1382.7 483.1L1377.2 480.7L1371.7 478.4L1366.2 476.0L1360.9 473.6L1355.5 471.1L1350.2 468.6L1344.9 466.0L1339.7 463.4L1334.6 460.7L1329.5 458.0L1324.4 455.2L1319.4 452.4L1314.2 449.5L1308.9 446.5L1303.5 443.5L1297.9 440.4L1292.3 437.4L1286.5 434.4L1280.8 431.4L1275.1 428.6L1269.3 425.7L1263.4 422.9L1257.4 420.0L1251.3 417.1L1245.1 414.2L1238.8 411.3L1232.6 408.4L1226.4 405.5L1220.3 402.7L1214.5 400.0L1209.0 397.6L1203.7 395.3L1198.8 393.2L1194.3 391.3L1190.0 389.5L1185.9 387.8Z"/>
<path d="M1300.5 467.9L1303.7 471.2L1307.0 474.5L1310.5 478.1L1314.2 482.0L1318.3 486.2L1322.5 490.7L1327.0 495.5L1331.5 500.5L1336.0 505.5L1340.6 510.5L1344.9 515.4L1349.1 520.4L1353.1 525.3L1357.1 530.2L1360.9 535.2L1364.8 540.3L1368.7 545.5L1372.6 550.8L1376.5 556.1L1380.4 561.4L1384.3 566.7L1388.1 571.8L1391.8 576.9L1395.6 581.9L1399.4 586.9L1403.3 592.0L1407.3 597.1L1411.6 602.3L1416.1 607.4L1420.6 612.4L1425.0 617.2L1429.1 621.7L1433.0 625.8L1436.6 629.6L1439.9 633.1L1443.2 636.4L1443.8 635.9L1440.8 632.3L1437.8 628.5L1434.5 624.5L1431.0 620.1L1427.1 615.3L1423.1 610.3L1419.0 605.0L1414.9 599.6L1410.8 594.4L1406.7 589.3L1402.9 584.3L1399.1 579.3L1395.4 574.3L1391.6 569.2L1387.8 564.1L1384.0 558.8L1380.1 553.5L1376.2 548.2L1372.2 542.9L1368.3 537.7L1364.4 532.5L1360.5 527.5L1356.6 522.5L1352.5 517.6L1348.3 512.6L1343.8 507.5L1339.3 502.5L1334.5 497.6L1329.6 492.9L1324.8 488.4L1320.2 484.2L1315.9 480.3L1311.8 476.7L1308.1 473.4L1304.5 470.3L1301.1 467.3Z"/>
<path d="M1359.0 529.1L1347.1 523.1L1355.7 516.2Z"/>
<path d="M1413.0 580.9L1414.9 583.3L1416.9 585.7L1418.8 588.1L1420.8 590.5L1422.9 593.0L1425.0 595.5L1427.1 598.0L1429.3 600.5L1431.5 603.0L1433.8 605.5L1436.0 608.0L1438.3 610.5L1440.7 612.9L1443.0 615.2L1445.4 617.6L1447.8 619.9L1450.1 622.2L1452.4 624.5L1454.7 626.8L1457.0 629.1L1459.2 631.5L1461.4 633.8L1463.6 636.1L1465.8 638.4L1467.9 640.7L1470.0 643.0L1472.2 645.3L1474.3 647.5L1476.5 649.8L1478.6 652.0L1480.8 654.3L1482.9 656.5L1485.0 658.7L1487.2 660.9L1489.3 663.1L1491.4 665.3L1493.5 667.5L1495.6 669.6L1497.7 671.7L1498.3 671.3L1496.4 668.9L1494.5 666.6L1492.5 664.3L1490.6 662.0L1488.7 659.6L1486.7 657.2L1484.8 654.9L1482.8 652.5L1480.8 650.1L1478.8 647.7L1476.9 645.3L1474.9 642.9L1472.8 640.5L1470.7 638.1L1468.6 635.8L1466.4 633.5L1464.2 631.1L1462.0 628.8L1459.7 626.5L1457.4 624.2L1455.1 621.9L1452.8 619.5L1450.4 617.2L1448.1 614.9L1445.7 612.5L1443.3 610.2L1441.0 607.9L1438.5 605.5L1436.1 603.2L1433.7 600.9L1431.3 598.6L1429.0 596.2L1426.7 593.9L1424.4 591.6L1422.2 589.3L1420.0 587.1L1417.8 584.9L1415.7 582.7L1413.6 580.5Z"/>
<path d="M1467.4 637.3L1455.1 632.3L1463.1 624.7Z"/>
<path d="M753.5 1022.9L750.1 1018.6L746.6 1014.2L742.9 1009.5L739.2 1004.6L735.4 999.5L731.6 994.3L728.0 989.1L724.4 983.9L721.1 978.8L717.8 973.5L714.7 968.3L711.6 963.0L708.7 957.6L705.8 952.2L703.0 946.7L700.3 941.2L697.7 935.6L695.2 930.0L692.8 924.5L690.5 918.9L688.3 913.3L686.3 907.7L684.3 902.1L682.5 896.3L680.8 890.4L679.3 884.4L677.8 878.4L676.5 872.3L675.3 866.2L674.1 860.0L672.9 853.7L671.7 847.3L670.6 841.0L669.4 834.7L668.3 828.6L667.2 822.5L666.1 816.5L665.0 810.5L664.0 804.6L662.9 798.7L661.8 792.7L660.8 786.8L659.8 780.8L658.9 774.7L657.9 768.5L656.9 762.2L656.0 755.8L655.1 749.4L654.3 743.1L653.5 736.8L653.0 730.5L652.6 724.4L652.5 718.3L652.8 712.3L653.3 706.4L654.0 700.5L655.0 694.6L656.0 688.7L657.1 682.7L658.2 676.7L659.3 670.7L660.2 664.6L661.1 658.4L662.0 652.2L663.0 645.9L664.0 639.5L665.1 633.2L666.2 626.8L667.3 620.7L668.5 614.6L669.6 608.7L669.4 608.7L668.0 614.5L666.7 620.5L665.4 626.7L664.2 633.0L663.0 639.4L661.8 645.7L660.8 652.0L659.7 658.2L658.7 664.3L657.7 670.4L656.6 676.5L655.6 682.5L654.4 688.4L653.4 694.3L652.4 700.2L651.7 706.2L651.2 712.2L650.9 718.3L651.0 724.5L651.4 730.7L651.9 736.9L652.7 743.3L653.5 749.6L654.4 756.1L655.4 762.4L656.3 768.7L657.3 774.9L658.3 781.0L659.3 787.0L660.3 793.0L661.3 798.9L662.4 804.9L663.5 810.8L664.6 816.8L665.6 822.8L666.7 828.9L667.9 835.0L669.0 841.3L670.1 847.6L671.3 854.0L672.5 860.3L673.7 866.5L675.0 872.6L676.3 878.7L677.7 884.8L679.3 890.8L681.0 896.7L682.8 902.6L684.7 908.3L686.8 913.9L689.0 919.5L691.3 925.1L693.7 930.7L696.2 936.3L698.8 941.9L701.6 947.4L704.4 953.0L707.3 958.4L710.2 963.8L713.3 969.1L716.4 974.4L719.7 979.6L723.1 984.8L726.7 990.0L730.4 995.2L734.3 1000.3L738.3 1005.3L742.2 1010.1L746.0 1014.6L749.7 1018.9L753.3 1023.1Z"/>
<path d="M664.2 810.3L671.7 820.8L660.9 822.8Z"/>
<path d="M642.7 831.6L643.4 834.6L644.1 837.5L644.9 840.4L645.7 843.4L646.4 846.4L647.2 849.5L648.1 852.5L649.0 855.6L649.9 858.6L650.9 861.7L651.8 864.7L652.8 867.8L653.8 870.8L654.7 873.9L655.7 877.0L656.6 880.0L657.6 883.1L658.5 886.3L659.4 889.4L660.2 892.6L661.0 895.7L661.9 898.9L662.6 902.0L663.4 905.2L664.2 908.2L665.0 911.2L665.7 914.2L666.5 917.1L667.2 920.0L667.9 922.8L668.1 922.8L667.5 919.9L666.9 917.0L666.3 914.0L665.7 911.1L665.0 908.0L664.3 904.9L663.6 901.8L662.8 898.7L662.0 895.5L661.2 892.3L660.3 889.1L659.4 886.0L658.5 882.9L657.6 879.8L656.7 876.7L655.7 873.6L654.7 870.5L653.8 867.5L652.8 864.4L651.8 861.4L650.9 858.3L650.0 855.3L649.1 852.2L648.2 849.2L647.2 846.2L646.3 843.2L645.5 840.3L644.6 837.4L643.7 834.5L642.9 831.6Z"/>
<path d="M1193.3 249.7L1187.7 248.5L1181.9 247.3L1175.8 246.1L1169.5 244.8L1163.1 243.7L1156.5 242.7L1150.0 241.9L1143.5 241.1L1137.1 240.4L1130.7 239.8L1124.4 239.3L1118.1 238.8L1111.7 238.4L1105.4 238.1L1099.0 237.9L1092.7 237.8L1086.3 237.7L1080.0 237.7L1073.7 237.8L1067.3 237.9L1061.0 238.1L1054.6 238.4L1048.3 238.8L1042.0 239.2L1035.6 239.7L1029.3 240.3L1023.0 241.0L1016.7 241.7L1010.4 242.5L1004.2 243.4L997.9 244.3L991.6 245.4L985.4 246.5L979.2 247.6L972.9 248.9L966.7 250.2L960.6 251.6L954.4 253.0L948.2 254.6L942.1 256.2L936.0 257.8L929.9 259.6L923.8 261.4L917.8 263.3L911.8 265.2L905.8 267.3L899.8 269.3L893.8 271.5L887.9 273.7L882.0 276.0L876.1 278.4L870.3 280.8L864.5 283.4L858.7 285.9L852.9 288.6L847.2 291.3L841.5 294.0L835.9 296.9L830.2 299.8L824.6 302.7L819.1 305.8L813.6 308.9L808.1 312.0L802.6 315.3L797.2 318.6L791.9 321.9L786.5 325.3L781.3 328.8L776.0 332.3L770.8 335.9L765.6 339.6L760.5 343.3L755.4 347.1L750.4 350.9L745.4 354.8L740.5 358.7L735.6 362.7L730.8 366.8L726.0 370.9L721.2 375.1L716.5 379.3L711.9 383.6L707.3 387.9L702.7 392.3L698.2 396.8L693.8 401.2L689.4 405.8L685.0 410.4L680.8 415.0L676.5 419.7L672.4 424.5L668.2 429.2L664.2 434.1L660.2 439.0L656.2 443.9L652.3 448.9L648.5 453.9L644.7 459.0L641.0 464.1L637.4 469.2L633.8 474.4L630.2 479.6L626.8 484.9L623.3 490.2L620.0 495.6L616.7 501.0L613.5 506.4L610.3 511.8L607.2 517.4L604.2 522.9L601.2 528.5L598.3 534.2L595.4 540.0L592.5 545.9L589.8 551.8L587.2 557.8L584.8 563.7L582.5 569.4L580.3 574.9L578.2 580.3L578.6 580.4L581.1 575.2L583.6 569.9L586.2 564.4L589.0 558.6L591.8 552.8L594.6 546.9L597.5 541.0L600.3 535.3L603.3 529.6L606.2 524.0L609.2 518.5L612.3 513.0L615.5 507.5L618.7 502.1L622.0 496.8L625.3 491.4L628.7 486.2L632.1 480.9L635.7 475.7L639.2 470.5L642.9 465.4L646.6 460.3L650.3 455.3L654.1 450.3L658.0 445.3L662.0 440.4L665.9 435.6L670.0 430.7L674.1 426.0L678.2 421.2L682.5 416.6L686.7 412.0L691.0 407.4L695.4 402.9L699.8 398.4L704.3 394.0L708.8 389.6L713.4 385.3L718.1 381.0L722.7 376.8L727.5 372.6L732.2 368.5L737.1 364.5L741.9 360.5L746.9 356.6L751.8 352.7L756.8 348.9L761.9 345.1L767.0 341.4L772.1 337.8L777.3 334.2L782.5 330.7L787.8 327.2L793.1 323.8L798.4 320.5L803.8 317.2L809.2 314.0L814.7 310.9L820.2 307.8L825.7 304.8L831.3 301.8L836.9 298.9L842.5 296.1L848.2 293.3L853.9 290.6L859.6 288.0L865.4 285.5L871.2 283.0L877.0 280.5L882.8 278.2L888.7 275.9L894.6 273.7L900.6 271.5L906.5 269.4L912.5 267.4L918.5 265.5L924.5 263.6L930.6 261.8L936.6 260.0L942.7 258.4L948.8 256.8L954.9 255.3L961.1 253.8L967.2 252.4L973.4 251.1L979.6 249.9L985.8 248.7L992.0 247.6L998.2 246.6L1004.5 245.7L1010.7 244.8L1017.0 244.0L1023.3 243.3L1029.6 242.6L1035.8 242.0L1042.1 241.5L1048.4 241.1L1054.8 240.7L1061.1 240.4L1067.4 240.2L1073.7 240.1L1080.0 240.0L1086.3 240.0L1092.6 240.1L1099.0 240.2L1105.3 240.4L1111.6 240.7L1117.9 241.1L1124.2 241.6L1130.5 242.1L1136.9 242.7L1143.3 243.4L1149.7 244.1L1156.2 245.0L1162.7 245.9L1169.2 246.8L1175.5 247.6L1181.7 248.5L1187.5 249.3L1193.3 250.1Z"/>
<path d="M1048.2 239.9L1059.7 233.8L1060.3 244.8ZM876.4 279.5L885.4 270.0L889.4 280.3ZM649.3 454.7L652.1 442.0L660.8 448.7Z"/>
<path d="M912.0 295.0L906.6 296.6L901.1 298.4L895.3 300.2L889.4 302.1L883.4 304.2L877.3 306.3L871.3 308.5L865.3 310.8L859.5 313.2L853.8 315.6L848.0 318.1L842.4 320.6L836.7 323.2L831.1 325.9L825.6 328.7L820.0 331.5L814.5 334.4L809.0 337.3L803.6 340.4L798.2 343.4L792.8 346.6L787.5 349.8L782.2 353.1L776.9 356.5L771.7 359.9L766.5 363.4L761.3 366.9L756.2 370.5L751.1 374.2L746.1 377.9L741.1 381.7L736.2 385.6L731.2 389.5L726.4 393.5L721.6 397.5L716.8 401.6L712.1 405.8L707.4 410.0L702.8 414.2L698.2 418.6L693.7 423.0L689.2 427.4L684.8 431.9L680.4 436.4L676.1 441.1L671.8 445.7L667.6 450.4L663.5 455.2L659.3 460.0L655.3 464.9L651.3 469.9L647.3 474.9L643.3 480.1L639.4 485.4L635.6 490.8L631.8 496.2L628.2 501.5L624.8 506.6L621.5 511.6L618.3 516.4L618.5 516.6L621.9 511.8L625.3 507.0L628.9 501.9L632.6 496.7L636.5 491.5L640.5 486.2L644.4 480.9L648.4 475.8L652.4 470.8L656.4 465.8L660.4 460.9L664.5 456.1L668.7 451.4L672.9 446.7L677.1 442.0L681.4 437.4L685.8 432.9L690.2 428.4L694.7 424.0L699.2 419.6L703.7 415.3L708.4 411.0L713.0 406.8L717.7 402.7L722.5 398.6L727.3 394.5L732.1 390.6L737.0 386.7L742.0 382.8L746.9 379.0L751.9 375.3L757.0 371.7L762.1 368.1L767.3 364.5L772.4 361.0L777.6 357.6L782.9 354.3L788.2 351.0L793.5 347.8L798.9 344.7L804.3 341.6L809.7 338.6L815.2 335.6L820.7 332.7L826.2 329.9L831.8 327.2L837.3 324.5L843.0 321.9L848.6 319.3L854.3 316.9L860.0 314.5L865.9 312.1L871.8 309.8L877.7 307.5L883.7 305.2L889.7 303.0L895.6 301.0L901.3 299.0L906.7 297.1L912.0 295.2Z"/>
<path d="M756.4 371.2L762.9 360.0L769.2 369.0Z"/>
<path d="M875.4 323.4L870.2 325.8L865.0 328.4L859.6 331.1L854.0 333.9L848.3 336.9L842.6 340.0L837.0 343.2L831.5 346.4L826.1 349.6L820.8 352.9L815.5 356.3L810.3 359.7L805.2 363.2L800.1 366.7L795.0 370.4L789.9 374.1L784.8 377.9L779.7 381.8L774.7 385.9L769.8 390.0L765.0 394.0L760.5 398.0L756.1 401.8L751.9 405.6L752.0 405.7L756.4 402.2L760.9 398.5L765.6 394.7L770.5 390.8L775.5 386.9L780.5 382.9L785.6 378.9L790.7 375.1L795.7 371.4L800.8 367.8L805.9 364.2L811.0 360.8L816.2 357.4L821.5 354.0L826.8 350.7L832.2 347.5L837.6 344.3L843.2 341.1L848.9 338.0L854.5 334.9L860.0 331.9L865.3 329.0L870.5 326.3L875.5 323.6Z"/>
<path d="M837.3 343.7L844.8 333.2L850.2 342.8Z"/>
<path d="M866.2 397.2L863.4 398.8L860.6 400.4L857.8 402.0L855.1 403.6L852.3 405.3L849.6 406.9L846.8 408.6L844.1 410.4L841.4 412.1L838.7 413.8L836.0 415.6L833.4 417.3L833.4 417.5L836.2 415.8L838.9 414.2L841.6 412.5L844.4 410.8L847.1 409.2L849.9 407.5L852.6 405.8L855.4 404.1L858.1 402.4L860.8 400.7L863.5 399.0L866.2 397.4Z"/>
<path d="M1425.9 370.7L1421.4 367.0L1416.7 363.2L1411.9 359.2L1406.8 355.2L1401.5 351.1L1396.1 347.2L1390.6 343.3L1385.2 339.5L1379.8 335.9L1374.4 332.3L1368.9 328.9L1363.4 325.5L1357.9 322.1L1352.4 318.9L1346.8 315.7L1341.2 312.6L1335.5 309.5L1329.8 306.5L1324.1 303.6L1318.3 300.7L1312.5 298.0L1306.7 295.3L1300.8 292.6L1294.9 290.0L1289.0 287.5L1283.0 285.1L1277.1 282.8L1271.0 280.5L1265.0 278.3L1258.9 276.1L1252.9 274.0L1246.7 272.0L1240.6 270.1L1234.5 268.3L1228.3 266.5L1222.1 264.8L1215.9 263.2L1209.6 261.6L1203.4 260.1L1197.1 258.7L1190.8 257.4L1184.5 256.2L1178.2 255.0L1171.9 253.9L1165.5 252.9L1159.0 251.9L1152.5 251.0L1145.9 250.2L1139.2 249.5L1132.6 249.0L1126.1 248.5L1119.9 248.2L1113.9 247.8L1108.1 247.6L1108.0 247.9L1113.9 248.5L1119.8 249.1L1126.0 249.8L1132.5 250.5L1139.0 251.3L1145.7 252.0L1152.3 252.8L1158.8 253.7L1165.2 254.6L1171.6 255.7L1177.9 256.8L1184.2 257.9L1190.5 259.2L1196.7 260.5L1203.0 261.9L1209.2 263.4L1215.4 264.9L1221.6 266.5L1227.8 268.2L1234.0 270.0L1240.1 271.8L1246.2 273.8L1252.3 275.7L1258.4 277.8L1264.4 279.9L1270.4 282.2L1276.4 284.4L1282.4 286.8L1288.3 289.2L1294.2 291.7L1300.1 294.3L1305.9 296.9L1311.7 299.6L1317.5 302.4L1323.3 305.2L1329.0 308.1L1334.7 311.1L1340.3 314.1L1345.9 317.3L1351.5 320.4L1357.0 323.7L1362.5 327.0L1368.0 330.4L1373.4 333.8L1378.8 337.4L1384.2 341.0L1389.6 344.8L1395.0 348.6L1400.4 352.6L1405.8 356.4L1411.1 360.3L1416.1 364.0L1421.0 367.5L1425.7 371.0Z"/>
<path d="M1152.5 251.9L1164.9 248.1L1163.4 259.0Z"/>
<path d="M607.9 510.4L604.9 515.5L601.9 520.8L598.9 526.2L595.7 531.9L592.6 537.8L589.6 543.8L586.6 549.8L583.8 555.8L581.1 561.8L578.5 567.7L576.0 573.7L573.5 579.6L571.1 585.6L568.8 591.7L566.6 597.7L564.4 603.8L562.3 609.9L560.3 616.0L558.4 622.2L556.5 628.3L554.7 634.5L553.0 640.8L551.3 647.0L549.7 653.2L548.2 659.5L546.8 665.8L545.4 672.1L544.2 678.4L542.9 684.8L541.8 691.1L540.8 697.5L539.8 703.9L538.9 710.3L538.0 716.7L537.3 723.1L536.6 729.5L536.0 735.9L535.5 742.3L535.0 748.8L534.6 755.2L534.3 761.7L534.1 768.1L534.0 774.6L533.9 781.0L533.9 787.5L534.0 793.9L534.1 800.4L534.4 806.8L534.7 813.3L535.1 819.7L535.5 826.2L536.1 832.6L536.7 839.0L537.4 845.4L538.1 851.8L539.0 858.2L539.9 864.6L540.9 871.0L541.9 877.4L543.1 883.7L544.3 890.1L545.6 896.4L547.0 902.7L548.4 909.0L549.9 915.3L551.5 921.5L553.2 927.8L554.9 934.0L556.7 940.2L558.6 946.4L560.6 952.5L562.6 958.6L564.7 964.7L566.9 970.8L569.1 976.9L571.4 982.9L573.8 988.9L576.3 994.9L578.8 1000.8L581.4 1006.7L584.1 1012.6L586.8 1018.5L589.6 1024.3L592.5 1030.1L595.4 1035.8L598.5 1041.5L601.6 1047.3L604.8 1053.0L608.1 1058.7L611.5 1064.5L615.0 1070.2L618.7 1075.8L622.3 1081.2L625.8 1086.5L629.2 1091.4L632.6 1096.3L632.9 1096.1L629.8 1091.1L626.6 1085.9L623.4 1080.6L620.0 1075.0L616.6 1069.3L613.1 1063.6L609.7 1057.8L606.4 1052.1L603.2 1046.4L600.1 1040.7L597.0 1035.0L594.1 1029.3L591.2 1023.5L588.4 1017.7L585.7 1011.9L583.0 1006.0L580.5 1000.1L577.9 994.2L575.5 988.2L573.1 982.2L570.8 976.2L568.6 970.2L566.4 964.1L564.3 958.1L562.3 952.0L560.3 945.8L558.4 939.7L556.6 933.5L554.9 927.3L553.2 921.1L551.7 914.8L550.1 908.6L548.7 902.3L547.4 896.0L546.1 889.7L544.8 883.4L543.7 877.1L542.6 870.7L541.7 864.4L540.7 858.0L539.9 851.6L539.1 845.2L538.5 838.8L537.8 832.4L537.3 826.0L536.8 819.6L536.5 813.2L536.2 806.7L535.9 800.3L535.8 793.9L535.7 787.5L535.7 781.0L535.8 774.6L535.9 768.2L536.1 761.7L536.4 755.3L536.8 748.9L537.3 742.5L537.8 736.1L538.4 729.7L539.1 723.3L539.8 716.9L540.6 710.5L541.6 704.1L542.5 697.8L543.6 691.4L544.7 685.1L545.9 678.8L547.2 672.5L548.6 666.2L550.0 659.9L551.5 653.7L553.1 647.4L554.7 641.2L556.4 635.0L558.2 628.9L560.1 622.7L562.0 616.6L564.0 610.5L566.1 604.4L568.3 598.3L570.5 592.3L572.8 586.3L575.2 580.3L577.6 574.4L580.1 568.4L582.8 562.5L585.5 556.6L588.3 550.6L591.2 544.6L594.2 538.6L597.1 532.6L600.0 526.8L602.8 521.2L605.5 515.8L608.2 510.6Z"/>
<path d="M538.1 723.2L534.1 710.8L545.0 712.2Z"/>
<path d="M552.1 857.2L552.9 862.8L553.8 868.5L554.7 874.5L555.7 880.7L556.9 887.0L558.2 893.3L559.5 899.6L560.9 905.9L562.3 912.0L563.8 918.1L565.4 924.1L567.1 930.1L568.8 936.0L570.6 942.0L572.4 947.9L574.4 953.8L576.4 959.7L578.4 965.6L580.5 971.4L582.7 977.2L585.0 983.0L587.4 988.7L589.8 994.5L592.2 1000.2L594.8 1005.9L597.4 1011.5L600.1 1017.2L602.9 1022.8L605.7 1028.5L608.7 1034.2L611.8 1039.9L614.9 1045.5L618.1 1051.0L621.1 1056.2L624.1 1061.2L627.1 1066.0L627.2 1065.9L624.5 1061.0L621.7 1055.9L618.7 1050.6L615.8 1045.1L612.7 1039.4L609.6 1033.8L606.6 1028.1L603.7 1022.4L601.0 1016.7L598.3 1011.1L595.7 1005.4L593.1 999.8L590.7 994.1L588.3 988.4L585.9 982.6L583.7 976.8L581.5 971.0L579.4 965.2L577.3 959.4L575.3 953.5L573.4 947.6L571.5 941.7L569.7 935.8L568.0 929.8L566.4 923.8L564.8 917.8L563.3 911.8L561.8 905.6L560.5 899.4L559.1 893.1L557.9 886.8L556.7 880.5L555.5 874.4L554.4 868.4L553.3 862.7L552.3 857.2Z"/>
<path d="M563.9 970.8L565.8 976.0L567.8 981.4L569.8 986.9L572.1 992.7L574.4 998.7L576.9 1004.6L579.5 1010.4L582.2 1016.2L584.9 1021.9L587.6 1027.5L590.4 1033.0L593.2 1038.5L596.1 1043.9L599.0 1049.3L602.0 1054.7L605.1 1060.0L608.2 1065.3L611.4 1070.6L614.7 1075.8L618.0 1081.0L621.3 1086.1L624.8 1091.3L628.2 1096.3L631.8 1101.4L635.4 1106.4L639.0 1111.3L642.7 1116.2L646.5 1121.1L650.3 1125.9L654.1 1130.7L658.1 1135.5L662.0 1140.2L666.0 1144.8L670.1 1149.4L674.2 1154.0L678.4 1158.5L682.6 1163.0L686.9 1167.4L691.2 1171.8L695.6 1176.1L700.0 1180.4L704.5 1184.6L709.0 1188.8L713.6 1192.9L718.2 1197.0L722.8 1201.0L727.5 1204.9L732.3 1208.9L737.1 1212.7L741.9 1216.5L746.8 1220.3L751.7 1224.0L756.6 1227.6L761.6 1231.2L766.7 1234.8L771.7 1238.2L776.9 1241.7L782.0 1245.0L787.2 1248.3L792.4 1251.6L797.7 1254.8L803.0 1257.9L808.3 1261.0L813.7 1264.0L819.1 1266.9L824.5 1269.8L830.0 1272.6L835.5 1275.4L841.1 1278.1L846.8 1280.8L852.6 1283.5L858.4 1286.1L864.3 1288.6L870.3 1290.9L876.1 1293.2L881.6 1295.2L887.0 1297.2L892.2 1299.1L892.3 1298.7L887.2 1296.5L882.0 1294.3L876.6 1291.9L870.9 1289.4L865.1 1286.8L859.2 1284.2L853.4 1281.7L847.6 1279.0L842.0 1276.3L836.4 1273.6L830.9 1270.9L825.4 1268.0L820.0 1265.2L814.6 1262.2L809.3 1259.2L804.0 1256.2L798.7 1253.0L793.5 1249.9L788.3 1246.6L783.1 1243.3L778.0 1240.0L772.9 1236.6L767.8 1233.1L762.8 1229.6L757.8 1226.0L752.9 1222.4L748.0 1218.7L743.1 1215.0L738.3 1211.2L733.6 1207.3L728.8 1203.4L724.1 1199.5L719.5 1195.5L714.9 1191.4L710.4 1187.3L705.9 1183.1L701.4 1178.9L697.0 1174.7L692.7 1170.3L688.3 1166.0L684.1 1161.6L679.9 1157.1L675.7 1152.6L671.6 1148.1L667.5 1143.5L663.5 1138.9L659.6 1134.2L655.7 1129.4L651.8 1124.7L648.0 1119.9L644.3 1115.0L640.6 1110.1L637.0 1105.2L633.4 1100.2L629.9 1095.2L626.4 1090.1L623.0 1085.0L619.7 1079.9L616.4 1074.7L613.1 1069.5L610.0 1064.3L606.8 1059.0L603.8 1053.7L600.8 1048.4L597.8 1043.0L595.0 1037.6L592.1 1032.1L589.4 1026.6L586.7 1021.0L584.0 1015.4L581.3 1009.6L578.8 1003.8L576.2 997.9L573.6 992.1L571.1 986.4L568.7 981.0L566.5 975.8L564.3 970.7Z"/>
<path d="M696.5 1175.6L684.3 1171.2L692.1 1163.4Z"/>
<path d="M669.3 1103.8L672.9 1108.5L676.6 1113.3L680.4 1118.3L684.4 1123.4L688.6 1128.7L692.9 1133.9L697.2 1138.9L701.6 1143.9L706.0 1148.8L710.5 1153.5L715.0 1158.2L719.5 1162.8L724.1 1167.4L728.8 1171.9L733.5 1176.4L738.3 1180.8L743.1 1185.1L748.0 1189.4L752.9 1193.6L757.9 1197.7L762.9 1201.8L767.9 1205.8L773.0 1209.7L778.0 1213.5L783.0 1217.1L788.0 1220.7L793.0 1224.2L798.0 1227.6L803.0 1231.0L808.0 1234.2L813.1 1237.5L818.2 1240.6L823.4 1243.7L828.6 1246.8L833.8 1249.8L839.1 1252.7L844.4 1255.6L849.7 1258.4L855.1 1261.1L860.5 1263.8L865.9 1266.4L871.4 1269.0L876.9 1271.5L882.4 1273.9L888.0 1276.3L893.5 1278.6L899.2 1280.9L904.8 1283.1L910.5 1285.2L916.2 1287.2L921.9 1289.2L927.6 1291.2L933.4 1293.0L939.2 1294.8L945.0 1296.6L950.8 1298.2L956.6 1299.8L962.5 1301.4L968.4 1302.9L974.3 1304.3L980.2 1305.6L986.2 1306.9L992.1 1308.1L998.1 1309.2L1004.1 1310.3L1010.1 1311.3L1016.2 1312.2L1022.4 1313.1L1028.6 1313.8L1034.9 1314.5L1041.3 1315.1L1047.6 1315.6L1053.7 1316.0L1059.6 1316.4L1065.2 1316.7L1070.7 1317.1L1070.7 1316.8L1065.2 1316.3L1059.6 1315.7L1053.8 1315.2L1047.7 1314.6L1041.4 1313.9L1035.1 1313.1L1028.8 1312.4L1022.6 1311.6L1016.4 1310.7L1010.4 1309.8L1004.4 1308.8L998.4 1307.7L992.4 1306.6L986.5 1305.4L980.6 1304.1L974.6 1302.8L968.8 1301.4L962.9 1299.9L957.0 1298.4L951.2 1296.8L945.4 1295.1L939.6 1293.4L933.8 1291.6L928.1 1289.8L922.4 1287.8L916.7 1285.8L911.0 1283.8L905.3 1281.7L899.7 1279.5L894.1 1277.2L888.5 1274.9L883.0 1272.6L877.5 1270.1L872.0 1267.6L866.6 1265.1L861.1 1262.4L855.8 1259.8L850.4 1257.0L845.1 1254.2L839.8 1251.4L834.6 1248.5L829.3 1245.5L824.2 1242.4L819.0 1239.3L813.9 1236.2L808.8 1233.0L803.8 1229.7L798.8 1226.4L793.8 1223.0L788.8 1219.5L783.9 1215.9L778.9 1212.2L773.9 1208.5L768.8 1204.6L763.8 1200.6L758.8 1196.6L753.9 1192.4L749.0 1188.2L744.1 1184.0L739.3 1179.6L734.5 1175.3L729.8 1170.8L725.2 1166.3L720.6 1161.8L716.1 1157.2L711.6 1152.5L707.1 1147.8L702.7 1142.9L698.3 1138.0L694.0 1132.9L689.6 1127.8L685.3 1122.8L681.1 1117.8L677.1 1112.9L673.3 1108.2L669.6 1103.7Z"/>
<path d="M773.5 1209.2L760.8 1206.3L767.6 1197.6ZM986.7 1306.2L974.1 1309.1L976.4 1298.4Z"/>
<path d="M1080.0 1307.1L1082.8 1307.1L1085.6 1307.1L1088.4 1307.1L1091.3 1307.1L1094.2 1307.0L1097.2 1307.0L1100.3 1306.9L1103.4 1306.8L1106.5 1306.6L1109.7 1306.5L1112.9 1306.3L1116.0 1306.1L1119.2 1305.9L1122.3 1305.6L1125.5 1305.4L1128.6 1305.1L1131.7 1304.8L1134.8 1304.5L1137.9 1304.1L1141.0 1303.8L1144.1 1303.4L1147.2 1303.0L1150.4 1302.6L1153.5 1302.1L1156.7 1301.7L1159.8 1301.2L1162.9 1300.7L1166.0 1300.2L1169.1 1299.7L1172.1 1299.1L1175.0 1298.5L1177.9 1298.0L1180.7 1297.4L1183.5 1296.8L1186.3 1296.2L1189.0 1295.7L1188.9 1295.4L1186.2 1295.9L1183.4 1296.3L1180.6 1296.7L1177.8 1297.2L1174.9 1297.6L1171.9 1298.0L1168.9 1298.5L1165.8 1299.0L1162.7 1299.5L1159.6 1300.0L1156.5 1300.5L1153.3 1301.0L1150.2 1301.4L1147.1 1301.8L1144.0 1302.2L1140.9 1302.6L1137.8 1303.0L1134.7 1303.3L1131.6 1303.6L1128.5 1303.9L1125.4 1304.2L1122.2 1304.4L1119.1 1304.7L1115.9 1304.9L1112.8 1305.1L1109.6 1305.3L1106.5 1305.4L1103.3 1305.6L1100.2 1305.7L1097.2 1305.9L1094.2 1306.1L1091.3 1306.2L1088.4 1306.4L1085.6 1306.6L1082.8 1306.7L1080.0 1306.9Z"/>
<path d="M1162.9 1300.1L1152.2 1307.3L1150.6 1296.4Z"/>
<path d="M1127.9 1330.1L1133.7 1329.6L1139.6 1329.1L1145.8 1328.5L1152.3 1327.8L1158.8 1327.1L1165.4 1326.1L1172.0 1325.0L1178.4 1323.9L1184.8 1322.7L1191.1 1321.4L1197.4 1320.1L1203.7 1318.7L1209.9 1317.2L1216.1 1315.6L1222.3 1314.0L1228.5 1312.3L1234.6 1310.5L1240.7 1308.7L1246.8 1306.8L1252.9 1304.8L1259.0 1302.7L1265.0 1300.6L1271.0 1298.4L1277.0 1296.2L1282.9 1293.8L1288.9 1291.4L1294.8 1288.9L1300.6 1286.4L1306.5 1283.8L1312.3 1281.1L1318.1 1278.4L1323.8 1275.6L1329.5 1272.7L1335.2 1269.7L1340.8 1266.7L1346.4 1263.7L1352.0 1260.5L1357.5 1257.3L1363.0 1254.0L1368.5 1250.7L1373.9 1247.3L1379.3 1243.9L1384.6 1240.3L1389.9 1236.8L1395.2 1233.1L1400.4 1229.4L1405.6 1225.6L1410.7 1221.8L1415.8 1217.9L1420.8 1214.0L1425.8 1210.0L1430.7 1205.9L1435.6 1201.8L1440.5 1197.7L1445.2 1193.4L1450.0 1189.1L1454.7 1184.8L1459.3 1180.4L1463.9 1176.0L1468.5 1171.5L1472.9 1166.9L1477.4 1162.3L1481.8 1157.7L1486.1 1152.9L1490.4 1148.2L1494.6 1143.4L1498.7 1138.5L1502.8 1133.6L1506.9 1128.7L1510.9 1123.7L1514.8 1118.6L1518.7 1113.6L1522.5 1108.4L1526.2 1103.3L1529.9 1098.0L1533.5 1092.8L1537.1 1087.5L1540.6 1082.1L1544.1 1076.7L1547.4 1071.3L1550.8 1065.9L1554.0 1060.4L1557.2 1054.8L1560.3 1049.2L1563.4 1043.6L1566.4 1038.0L1569.3 1032.3L1572.2 1026.6L1574.9 1020.8L1577.7 1015.1L1580.3 1009.3L1582.9 1003.4L1585.4 997.5L1587.9 991.6L1590.3 985.7L1592.6 979.8L1594.8 973.8L1597.0 967.8L1599.1 961.8L1601.2 955.7L1603.1 949.6L1605.0 943.5L1606.9 937.4L1608.6 931.3L1610.3 925.1L1611.9 918.9L1613.4 912.7L1614.9 906.5L1616.3 900.2L1617.6 894.0L1618.9 887.7L1620.0 881.3L1621.2 874.8L1622.2 868.3L1623.2 861.7L1623.9 855.1L1624.6 848.7L1625.1 842.5L1625.7 836.6L1626.1 830.8L1625.7 830.7L1624.8 836.5L1624.0 842.4L1623.0 848.5L1622.0 854.9L1621.0 861.4L1620.0 868.0L1619.0 874.5L1617.9 880.9L1616.7 887.2L1615.5 893.5L1614.1 899.8L1612.8 906.0L1611.3 912.2L1609.8 918.4L1608.2 924.5L1606.5 930.7L1604.7 936.8L1602.9 942.9L1601.0 949.0L1599.1 955.0L1597.0 961.0L1595.0 967.0L1592.8 973.0L1590.5 979.0L1588.2 984.9L1585.9 990.8L1583.4 996.7L1580.9 1002.5L1578.3 1008.4L1575.7 1014.1L1573.0 1019.9L1570.2 1025.6L1567.3 1031.3L1564.4 1037.0L1561.4 1042.6L1558.4 1048.2L1555.3 1053.7L1552.1 1059.2L1548.9 1064.7L1545.6 1070.2L1542.2 1075.6L1538.8 1080.9L1535.3 1086.3L1531.7 1091.5L1528.1 1096.8L1524.4 1102.0L1520.7 1107.1L1516.9 1112.2L1513.1 1117.3L1509.1 1122.3L1505.2 1127.3L1501.1 1132.2L1497.1 1137.1L1492.9 1141.9L1488.7 1146.7L1484.5 1151.5L1480.2 1156.2L1475.8 1160.8L1471.4 1165.4L1466.9 1169.9L1462.4 1174.4L1457.8 1178.8L1453.2 1183.2L1448.5 1187.5L1443.8 1191.8L1439.0 1196.0L1434.2 1200.1L1429.3 1204.2L1424.4 1208.3L1419.4 1212.3L1414.4 1216.2L1409.4 1220.1L1404.2 1223.9L1399.1 1227.6L1393.9 1231.3L1388.7 1234.9L1383.4 1238.5L1378.1 1242.0L1372.7 1245.5L1367.3 1248.8L1361.9 1252.2L1356.4 1255.4L1350.9 1258.6L1345.4 1261.7L1339.8 1264.8L1334.2 1267.8L1328.5 1270.7L1322.8 1273.6L1317.1 1276.4L1311.3 1279.1L1305.6 1281.8L1299.7 1284.4L1293.9 1286.9L1288.0 1289.4L1282.1 1291.8L1276.2 1294.1L1270.2 1296.4L1264.3 1298.5L1258.2 1300.7L1252.2 1302.7L1246.2 1304.7L1240.1 1306.6L1234.0 1308.4L1227.9 1310.2L1221.7 1311.9L1215.6 1313.5L1209.4 1315.1L1203.2 1316.5L1196.9 1317.9L1190.7 1319.3L1184.4 1320.5L1178.0 1321.7L1171.6 1322.9L1165.1 1323.9L1158.5 1324.9L1152.0 1325.9L1145.6 1327.0L1139.5 1327.9L1133.6 1328.8L1127.8 1329.7Z"/>
<path d="M1282.7 1292.8L1273.6 1302.2L1269.6 1291.9ZM1472.3 1166.1L1467.8 1178.3L1460.0 1170.6ZM1593.9 973.3L1594.8 986.3L1584.5 982.4Z"/>
<path d="M1264.8 1290.6L1270.1 1288.6L1275.7 1286.6L1281.4 1284.4L1287.3 1282.2L1293.4 1279.8L1299.4 1277.2L1305.3 1274.5L1311.2 1271.8L1317.0 1269.1L1322.7 1266.3L1328.3 1263.4L1333.9 1260.5L1339.4 1257.5L1344.9 1254.5L1350.4 1251.4L1355.9 1248.2L1361.3 1245.0L1366.6 1241.7L1371.9 1238.3L1377.2 1234.9L1382.5 1231.4L1387.7 1227.9L1392.8 1224.3L1398.0 1220.6L1403.0 1216.9L1408.1 1213.1L1413.1 1209.3L1418.0 1205.4L1422.9 1201.4L1427.8 1197.4L1432.6 1193.4L1437.3 1189.2L1442.0 1185.1L1446.7 1180.8L1451.3 1176.6L1455.9 1172.2L1460.4 1167.8L1464.8 1163.4L1469.2 1158.9L1473.6 1154.3L1477.9 1149.7L1482.1 1145.1L1486.3 1140.4L1490.5 1135.7L1494.6 1130.9L1498.6 1126.0L1502.6 1121.1L1506.5 1116.2L1510.3 1111.2L1514.1 1106.2L1517.9 1101.1L1521.6 1096.0L1525.2 1090.9L1528.7 1085.7L1532.2 1080.4L1535.7 1075.2L1539.1 1069.8L1542.4 1064.5L1545.6 1059.1L1548.8 1053.7L1551.9 1048.2L1555.0 1042.7L1558.0 1037.2L1560.9 1031.6L1563.8 1026.0L1566.6 1020.3L1569.3 1014.7L1572.0 1009.0L1574.6 1003.2L1577.2 997.5L1579.6 991.7L1582.0 985.8L1584.4 980.0L1586.6 974.1L1588.8 968.2L1591.0 962.3L1593.0 956.3L1595.0 950.3L1597.0 944.3L1598.8 938.3L1600.6 932.2L1602.3 926.0L1604.0 919.8L1605.6 913.5L1607.1 907.1L1608.5 900.7L1609.7 894.5L1610.9 888.4L1611.9 882.6L1612.9 877.0L1612.6 876.9L1611.3 882.5L1609.9 888.2L1608.5 894.2L1607.0 900.4L1605.4 906.7L1603.9 913.0L1602.3 919.3L1600.6 925.6L1598.9 931.7L1597.1 937.8L1595.2 943.8L1593.3 949.8L1591.3 955.7L1589.3 961.7L1587.2 967.6L1585.0 973.5L1582.7 979.3L1580.4 985.2L1578.0 991.0L1575.5 996.7L1573.0 1002.5L1570.4 1008.2L1567.7 1013.9L1565.0 1019.5L1562.2 1025.2L1559.3 1030.8L1556.4 1036.3L1553.4 1041.8L1550.4 1047.3L1547.3 1052.8L1544.1 1058.2L1540.8 1063.6L1537.5 1068.9L1534.2 1074.2L1530.7 1079.4L1527.2 1084.7L1523.7 1089.8L1520.1 1095.0L1516.4 1100.1L1512.7 1105.1L1508.9 1110.1L1505.1 1115.1L1501.2 1120.0L1497.2 1124.9L1493.2 1129.7L1489.1 1134.5L1485.0 1139.2L1480.8 1143.9L1476.6 1148.5L1472.3 1153.1L1467.9 1157.6L1463.6 1162.1L1459.1 1166.5L1454.6 1170.9L1450.1 1175.2L1445.5 1179.5L1440.8 1183.7L1436.1 1187.9L1431.4 1192.0L1426.6 1196.1L1421.8 1200.0L1416.9 1204.0L1411.9 1207.9L1407.0 1211.7L1402.0 1215.5L1396.9 1219.2L1391.8 1222.8L1386.7 1226.4L1381.5 1229.9L1376.2 1233.4L1371.0 1236.8L1365.7 1240.2L1360.3 1243.4L1354.9 1246.7L1349.5 1249.8L1344.1 1252.9L1338.6 1255.9L1333.0 1258.9L1327.5 1261.8L1321.9 1264.7L1316.2 1267.4L1310.4 1270.2L1304.6 1272.9L1298.7 1275.5L1292.7 1278.1L1286.7 1280.7L1280.9 1283.3L1275.3 1285.7L1269.9 1288.0L1264.6 1290.3Z"/>
<path d="M1441.6 1184.3L1436.4 1196.2L1429.1 1187.9ZM1560.3 1031.0L1559.6 1044.0L1549.9 1038.8Z"/>
<path d="M1345.6 1243.0L1350.6 1240.1L1355.7 1237.1L1361.0 1234.0L1366.4 1230.6L1372.0 1227.2L1377.5 1223.6L1382.9 1219.9L1388.3 1216.2L1393.5 1212.5L1398.7 1208.8L1403.8 1204.9L1408.8 1201.1L1413.8 1197.2L1418.7 1193.2L1423.6 1189.2L1428.4 1185.1L1433.2 1180.9L1437.9 1176.7L1442.6 1172.4L1447.2 1168.1L1451.8 1163.7L1456.3 1159.3L1460.8 1154.8L1465.2 1150.3L1469.6 1145.7L1473.9 1141.1L1478.1 1136.4L1482.3 1131.6L1486.5 1126.8L1490.6 1122.0L1494.6 1117.1L1498.6 1112.2L1502.5 1107.2L1506.3 1102.1L1510.1 1097.1L1513.8 1091.9L1517.5 1086.8L1521.1 1081.6L1524.7 1076.3L1528.2 1071.0L1531.6 1065.7L1534.9 1060.3L1538.2 1054.9L1541.5 1049.4L1544.6 1043.9L1547.7 1038.4L1550.8 1032.8L1553.7 1027.2L1556.6 1021.6L1559.5 1015.9L1562.2 1010.2L1564.9 1004.5L1567.5 998.7L1570.1 992.9L1572.6 987.0L1575.0 981.1L1577.4 975.2L1579.7 969.2L1581.9 963.1L1584.1 956.9L1586.3 950.6L1588.2 944.4L1590.1 938.2L1591.8 932.3L1593.4 926.6L1595.0 921.0L1594.7 920.9L1592.9 926.4L1591.0 932.0L1589.0 937.9L1587.0 944.0L1584.8 950.1L1582.7 956.4L1580.5 962.6L1578.3 968.7L1576.0 974.7L1573.6 980.6L1571.2 986.4L1568.7 992.3L1566.2 998.1L1563.6 1003.8L1560.9 1009.6L1558.1 1015.2L1555.3 1020.9L1552.4 1026.5L1549.4 1032.1L1546.4 1037.7L1543.3 1043.2L1540.2 1048.7L1536.9 1054.1L1533.7 1059.5L1530.3 1064.9L1526.9 1070.2L1523.4 1075.5L1519.9 1080.7L1516.3 1085.9L1512.6 1091.1L1508.9 1096.2L1505.1 1101.2L1501.3 1106.3L1497.4 1111.2L1493.4 1116.2L1489.4 1121.0L1485.3 1125.9L1481.2 1130.6L1477.0 1135.4L1472.8 1140.0L1468.5 1144.7L1464.1 1149.2L1459.7 1153.8L1455.3 1158.2L1450.7 1162.7L1446.2 1167.0L1441.6 1171.3L1436.9 1175.6L1432.2 1179.8L1427.4 1183.9L1422.6 1188.0L1417.7 1192.0L1412.8 1196.0L1407.9 1199.9L1402.9 1203.8L1397.8 1207.6L1392.6 1211.3L1387.4 1215.0L1382.1 1218.7L1376.7 1222.3L1371.2 1225.9L1365.7 1229.6L1360.4 1233.1L1355.2 1236.4L1350.3 1239.6L1345.4 1242.7Z"/>
<path d="M1505.8 1101.6L1503.0 1114.3L1494.3 1107.5Z"/>
<path d="M1340.1 1233.4L1344.9 1230.7L1349.8 1227.9L1354.9 1224.9L1360.1 1221.8L1365.5 1218.5L1370.8 1215.1L1376.0 1211.6L1381.2 1208.2L1386.2 1204.6L1391.2 1201.1L1396.1 1197.5L1401.0 1193.9L1405.8 1190.2L1410.6 1186.4L1415.3 1182.6L1420.0 1178.7L1424.6 1174.8L1429.2 1170.8L1433.7 1166.8L1438.2 1162.7L1442.7 1158.6L1447.1 1154.4L1451.5 1150.2L1455.8 1145.9L1460.0 1141.5L1464.2 1137.1L1468.4 1132.7L1472.5 1128.2L1476.5 1123.7L1480.5 1119.1L1484.5 1114.5L1488.4 1109.8L1492.2 1105.1L1496.0 1100.3L1499.7 1095.5L1503.4 1090.6L1507.0 1085.7L1510.6 1080.8L1514.1 1075.7L1517.6 1070.6L1521.1 1065.4L1524.5 1060.1L1527.9 1054.7L1531.2 1049.4L1534.3 1044.0L1537.2 1038.9L1540.0 1033.9L1542.8 1029.1L1542.6 1028.9L1539.6 1033.7L1536.6 1038.5L1533.5 1043.6L1530.2 1048.8L1526.9 1054.1L1523.5 1059.5L1520.1 1064.8L1516.6 1070.0L1513.2 1075.1L1509.6 1080.1L1506.1 1085.0L1502.5 1089.9L1498.8 1094.8L1495.1 1099.6L1491.3 1104.3L1487.5 1109.0L1483.6 1113.7L1479.6 1118.3L1475.6 1122.9L1471.6 1127.4L1467.5 1131.9L1463.4 1136.3L1459.2 1140.7L1454.9 1145.0L1450.6 1149.3L1446.3 1153.5L1441.9 1157.7L1437.4 1161.8L1432.9 1165.9L1428.4 1169.9L1423.8 1173.9L1419.2 1177.8L1414.5 1181.7L1409.8 1185.5L1405.1 1189.2L1400.3 1192.9L1395.4 1196.5L1390.5 1200.1L1385.5 1203.7L1380.5 1207.2L1375.4 1210.6L1370.1 1214.1L1364.8 1217.5L1359.5 1220.8L1354.4 1224.1L1349.4 1227.3L1344.6 1230.3L1339.9 1233.2Z"/>
<path d="M1334.1 1223.0L1339.0 1220.3L1344.0 1217.4L1349.2 1214.4L1354.5 1211.2L1360.0 1207.9L1365.4 1204.4L1370.7 1200.9L1376.0 1197.4L1381.1 1193.8L1386.2 1190.2L1391.2 1186.5L1396.1 1182.8L1401.0 1179.0L1405.9 1175.2L1410.7 1171.3L1415.4 1167.4L1420.1 1163.4L1424.8 1159.3L1429.4 1155.2L1434.0 1151.0L1438.5 1146.7L1442.9 1142.4L1447.4 1138.1L1451.7 1133.7L1456.0 1129.2L1460.3 1124.7L1464.5 1120.1L1468.7 1115.4L1472.9 1110.6L1477.0 1105.7L1481.2 1100.7L1485.2 1095.7L1489.0 1090.8L1492.6 1085.9L1496.1 1081.3L1499.5 1076.7L1499.3 1076.6L1495.7 1081.0L1492.1 1085.5L1488.3 1090.2L1484.3 1095.0L1480.2 1100.0L1476.1 1104.9L1472.0 1109.8L1467.8 1114.6L1463.6 1119.3L1459.4 1123.9L1455.2 1128.4L1450.9 1132.9L1446.5 1137.2L1442.1 1141.6L1437.7 1145.9L1433.2 1150.1L1428.6 1154.3L1424.0 1158.4L1419.4 1162.4L1414.7 1166.4L1409.9 1170.4L1405.1 1174.3L1400.3 1178.1L1395.4 1181.9L1390.5 1185.6L1385.5 1189.2L1380.4 1192.8L1375.3 1196.4L1370.1 1199.9L1364.7 1203.4L1359.3 1206.9L1353.9 1210.3L1348.7 1213.6L1343.6 1216.8L1338.7 1219.9L1333.9 1222.8Z"/>
<path d="M1341.8 1202.0L1346.8 1199.0L1351.9 1195.9L1357.1 1192.6L1362.4 1189.2L1367.8 1185.6L1373.2 1181.9L1378.5 1178.2L1383.7 1174.4L1388.8 1170.6L1393.8 1166.8L1398.7 1162.8L1403.6 1158.9L1408.5 1154.8L1413.2 1150.8L1418.0 1146.6L1422.7 1142.4L1427.3 1138.1L1431.9 1133.8L1436.5 1129.3L1441.0 1124.8L1445.5 1120.2L1450.0 1115.4L1454.4 1110.6L1458.7 1105.8L1462.9 1101.0L1466.8 1096.4L1470.6 1091.9L1472.5 1089.7L1472.4 1089.5L1470.4 1091.7L1466.4 1096.1L1462.3 1100.6L1458.1 1105.2L1453.7 1110.0L1449.3 1114.7L1444.8 1119.5L1440.3 1124.1L1435.8 1128.6L1431.2 1133.0L1426.6 1137.4L1422.0 1141.6L1417.3 1145.9L1412.6 1150.0L1407.8 1154.1L1403.0 1158.1L1398.1 1162.1L1393.2 1166.0L1388.1 1169.8L1383.1 1173.6L1377.9 1177.4L1372.6 1181.1L1367.3 1184.8L1361.9 1188.4L1356.7 1191.9L1351.5 1195.4L1346.6 1198.6L1341.7 1201.9Z"/>
<path d="M1626.9 802.1L1627.1 796.3L1627.3 790.3L1627.5 784.1L1627.6 777.7L1627.6 771.1L1627.5 764.5L1627.2 757.9L1626.9 751.3L1626.5 744.9L1626.1 738.5L1625.5 732.1L1624.9 725.7L1624.2 719.4L1623.5 713.1L1622.6 706.7L1621.7 700.4L1620.7 694.1L1619.7 687.8L1618.5 681.6L1617.3 675.3L1616.1 669.1L1614.7 662.8L1613.3 656.6L1611.8 650.4L1610.2 644.2L1608.6 638.1L1606.9 631.9L1605.1 625.8L1603.2 619.7L1601.3 613.6L1599.3 607.6L1597.3 601.5L1595.1 595.5L1592.9 589.5L1590.7 583.6L1588.3 577.6L1585.9 571.7L1583.4 565.8L1580.9 560.0L1578.3 554.2L1575.6 548.4L1572.8 542.6L1570.0 536.9L1567.1 531.2L1564.2 525.6L1561.1 519.9L1558.1 514.4L1554.9 508.8L1551.7 503.3L1548.4 497.8L1545.1 492.4L1541.7 487.0L1538.2 481.6L1534.7 476.3L1531.1 471.0L1527.5 465.8L1523.7 460.6L1520.0 455.5L1516.1 450.3L1512.3 445.3L1508.3 440.3L1504.3 435.3L1500.2 430.4L1496.1 425.5L1491.9 420.7L1487.7 415.9L1483.4 411.2L1479.0 406.5L1474.6 401.8L1470.1 397.2L1465.4 392.6L1460.7 387.9L1455.9 383.4L1451.0 379.0L1446.1 374.7L1441.4 370.7L1436.8 366.8L1432.4 363.1L1432.1 363.3L1436.3 367.4L1440.7 371.5L1445.2 375.8L1449.8 380.2L1454.5 384.8L1459.3 389.4L1464.0 394.0L1468.7 398.6L1473.2 403.2L1477.6 407.9L1481.9 412.5L1486.2 417.2L1490.4 422.0L1494.6 426.8L1498.7 431.7L1502.7 436.6L1506.7 441.5L1510.7 446.5L1514.6 451.6L1518.4 456.6L1522.1 461.8L1525.8 466.9L1529.5 472.2L1533.0 477.4L1536.5 482.7L1540.0 488.1L1543.4 493.4L1546.7 498.9L1550.0 504.3L1553.2 509.8L1556.3 515.3L1559.4 520.9L1562.4 526.5L1565.3 532.1L1568.2 537.8L1571.0 543.5L1573.8 549.2L1576.4 555.0L1579.0 560.8L1581.6 566.6L1584.1 572.5L1586.5 578.4L1588.8 584.3L1591.1 590.2L1593.3 596.2L1595.4 602.2L1597.4 608.2L1599.4 614.2L1601.3 620.3L1603.2 626.4L1605.0 632.5L1606.7 638.6L1608.3 644.7L1609.9 650.9L1611.3 657.1L1612.8 663.3L1614.1 669.5L1615.4 675.7L1616.6 681.9L1617.7 688.2L1618.8 694.5L1619.7 700.7L1620.6 707.0L1621.5 713.3L1622.2 719.6L1622.9 725.9L1623.5 732.3L1624.1 738.6L1624.5 745.0L1624.9 751.4L1625.2 757.9L1625.5 764.5L1625.6 771.1L1625.8 777.7L1626.0 784.1L1626.2 790.3L1626.3 796.3L1626.5 802.1Z"/>
<path d="M1610.8 650.5L1618.9 660.7L1608.2 663.3ZM1526.6 466.3L1537.8 472.8L1528.8 479.1Z"/>
<path d="M1621.8 764.1L1621.6 758.3L1621.3 752.4L1621.0 746.3L1620.6 739.9L1620.0 733.4L1619.4 726.9L1618.7 720.4L1617.9 714.0L1617.0 707.6L1616.1 701.3L1615.1 695.1L1614.0 688.8L1612.9 682.6L1611.7 676.4L1610.4 670.3L1609.0 664.1L1607.6 658.0L1606.1 651.8L1604.5 645.7L1602.8 639.6L1601.1 633.6L1599.3 627.5L1597.5 621.5L1595.5 615.5L1593.5 609.5L1591.5 603.6L1589.3 597.6L1587.1 591.7L1584.9 585.8L1582.5 580.0L1580.1 574.1L1577.6 568.3L1575.1 562.6L1572.5 556.8L1569.8 551.1L1567.0 545.5L1564.2 539.8L1561.3 534.2L1558.4 528.6L1555.4 523.1L1552.3 517.6L1549.2 512.1L1546.0 506.7L1542.7 501.3L1539.4 495.9L1536.0 490.6L1532.6 485.3L1529.1 480.1L1525.5 474.9L1521.8 469.7L1518.1 464.6L1514.3 459.4L1510.4 454.3L1506.4 449.2L1502.3 444.0L1498.1 439.0L1494.0 434.2L1489.9 429.6L1486.0 425.2L1482.1 420.9L1481.9 421.1L1485.6 425.6L1489.3 430.1L1493.1 434.9L1497.1 439.9L1501.2 444.9L1505.3 450.0L1509.3 455.2L1513.2 460.3L1517.0 465.4L1520.7 470.5L1524.3 475.7L1527.9 480.9L1531.4 486.1L1534.8 491.4L1538.2 496.7L1541.5 502.0L1544.8 507.4L1548.0 512.8L1551.1 518.3L1554.2 523.8L1557.2 529.3L1560.1 534.9L1563.0 540.4L1565.8 546.1L1568.5 551.7L1571.2 557.4L1573.8 563.2L1576.3 568.9L1578.8 574.7L1581.2 580.5L1583.5 586.3L1585.8 592.2L1588.0 598.1L1590.2 604.0L1592.2 610.0L1594.2 615.9L1596.1 621.9L1598.0 627.9L1599.8 634.0L1601.5 640.0L1603.1 646.1L1604.7 652.2L1606.2 658.3L1607.6 664.4L1609.0 670.6L1610.3 676.7L1611.5 682.9L1612.7 689.1L1613.7 695.3L1614.7 701.5L1615.7 707.8L1616.5 714.1L1617.3 720.5L1618.0 727.0L1618.7 733.6L1619.2 740.0L1619.9 746.4L1620.5 752.5L1621.0 758.4L1621.5 764.1Z"/>
<path d="M1080.0 233.9L1074.2 233.8L1068.2 233.9L1062.0 233.9L1055.5 234.1L1048.9 234.4L1042.2 234.8L1035.6 235.3L1029.1 235.8L1022.6 236.4L1016.2 237.1L1009.9 237.9L1003.5 238.8L997.2 239.7L990.9 240.7L984.6 241.8L978.3 242.9L972.0 244.1L965.7 245.4L959.5 246.8L953.3 248.2L947.0 249.8L940.9 251.3L934.7 253.0L928.5 254.7L922.4 256.5L916.3 258.4L910.2 260.3L904.1 262.3L898.1 264.4L892.0 266.6L886.0 268.8L880.1 271.1L874.1 273.4L868.2 275.9L862.3 278.4L856.5 280.9L850.6 283.6L844.8 286.3L839.1 289.1L833.4 291.9L827.7 294.8L822.0 297.8L816.4 300.8L810.8 303.9L805.2 307.1L799.7 310.3L794.2 313.6L788.8 316.9L783.4 320.4L778.0 323.8L772.7 327.4L767.4 331.0L762.2 334.7L757.0 338.4L751.8 342.2L746.7 346.0L741.7 349.9L736.6 353.9L731.7 357.9L726.7 362.0L721.9 366.1L717.0 370.3L712.3 374.6L707.5 378.9L702.9 383.3L698.2 387.7L693.7 392.1L689.1 396.7L684.7 401.2L680.3 405.9L675.9 410.5L671.6 415.3L667.3 420.0L663.1 424.9L659.0 429.7L654.9 434.7L650.9 439.6L646.9 444.7L643.0 449.7L639.2 454.9L635.4 460.0L631.6 465.3L627.8 470.7L624.1 476.2L620.4 481.8L616.9 487.3L613.5 492.8L610.4 498.2L607.3 503.4L604.4 508.4L604.7 508.6L607.9 503.7L611.2 498.7L614.6 493.5L618.2 488.2L621.8 482.6L625.4 477.1L629.1 471.6L632.9 466.3L636.6 461.0L640.4 455.8L644.3 450.7L648.2 445.6L652.1 440.6L656.2 435.7L660.2 430.8L664.4 425.9L668.5 421.1L672.8 416.3L677.1 411.6L681.4 407.0L685.8 402.3L690.3 397.8L694.8 393.3L699.3 388.8L704.0 384.4L708.6 380.1L713.3 375.8L718.1 371.5L722.9 367.4L727.8 363.2L732.7 359.2L737.6 355.2L742.6 351.2L747.7 347.3L752.8 343.5L757.9 339.7L763.1 336.0L768.3 332.3L773.6 328.7L778.9 325.2L784.2 321.7L789.6 318.3L795.0 314.9L800.5 311.7L806.0 308.4L811.6 305.3L817.1 302.2L822.7 299.2L828.4 296.2L834.1 293.3L839.8 290.5L845.5 287.7L851.3 285.0L857.1 282.4L863.0 279.8L868.8 277.4L874.7 274.9L880.7 272.6L886.6 270.3L892.6 268.1L898.6 265.9L904.6 263.9L910.7 261.9L916.7 259.9L922.8 258.1L929.0 256.3L935.1 254.5L941.3 252.9L947.4 251.3L953.6 249.8L959.8 248.4L966.1 247.0L972.3 245.7L978.6 244.5L984.8 243.4L991.1 242.3L997.4 241.3L1003.7 240.4L1010.1 239.5L1016.4 238.7L1022.8 238.0L1029.2 237.4L1035.8 236.9L1042.4 236.4L1049.0 236.0L1055.6 235.6L1062.0 235.2L1068.2 234.8L1074.2 234.5L1080.0 234.1Z"/>
<path d="M1419.3 348.7L1414.9 345.2L1410.3 341.7L1405.5 338.0L1400.5 334.2L1395.2 330.5L1389.8 326.7L1384.4 323.1L1379.0 319.5L1373.6 316.1L1368.3 312.8L1362.9 309.5L1357.5 306.3L1352.1 303.2L1346.6 300.1L1341.1 297.1L1335.6 294.2L1330.0 291.4L1324.5 288.6L1318.8 285.8L1313.2 283.1L1307.5 280.5L1301.8 278.0L1296.0 275.5L1290.3 273.1L1284.5 270.7L1278.7 268.4L1272.8 266.2L1266.9 264.1L1261.1 262.0L1255.1 260.0L1249.2 258.0L1243.2 256.1L1237.2 254.3L1231.2 252.6L1225.2 250.9L1219.2 249.3L1213.1 247.7L1207.0 246.3L1200.9 244.8L1194.8 243.5L1188.7 242.2L1182.6 241.0L1176.4 239.9L1170.3 238.9L1164.1 237.9L1157.9 237.0L1151.7 236.1L1145.5 235.3L1139.2 234.6L1132.9 234.0L1126.5 233.4L1120.0 232.9L1113.5 232.5L1107.0 232.2L1100.6 232.0L1094.4 231.9L1088.5 231.9L1082.8 231.8L1080.0 231.9L1080.0 232.1L1082.8 232.3L1088.5 232.7L1094.3 233.0L1100.5 233.4L1106.9 233.8L1113.4 234.1L1119.9 234.5L1126.4 235.0L1132.7 235.6L1139.0 236.2L1145.3 236.9L1151.5 237.7L1157.7 238.5L1163.8 239.5L1170.0 240.4L1176.1 241.5L1182.3 242.6L1188.4 243.8L1194.5 245.1L1200.6 246.4L1206.7 247.8L1212.7 249.3L1218.8 250.8L1224.8 252.4L1230.8 254.1L1236.8 255.8L1242.8 257.7L1248.7 259.5L1254.6 261.5L1260.5 263.5L1266.4 265.6L1272.3 267.7L1278.1 269.9L1283.9 272.2L1289.7 274.6L1295.4 277.0L1301.1 279.4L1306.8 282.0L1312.5 284.6L1318.1 287.3L1323.7 290.0L1329.3 292.8L1334.9 295.6L1340.4 298.6L1345.8 301.5L1351.3 304.6L1356.7 307.7L1362.1 310.9L1367.4 314.1L1372.8 317.5L1378.1 320.9L1383.5 324.4L1388.9 328.1L1394.3 331.8L1399.6 335.5L1404.8 339.0L1409.8 342.5L1414.5 345.7L1419.1 348.9Z"/>
<path d="M1016.3 302.4L1019.0 303.4L1021.7 304.4L1024.4 305.4L1027.1 306.4L1029.9 307.4L1032.8 308.4L1035.7 309.4L1038.7 310.3L1041.7 311.3L1044.7 312.2L1047.8 313.1L1050.8 313.9L1053.9 314.6L1057.1 315.4L1060.2 316.1L1063.3 316.7L1066.5 317.4L1069.6 318.0L1072.8 318.6L1076.0 319.1L1079.1 319.7L1082.3 320.3L1085.4 320.8L1088.6 321.3L1091.7 321.8L1094.8 322.4L1097.9 322.9L1097.9 322.5L1094.9 321.9L1091.8 321.3L1088.7 320.6L1085.6 320.0L1082.5 319.3L1079.3 318.7L1076.2 318.0L1073.0 317.3L1069.9 316.7L1066.8 315.9L1063.7 315.2L1060.6 314.5L1057.4 313.7L1054.4 313.0L1051.3 312.2L1048.2 311.4L1045.1 310.6L1042.1 309.8L1039.1 309.0L1036.1 308.1L1033.1 307.3L1030.3 306.4L1027.4 305.6L1024.6 304.7L1021.9 303.8L1019.2 303.0L1016.5 302.2Z"/>
<path d="M958.2 333.5L961.2 333.5L964.2 333.4L967.3 333.3L970.4 333.2L973.5 333.1L976.7 333.0L979.9 332.9L983.2 332.8L986.5 332.6L989.8 332.5L993.1 332.3L996.3 332.1L999.5 331.9L1002.6 331.7L1005.7 331.5L1008.7 331.4L1011.7 331.2L1014.6 331.0L1017.5 330.8L1020.3 330.6L1020.3 330.4L1017.4 330.4L1014.6 330.4L1011.7 330.4L1008.7 330.4L1005.7 330.4L1002.6 330.5L999.4 330.5L996.2 330.6L993.0 330.7L989.7 330.9L986.4 331.0L983.1 331.2L979.9 331.4L976.6 331.7L973.5 331.9L970.3 332.2L967.2 332.4L964.2 332.7L961.2 333.0L958.2 333.3Z"/>
<path d="M950.4 302.4L952.9 301.1L955.4 299.9L958.0 298.6L960.6 297.3L963.3 296.0L966.1 294.6L968.9 293.2L971.8 291.7L974.7 290.3L977.7 288.7L980.8 287.2L983.8 285.6L986.9 284.1L990.0 282.6L993.1 281.0L996.2 279.5L999.2 278.0L1002.3 276.5L1005.3 275.0L1008.2 273.5L1011.1 272.1L1014.0 270.7L1016.7 269.3L1019.4 267.9L1022.0 266.6L1024.6 265.4L1027.1 264.1L1029.5 262.9L1031.9 261.7L1031.9 261.5L1029.4 262.7L1026.9 263.8L1024.4 265.0L1021.8 266.2L1019.2 267.5L1016.5 268.7L1013.7 270.1L1010.8 271.4L1007.9 272.8L1004.9 274.3L1001.9 275.8L998.9 277.3L995.8 278.8L992.7 280.3L989.6 281.8L986.5 283.4L983.5 284.9L980.4 286.5L977.4 288.0L974.4 289.5L971.4 291.1L968.6 292.6L965.8 294.0L963.1 295.5L960.4 296.9L957.8 298.2L955.3 299.6L952.8 300.9L950.4 302.2Z"/>
<path d="M865.0 323.8L867.4 322.7L869.7 321.5L872.1 320.4L874.5 319.2L877.0 318.0L879.6 316.7L882.2 315.4L885.0 314.1L887.8 312.7L890.6 311.3L893.5 309.9L896.4 308.4L899.4 307.0L902.3 305.6L905.3 304.1L908.3 302.7L911.4 301.3L914.4 299.9L917.4 298.6L920.4 297.2L923.4 295.9L926.3 294.6L929.2 293.3L932.1 292.1L934.8 290.8L937.5 289.6L940.2 288.4L942.7 287.3L945.2 286.2L947.6 285.1L950.0 284.0L952.3 283.0L952.3 282.8L949.9 283.8L947.4 284.7L945.0 285.7L942.5 286.7L939.9 287.8L937.2 288.9L934.5 290.0L931.7 291.1L928.8 292.3L925.9 293.6L922.9 294.9L919.9 296.2L916.9 297.6L913.9 298.9L910.9 300.3L907.9 301.7L904.9 303.1L901.9 304.6L898.9 306.0L895.9 307.4L893.0 308.9L890.1 310.3L887.3 311.7L884.5 313.2L881.8 314.6L879.2 316.0L876.7 317.3L874.2 318.6L871.8 319.9L869.5 321.2L867.2 322.4L865.0 323.6Z"/>
<path d="M1123.1 265.4L1119.8 266.1L1116.6 266.9L1113.3 267.7L1110.1 268.5L1106.8 269.3L1103.6 270.1L1100.4 271.0L1097.3 271.9L1094.2 272.9L1091.2 273.8L1088.2 274.7L1085.2 275.6L1082.2 276.5L1082.6 277.7L1085.5 276.8L1088.5 275.8L1091.5 274.9L1094.6 274.0L1097.6 273.1L1100.8 272.2L1103.9 271.3L1107.1 270.3L1110.3 269.4L1113.5 268.4L1116.7 267.5L1119.9 266.5L1123.1 265.6Z"/>
<path d="M1079.2 278.1L1088.8 269.4L1092.0 279.9Z"/>
<path d="M1059.0 264.6L1061.7 264.1L1064.5 263.6L1067.3 263.2L1070.1 262.7L1073.1 262.2L1076.1 261.7L1079.1 261.2L1082.3 260.8L1085.5 260.3L1088.7 259.8L1092.0 259.3L1095.3 258.9L1098.6 258.5L1101.9 258.1L1105.3 257.7L1108.5 257.3L1111.8 257.0L1114.9 256.6L1118.1 256.3L1121.1 256.0L1124.1 255.7L1127.0 255.4L1129.9 255.2L1132.8 254.9L1132.8 254.7L1129.9 254.9L1127.0 255.1L1124.1 255.3L1121.1 255.5L1118.0 255.7L1114.9 255.9L1111.7 256.2L1108.4 256.5L1105.2 256.8L1101.8 257.2L1098.5 257.6L1095.2 258.0L1091.9 258.4L1088.6 258.9L1085.3 259.4L1082.1 259.9L1079.0 260.5L1075.9 261.0L1073.0 261.6L1070.0 262.2L1067.2 262.7L1064.4 263.3L1061.7 263.9L1059.0 264.4Z"/>
<path d="M1285.0 273.0L1280.8 272.8L1276.1 272.6L1270.6 272.4L1264.4 272.2L1257.8 272.0L1250.9 271.7L1244.1 271.5L1237.4 271.4L1231.0 271.2L1224.7 271.1L1218.4 270.9L1212.0 270.7L1205.6 270.5L1199.1 270.3L1192.9 270.2L1186.8 270.1L1180.8 270.2L1174.7 270.5L1168.2 270.9L1161.7 271.5L1155.4 272.3L1149.5 273.2L1144.0 274.4L1138.4 275.8L1132.6 277.8L1126.8 280.4L1121.4 283.5L1116.8 287.2L1113.1 291.8L1111.1 297.4L1111.5 303.3L1114.2 308.8L1118.4 313.4L1123.2 317.0L1128.3 320.3L1133.9 323.5L1139.7 326.9L1145.4 330.1L1151.0 333.3L1156.4 336.4L1161.9 339.5L1167.6 342.7L1173.3 345.8L1179.1 348.8L1184.8 351.7L1190.5 354.5L1196.2 357.2L1201.9 359.8L1207.6 362.3L1213.2 364.7L1218.7 367.1L1224.5 369.5L1230.8 372.0L1237.3 374.4L1243.3 376.7L1248.6 378.5L1253.1 380.2L1253.3 379.8L1248.8 377.9L1243.7 375.7L1237.8 373.2L1231.4 370.4L1225.3 367.7L1219.5 365.2L1214.0 362.9L1208.4 360.5L1202.8 358.0L1197.0 355.4L1191.3 352.7L1185.6 349.9L1180.0 347.0L1174.3 344.0L1168.6 340.9L1162.9 337.8L1157.4 334.6L1152.0 331.5L1146.4 328.4L1140.7 325.1L1134.9 321.8L1129.3 318.6L1124.3 315.4L1119.8 311.9L1115.9 307.7L1113.4 302.8L1113.1 297.7L1114.9 292.8L1118.2 288.6L1122.5 285.1L1127.7 282.2L1133.4 279.7L1139.0 277.7L1144.4 276.3L1149.9 275.2L1155.7 274.3L1161.9 273.5L1168.4 272.9L1174.8 272.4L1180.9 272.2L1186.8 272.1L1192.8 272.2L1199.1 272.3L1205.5 272.5L1211.9 272.7L1218.4 272.9L1224.7 273.1L1230.9 273.2L1237.3 273.4L1244.0 273.5L1250.9 273.5L1257.8 273.5L1264.4 273.5L1270.6 273.5L1276.1 273.4L1280.8 273.4L1285.0 273.4Z"/>
<path d="M1230.9 272.2L1242.8 267.0L1242.6 278.0Z"/>
<path d="M1173.5 282.8L1171.2 284.7L1168.9 286.7L1166.7 288.7L1164.5 290.8L1162.4 293.0L1160.5 295.4L1158.7 297.9L1156.9 300.5L1155.3 303.2L1153.6 305.9L1154.8 306.5L1156.4 303.9L1158.0 301.2L1159.7 298.7L1161.5 296.2L1163.4 293.9L1165.3 291.5L1167.3 289.3L1169.4 287.2L1171.5 285.1L1173.7 283.0Z"/>
<path d="M1152.4 309.0L1153.9 296.2L1163.3 302.0Z"/>
<path d="M1202.6 296.4L1200.0 298.8L1197.6 301.5L1195.6 304.5L1194.5 308.0L1194.3 311.5L1195.0 314.9L1196.3 317.9L1198.1 320.6L1200.2 323.2L1202.6 325.5L1205.1 327.8L1207.7 329.9L1210.6 331.8L1213.6 333.6L1216.6 335.1L1219.7 336.4L1222.6 337.5L1225.3 338.5L1227.9 339.3L1227.9 339.1L1225.5 338.0L1222.9 336.9L1220.0 335.6L1217.1 334.2L1214.1 332.5L1211.3 330.7L1208.6 328.8L1206.0 326.7L1203.5 324.5L1201.3 322.2L1199.2 319.8L1197.5 317.2L1196.3 314.4L1195.7 311.4L1195.9 308.2L1196.9 305.1L1198.5 302.1L1200.5 299.3L1202.8 296.6Z"/>
<path d="M1194.4 307.0L1196.5 294.3L1205.5 300.6Z"/>
<path d="M1318.2 306.1L1315.7 305.3L1313.1 304.6L1310.5 303.9L1307.8 303.1L1305.1 302.4L1302.2 301.6L1299.3 300.7L1296.3 299.9L1293.2 299.0L1290.1 298.2L1286.9 297.3L1283.7 296.4L1280.4 295.5L1277.1 294.6L1273.8 293.6L1270.5 292.7L1267.2 291.7L1263.9 290.7L1260.6 289.7L1257.3 288.7L1254.0 287.6L1250.9 286.6L1247.7 285.6L1244.6 284.7L1241.6 283.8L1238.7 282.9L1235.8 282.1L1233.1 281.3L1230.3 280.4L1227.7 279.6L1225.0 278.9L1225.0 279.1L1227.5 280.1L1230.2 281.0L1232.8 282.0L1235.5 282.9L1238.4 283.9L1241.2 284.9L1244.2 286.0L1247.3 287.0L1250.4 288.1L1253.6 289.1L1256.8 290.1L1260.1 291.1L1263.4 292.1L1266.7 293.1L1270.1 294.1L1273.4 295.1L1276.7 296.0L1280.0 297.0L1283.3 297.9L1286.5 298.8L1289.7 299.6L1292.9 300.5L1296.0 301.3L1299.0 302.0L1302.0 302.7L1304.8 303.3L1307.6 304.0L1310.3 304.6L1313.0 305.2L1315.6 305.8L1318.2 306.3Z"/>
<path d="M1264.1 291.6L1276.9 289.6L1273.8 300.2Z"/>
<path d="M1234.7 294.7L1237.6 295.6L1240.6 296.5L1243.7 297.4L1246.7 298.3L1249.9 299.3L1253.0 300.2L1256.2 301.1L1259.5 302.0L1262.7 302.8L1266.0 303.7L1269.3 304.5L1272.5 305.4L1275.7 306.2L1278.8 307.0L1281.9 307.8L1284.9 308.7L1288.0 309.4L1291.0 310.2L1291.0 310.0L1288.1 309.0L1285.1 308.1L1282.1 307.2L1279.1 306.2L1276.0 305.3L1272.8 304.3L1269.6 303.3L1266.4 302.4L1263.1 301.4L1259.9 300.5L1256.6 299.6L1253.4 298.8L1250.2 298.0L1247.0 297.3L1243.9 296.5L1240.8 295.8L1237.8 295.1L1234.7 294.5Z"/>
<path d="M1298.8 326.7L1301.2 327.9L1303.8 329.2L1306.3 330.4L1308.9 331.7L1311.6 333.0L1314.4 334.3L1317.2 335.7L1320.1 337.2L1323.0 338.7L1326.0 340.1L1329.0 341.7L1332.0 343.2L1335.0 344.8L1338.0 346.4L1340.9 348.1L1343.9 349.8L1346.8 351.5L1349.6 353.2L1352.5 355.0L1355.3 356.8L1358.1 358.6L1360.8 360.4L1363.6 362.2L1366.3 364.1L1369.0 366.0L1371.7 367.8L1374.4 369.7L1377.0 371.6L1379.7 373.4L1382.3 375.3L1385.0 377.1L1387.6 378.9L1390.1 380.7L1392.6 382.4L1395.1 384.2L1397.6 385.9L1397.8 385.7L1395.4 383.9L1392.9 382.0L1390.5 380.1L1388.0 378.3L1385.5 376.4L1382.9 374.5L1380.3 372.6L1377.7 370.6L1375.1 368.7L1372.4 366.9L1369.7 365.0L1367.0 363.1L1364.2 361.3L1361.5 359.4L1358.7 357.6L1355.9 355.8L1353.1 354.0L1350.3 352.2L1347.4 350.5L1344.5 348.7L1341.5 347.0L1338.5 345.4L1335.5 343.7L1332.5 342.1L1329.5 340.6L1326.5 339.1L1323.5 337.6L1320.6 336.2L1317.6 334.8L1314.8 333.5L1312.0 332.2L1309.2 331.0L1306.6 329.9L1304.0 328.7L1301.4 327.6L1298.8 326.5Z"/>
<path d="M1341.4 323.8L1343.6 325.4L1345.9 327.1L1348.1 328.8L1350.5 330.5L1352.9 332.2L1355.3 334.0L1357.8 335.9L1360.4 337.7L1363.1 339.6L1365.8 341.5L1368.6 343.4L1371.3 345.3L1374.1 347.2L1376.9 349.1L1379.7 351.0L1382.5 352.9L1385.3 354.8L1388.0 356.6L1390.8 358.4L1393.5 360.2L1396.2 362.0L1398.9 363.7L1401.6 365.5L1404.3 367.2L1406.9 369.0L1409.6 370.7L1412.3 372.5L1414.9 374.3L1417.5 376.0L1420.2 377.8L1422.9 379.5L1425.5 381.2L1428.1 383.0L1430.7 384.7L1433.3 386.4L1435.9 388.1L1438.4 389.8L1438.6 389.6L1436.1 387.8L1433.6 386.0L1431.1 384.2L1428.6 382.3L1426.0 380.5L1423.4 378.7L1420.8 376.9L1418.2 375.0L1415.6 373.3L1412.9 371.5L1410.3 369.7L1407.6 368.0L1404.9 366.2L1402.2 364.5L1399.6 362.7L1396.9 361.0L1394.1 359.2L1391.4 357.4L1388.7 355.6L1385.9 353.8L1383.2 351.9L1380.4 350.0L1377.6 348.2L1374.8 346.3L1372.0 344.3L1369.3 342.4L1366.5 340.5L1363.8 338.6L1361.1 336.8L1358.4 335.0L1355.8 333.3L1353.3 331.5L1350.9 329.9L1348.5 328.3L1346.1 326.7L1343.8 325.1L1341.6 323.6Z"/>
<path d="M1376.4 458.7L1379.1 459.5L1381.9 460.4L1384.8 461.2L1387.7 462.0L1390.6 462.9L1393.6 463.7L1396.7 464.6L1399.8 465.4L1403.0 466.2L1406.3 467.0L1409.5 467.8L1412.7 468.6L1416.0 469.3L1419.2 470.0L1422.4 470.6L1425.5 471.3L1428.6 471.9L1431.6 472.5L1434.5 473.1L1437.5 473.7L1440.4 474.2L1440.4 474.0L1437.5 473.3L1434.6 472.6L1431.7 471.9L1428.7 471.1L1425.7 470.4L1422.6 469.7L1419.5 468.9L1416.3 468.1L1413.1 467.3L1409.8 466.5L1406.6 465.7L1403.4 464.9L1400.2 464.1L1397.0 463.4L1393.9 462.6L1390.9 461.9L1387.9 461.2L1385.0 460.5L1382.1 459.8L1379.2 459.1L1376.4 458.5Z"/>
<path d="M1442.3 409.2L1444.1 411.4L1445.9 413.7L1447.7 416.1L1449.5 418.4L1451.4 420.8L1453.3 423.3L1455.3 425.8L1457.4 428.4L1459.5 430.9L1461.6 433.5L1463.8 436.1L1466.0 438.7L1468.2 441.3L1470.4 443.9L1472.6 446.4L1474.7 448.8L1476.8 451.2L1478.9 453.6L1481.0 455.9L1483.0 458.1L1485.0 460.4L1486.9 462.6L1487.1 462.4L1485.2 460.2L1483.3 457.9L1481.4 455.5L1479.4 453.2L1477.4 450.8L1475.3 448.3L1473.3 445.8L1471.1 443.2L1469.0 440.6L1466.8 438.1L1464.6 435.5L1462.4 432.9L1460.3 430.3L1458.1 427.7L1456.0 425.2L1454.0 422.8L1451.9 420.4L1450.0 418.0L1448.0 415.7L1446.2 413.5L1444.3 411.3L1442.5 409.0Z"/>
<path d="M1516.0 457.6L1517.6 460.5L1519.2 463.5L1520.8 466.4L1522.3 469.3L1523.9 472.3L1525.5 475.4L1527.1 478.4L1528.6 481.5L1530.2 484.5L1531.8 487.5L1533.4 490.5L1534.9 493.5L1536.4 496.5L1537.8 499.4L1539.3 502.3L1539.5 502.3L1538.1 499.3L1536.8 496.3L1535.4 493.3L1533.9 490.2L1532.5 487.2L1531.0 484.1L1529.5 481.0L1527.9 478.0L1526.3 475.0L1524.6 472.0L1522.9 469.0L1521.2 466.1L1519.6 463.2L1517.9 460.4L1516.2 457.6Z"/>
<path d="M1449.8 545.9L1451.8 547.6L1453.8 549.3L1455.8 551.0L1457.9 552.8L1460.0 554.6L1462.2 556.5L1464.5 558.5L1466.8 560.5L1469.3 562.6L1471.7 564.7L1474.2 566.8L1476.8 568.9L1479.4 571.1L1481.9 573.2L1484.5 575.4L1487.1 577.6L1489.7 579.8L1492.3 582.0L1494.8 584.2L1497.4 586.4L1500.0 588.5L1502.6 590.7L1505.1 592.8L1507.7 594.9L1510.1 597.0L1512.6 599.0L1514.9 601.0L1517.2 602.9L1519.4 604.8L1521.6 606.6L1523.7 608.3L1525.7 610.0L1527.7 611.7L1529.7 613.3L1529.9 613.1L1528.0 611.4L1526.0 609.6L1524.1 607.9L1522.0 606.1L1519.9 604.2L1517.8 602.3L1515.5 600.3L1513.2 598.3L1510.9 596.2L1508.4 594.0L1506.0 591.8L1503.5 589.6L1501.0 587.4L1498.4 585.2L1495.8 583.0L1493.2 580.8L1490.7 578.6L1488.1 576.4L1485.5 574.3L1482.9 572.1L1480.3 569.9L1477.7 567.8L1475.2 565.6L1472.6 563.5L1470.1 561.5L1467.6 559.5L1465.2 557.6L1462.8 555.8L1460.6 554.0L1458.3 552.2L1456.2 550.5L1454.1 548.9L1452.0 547.3L1450.0 545.7Z"/>
<path d="M1474.8 544.2L1477.6 545.9L1480.3 547.7L1483.0 549.4L1485.8 551.2L1488.5 553.0L1491.2 554.8L1493.9 556.6L1496.7 558.3L1499.4 560.0L1502.1 561.7L1504.7 563.4L1507.3 565.1L1509.8 566.7L1512.3 568.4L1514.8 570.0L1515.0 569.8L1512.6 568.0L1510.1 566.3L1507.7 564.5L1505.1 562.7L1502.6 560.9L1500.0 559.1L1497.3 557.3L1494.6 555.5L1491.8 553.8L1489.0 552.1L1486.2 550.5L1483.4 548.8L1480.6 547.2L1477.8 545.6L1475.0 544.0Z"/>
<path d="M1539.7 656.6L1541.3 659.1L1542.9 661.7L1544.4 664.3L1546.1 666.8L1547.8 669.3L1549.6 671.7L1551.3 674.1L1553.1 676.6L1553.3 676.4L1551.7 673.9L1550.1 671.3L1548.6 668.7L1546.9 666.2L1545.2 663.7L1543.4 661.3L1541.7 658.9L1539.9 656.4Z"/>
<path d="M1513.1 686.6L1515.0 689.1L1516.8 691.7L1518.7 694.3L1520.6 696.8L1522.5 699.4L1524.4 702.0L1526.2 704.6L1528.1 707.2L1530.0 709.8L1531.9 712.4L1533.7 715.0L1535.5 717.6L1537.3 720.2L1539.0 722.9L1540.6 725.6L1542.3 728.4L1543.8 731.2L1545.3 734.1L1546.8 737.0L1548.2 739.9L1549.6 742.9L1550.9 745.9L1552.2 749.0L1553.5 752.0L1554.8 755.0L1556.1 758.1L1557.3 761.1L1558.5 764.1L1559.6 767.1L1560.8 770.0L1561.0 770.0L1559.9 766.9L1558.9 763.9L1557.8 760.9L1556.7 757.8L1555.5 754.8L1554.3 751.7L1553.1 748.6L1551.8 745.5L1550.5 742.5L1549.1 739.5L1547.7 736.5L1546.2 733.6L1544.7 730.7L1543.1 727.9L1541.5 725.1L1539.8 722.4L1538.1 719.7L1536.3 717.0L1534.5 714.4L1532.7 711.8L1530.8 709.2L1528.9 706.6L1527.0 704.0L1525.0 701.5L1523.1 699.0L1521.1 696.5L1519.1 693.9L1517.2 691.4L1515.2 688.9L1513.3 686.4Z"/>
<path d="M1469.8 440.1L1471.8 442.5L1473.7 445.0L1475.7 447.5L1477.7 449.9L1479.7 452.3L1481.8 454.7L1483.9 457.1L1486.0 459.4L1488.1 461.8L1488.3 461.6L1486.3 459.2L1484.4 456.7L1482.4 454.2L1480.4 451.8L1478.4 449.4L1476.3 447.0L1474.2 444.6L1472.1 442.3L1470.0 439.9Z"/>
<path d="M1414.3 993.2L1408.8 995.4L1403.3 997.8L1397.6 1000.2L1391.8 1003.0L1385.9 1005.9L1380.1 1009.0L1374.4 1012.2L1368.8 1015.5L1363.4 1018.8L1358.1 1022.1L1352.9 1025.5L1347.9 1028.9L1343.0 1032.3L1338.3 1036.0L1333.8 1039.7L1329.3 1043.8L1324.9 1048.2L1320.6 1052.8L1316.4 1057.6L1312.4 1062.6L1308.5 1067.5L1304.7 1072.4L1300.9 1077.3L1297.2 1082.2L1293.5 1087.1L1289.9 1092.1L1286.2 1097.1L1282.7 1102.3L1279.3 1107.4L1276.1 1112.4L1272.9 1117.2L1269.8 1121.9L1270.2 1122.1L1273.5 1117.6L1276.9 1113.0L1280.5 1108.2L1284.2 1103.3L1287.9 1098.3L1291.6 1093.3L1295.2 1088.3L1298.9 1083.4L1302.6 1078.6L1306.4 1073.8L1310.2 1068.9L1314.1 1063.9L1318.1 1059.0L1322.1 1054.0L1326.1 1049.3L1330.3 1044.8L1334.5 1040.6L1339.0 1036.7L1343.6 1033.1L1348.4 1029.7L1353.4 1026.3L1358.6 1022.9L1363.9 1019.6L1369.3 1016.2L1374.9 1013.0L1380.6 1009.8L1386.3 1006.7L1392.2 1003.8L1397.9 1001.0L1403.5 998.3L1409.0 995.8L1414.3 993.4Z"/>
<path d="M1297.8 1083.1L1300.6 1070.4L1309.4 1077.1Z"/>
<path d="M1480.8 960.9L1477.6 961.7L1474.5 962.5L1471.3 963.4L1468.1 964.3L1464.9 965.2L1461.8 966.1L1458.6 967.1L1455.5 968.2L1452.4 969.3L1449.3 970.4L1446.2 971.6L1443.2 972.7L1440.2 973.9L1440.2 974.1L1443.3 973.2L1446.5 972.3L1449.6 971.3L1452.7 970.4L1455.9 969.4L1459.1 968.5L1462.2 967.5L1465.3 966.4L1468.5 965.3L1471.6 964.3L1474.7 963.2L1477.8 962.2L1480.8 961.1Z"/>
<path d="M1043.2 1179.0L1040.4 1177.8L1037.6 1176.6L1034.7 1175.4L1031.9 1174.3L1029.0 1173.1L1026.1 1171.9L1023.3 1170.8L1020.4 1169.6L1017.4 1168.5L1014.5 1167.4L1011.6 1166.2L1008.6 1165.0L1005.7 1163.8L1002.7 1162.6L999.8 1161.4L996.8 1160.2L993.9 1159.0L990.9 1157.9L988.1 1156.7L985.2 1155.5L982.4 1154.4L979.6 1153.2L976.9 1152.1L974.2 1151.0L971.6 1149.9L971.4 1150.1L974.1 1151.4L976.7 1152.6L979.4 1153.8L982.1 1155.1L984.8 1156.4L987.6 1157.6L990.5 1158.9L993.4 1160.2L996.3 1161.5L999.2 1162.8L1002.2 1164.0L1005.1 1165.2L1008.1 1166.4L1011.0 1167.6L1014.0 1168.8L1016.9 1169.9L1019.8 1171.0L1022.7 1172.2L1025.6 1173.2L1028.6 1174.3L1031.5 1175.3L1034.4 1176.3L1037.3 1177.3L1040.2 1178.3L1043.2 1179.2Z"/>
<path d="M1019.9 1170.3L1032.8 1169.3L1028.9 1179.6Z"/>
<path d="M886.0 1150.1L888.0 1152.2L890.0 1154.4L892.0 1156.5L894.0 1158.7L896.1 1161.0L898.2 1163.3L900.4 1165.6L902.6 1168.0L904.8 1170.5L907.1 1172.9L909.3 1175.3L911.6 1177.8L913.8 1180.3L916.0 1182.7L918.2 1185.1L920.4 1187.4L922.5 1189.7L924.5 1192.0L926.6 1194.2L928.6 1196.4L930.6 1198.6L930.8 1198.4L929.0 1196.1L927.1 1193.7L925.2 1191.4L923.3 1189.0L921.3 1186.6L919.3 1184.1L917.2 1181.6L915.1 1179.1L912.9 1176.6L910.6 1174.1L908.4 1171.7L906.1 1169.2L903.8 1166.8L901.5 1164.5L899.3 1162.3L897.0 1160.1L894.8 1158.0L892.6 1155.9L890.5 1153.9L888.3 1151.9L886.2 1149.9Z"/>
<path d="M926.7 1150.1L929.0 1151.5L931.3 1152.9L933.6 1154.4L935.9 1155.9L938.4 1157.4L940.9 1159.0L943.4 1160.6L946.1 1162.3L948.8 1164.0L951.5 1165.7L954.3 1167.5L957.0 1169.3L959.8 1171.2L962.5 1173.2L965.2 1175.1L967.9 1177.2L970.5 1179.3L973.0 1181.5L975.5 1183.7L977.9 1186.0L980.3 1188.3L982.6 1190.6L984.8 1192.9L986.9 1195.2L989.0 1197.5L991.0 1199.7L992.9 1202.0L994.7 1204.2L996.6 1206.4L996.8 1206.2L995.1 1203.9L993.3 1201.6L991.5 1199.3L989.6 1197.0L987.6 1194.6L985.6 1192.2L983.4 1189.8L981.2 1187.4L978.8 1185.1L976.4 1182.8L973.9 1180.5L971.3 1178.3L968.7 1176.2L966.0 1174.1L963.3 1172.1L960.5 1170.1L957.8 1168.2L955.0 1166.4L952.2 1164.6L949.5 1162.9L946.7 1161.2L944.0 1159.6L941.4 1158.1L938.8 1156.6L936.3 1155.2L933.9 1153.8L931.5 1152.5L929.2 1151.2L926.9 1149.9Z"/>
<path d="M955.8 1198.6L957.9 1201.1L960.0 1203.6L962.1 1206.1L964.3 1208.5L966.5 1211.0L968.7 1213.3L971.0 1215.6L973.3 1218.0L973.5 1217.8L971.4 1215.3L969.3 1212.8L967.2 1210.3L965.0 1207.9L962.8 1205.4L960.6 1203.1L958.3 1200.8L956.0 1198.4Z"/>
<path d="M1008.2 1223.7L1009.9 1227.1L1011.8 1230.4L1014.0 1233.4L1014.2 1233.4L1012.5 1230.0L1010.6 1226.7L1008.4 1223.7Z"/>
<path d="M773.5 1175.3L775.9 1177.2L778.2 1179.1L780.6 1181.1L783.0 1183.1L785.4 1185.1L787.9 1187.2L790.4 1189.3L792.9 1191.4L795.5 1193.5L798.1 1195.7L800.6 1197.8L803.2 1200.0L805.7 1202.0L808.2 1204.1L810.6 1206.2L813.0 1208.2L815.4 1210.2L817.7 1212.1L820.0 1214.1L820.2 1213.9L817.9 1211.9L815.7 1209.8L813.4 1207.8L811.0 1205.7L808.6 1203.6L806.2 1201.4L803.8 1199.3L801.3 1197.1L798.7 1194.9L796.1 1192.8L793.6 1190.6L791.0 1188.6L788.4 1186.5L785.9 1184.5L783.4 1182.6L780.9 1180.7L778.5 1178.8L776.1 1177.0L773.7 1175.1Z"/>
<path d="M802.6 1175.3L804.8 1177.3L807.1 1179.3L809.3 1181.3L811.5 1183.4L813.8 1185.3L816.1 1187.3L818.4 1189.2L820.8 1191.1L823.1 1193.0L825.5 1194.8L827.8 1196.7L828.0 1196.5L825.8 1194.5L823.5 1192.5L821.3 1190.5L819.1 1188.4L816.8 1186.5L814.5 1184.5L812.2 1182.6L809.8 1180.7L807.5 1178.8L805.1 1177.0L802.8 1175.1Z"/>
<path d="M839.5 1227.7L842.0 1229.2L844.7 1230.8L847.3 1232.3L850.0 1233.9L852.7 1235.4L855.5 1237.0L858.3 1238.6L861.1 1240.1L864.1 1241.6L867.0 1243.0L869.9 1244.4L872.8 1245.8L875.6 1247.1L878.5 1248.4L881.3 1249.7L884.2 1251.0L884.2 1250.8L881.5 1249.4L878.7 1248.0L875.9 1246.6L873.0 1245.2L870.2 1243.7L867.3 1242.3L864.5 1240.7L861.6 1239.2L858.7 1237.8L855.9 1236.3L853.1 1234.8L850.3 1233.3L847.6 1231.9L844.9 1230.4L842.2 1229.0L839.5 1227.5Z"/>
<path d="M1146.0 1306.1L1143.0 1306.5L1139.9 1306.9L1136.9 1307.4L1133.8 1307.8L1130.7 1308.3L1127.7 1308.9L1124.6 1309.5L1121.5 1310.1L1118.4 1310.7L1115.3 1311.3L1112.2 1311.9L1109.1 1312.5L1109.3 1313.5L1112.4 1312.9L1115.5 1312.2L1118.6 1311.6L1121.7 1311.0L1124.8 1310.4L1127.8 1309.9L1130.9 1309.3L1134.0 1308.7L1137.0 1308.1L1140.0 1307.5L1143.0 1306.9L1146.0 1306.3Z"/>
<path d="M1106.0 1313.6L1116.3 1306.0L1118.5 1316.7Z"/>
<path d="M1070.4 1251.0L1073.4 1252.4L1076.4 1253.7L1079.5 1254.8L1082.7 1255.9L1085.9 1256.8L1085.9 1256.6L1082.9 1255.2L1079.9 1253.9L1076.8 1252.8L1073.6 1251.7L1070.4 1250.8Z"/>
<path d="M546.6 787.9L546.9 790.8L547.1 793.8L547.4 796.8L547.6 799.8L547.9 802.8L548.2 805.9L548.5 809.0L548.9 812.1L549.3 815.3L549.7 818.4L550.2 821.5L550.6 824.5L551.1 827.6L551.6 830.6L552.0 833.5L552.5 836.5L552.7 836.5L552.3 833.5L551.9 830.5L551.6 827.5L551.2 824.5L550.8 821.4L550.4 818.3L550.1 815.2L549.7 812.0L549.3 808.9L548.9 805.8L548.5 802.8L548.2 799.7L547.8 796.7L547.5 793.8L547.1 790.8L546.8 787.9Z"/>
<path d="M588.3 986.8L589.0 989.6L589.8 992.4L590.5 995.2L591.3 998.1L592.1 1001.1L592.9 1004.2L593.8 1007.3L594.7 1010.4L595.7 1013.6L596.7 1016.9L597.7 1020.1L598.8 1023.4L599.8 1026.7L600.9 1030.0L602.0 1033.2L603.2 1036.4L604.3 1039.6L605.4 1042.7L606.5 1045.8L607.7 1048.7L608.8 1051.6L609.9 1054.4L611.0 1057.2L612.1 1059.8L613.2 1062.4L614.2 1065.0L615.2 1067.5L615.4 1067.5L614.4 1064.9L613.5 1062.3L612.5 1059.7L611.5 1057.0L610.5 1054.2L609.5 1051.4L608.4 1048.5L607.4 1045.5L606.3 1042.4L605.1 1039.3L604.0 1036.1L602.9 1032.9L601.8 1029.7L600.7 1026.4L599.6 1023.2L598.6 1019.9L597.5 1016.6L596.5 1013.4L595.6 1010.2L594.6 1007.0L593.6 1004.0L592.7 1000.9L591.8 998.0L591.0 995.1L590.1 992.3L589.3 989.5L588.5 986.8Z"/>
<path d="M668.9 1090.1L670.5 1092.1L672.1 1094.2L673.7 1096.3L675.4 1098.5L677.2 1100.7L678.9 1103.0L680.8 1105.4L682.7 1107.8L684.7 1110.2L686.7 1112.7L688.8 1115.2L691.0 1117.8L693.2 1120.3L695.4 1122.9L697.6 1125.4L699.9 1127.9L702.2 1130.4L704.5 1132.9L706.8 1135.4L709.1 1137.8L711.4 1140.2L713.8 1142.6L716.1 1145.0L718.4 1147.3L720.6 1149.5L722.9 1151.6L725.0 1153.7L727.1 1155.8L729.2 1157.7L731.2 1159.6L733.1 1161.5L735.0 1163.3L736.9 1165.1L737.1 1164.9L735.2 1163.1L733.4 1161.2L731.5 1159.3L729.5 1157.3L727.5 1155.3L725.5 1153.3L723.4 1151.1L721.2 1148.9L719.0 1146.6L716.7 1144.3L714.4 1142.0L712.1 1139.6L709.8 1137.2L707.4 1134.8L705.1 1132.3L702.8 1129.8L700.5 1127.3L698.3 1124.8L696.1 1122.3L693.9 1119.7L691.7 1117.2L689.5 1114.7L687.4 1112.1L685.4 1109.7L683.4 1107.2L681.4 1104.9L679.5 1102.6L677.6 1100.3L675.8 1098.2L674.1 1096.0L672.4 1094.0L670.7 1092.0L669.1 1089.9Z"/>
<path d="M629.9 930.0L630.7 932.6L631.5 935.3L632.3 938.0L633.1 940.7L634.0 943.5L634.9 946.4L635.8 949.4L636.8 952.5L637.8 955.6L638.9 958.7L640.1 961.9L641.3 965.1L642.5 968.3L643.8 971.6L645.1 974.8L646.5 978.0L647.9 981.1L649.3 984.3L650.8 987.4L652.3 990.5L653.7 993.6L655.2 996.5L656.7 999.5L658.2 1002.3L659.7 1005.0L661.1 1007.7L662.5 1010.3L663.9 1012.8L665.3 1015.3L666.6 1017.7L667.9 1020.0L668.1 1020.0L666.8 1017.5L665.6 1015.1L664.3 1012.6L663.0 1010.0L661.7 1007.4L660.3 1004.7L658.9 1001.9L657.5 999.1L656.0 996.1L654.6 993.2L653.1 990.1L651.6 987.0L650.1 983.9L648.7 980.8L647.3 977.6L646.0 974.4L644.6 971.2L643.4 968.0L642.1 964.8L640.9 961.6L639.8 958.4L638.7 955.3L637.6 952.2L636.5 949.2L635.5 946.2L634.5 943.3L633.6 940.6L632.7 937.8L631.8 935.2L630.9 932.6L630.1 930.0Z"/>
</g>
<g class="co">
<path d="M1170.7 229.4L1167.7 229.0L1172.5 230.2L1186.8 233.6L1196.2 236.3L1198.9 237.9L1205.0 241.7L1209.2 245.0L1211.4 248.2L1207.9 250.4L1197.8 251.6L1192.4 254.2L1189.7 257.9L1194.8 265.1L1202.3 273.7L1209.8 281.2L1208.3 286.8L1210.5 296.0L1213.0 303.5L1219.9 310.7L1223.7 318.9L1227.8 328.1L1228.1 335.3L1226.8 341.7L1230.7 345.3L1237.6 350.1L1254.0 352.3L1265.5 356.5L1281.7 363.9L1292.4 366.2L1305.5 367.7L1319.7 367.9L1330.7 365.7L1340.5 366.1L1350.8 362.8L1354.1 359.3L1356.9 356.6L1368.4 363.3L1378.1 365.1L1381.3 359.0L1381.4 352.6L1381.2 349.6L1393.7 354.4L1405.7 358.5L1422.1 367.9L1431.1 371.9L1434.9 371.9L1435.7 366.5L1437.6 364.2L1435.1 359.8L1432.4 355.4L1432.3 352.6L1430.8 349.8L1429.6 348.2L1433.2 349.9L1436.0 351.2L1440.1 353.8L1444.0 356.8L1451.6 363.0L1459.0 369.4L1462.6 372.7"/>
<path d="M1496.0 425.2L1496.3 437.4L1490.8 435.8L1486.8 435.5L1477.9 434.7L1466.5 435.0L1454.6 436.2L1448.2 433.6L1439.3 426.2L1433.2 417.3L1434.1 409.8L1436.7 404.4L1447.0 406.9L1450.5 403.4L1451.7 398.1L1457.6 398.8L1468.5 407.8L1476.3 413.4L1485.4 418.0L1496.0 425.2Z"/>
<path d="M1415.6 1220.3L1405.8 1223.3L1401.1 1221.7L1388.5 1228.5L1379.2 1226.6L1374.3 1224.3L1359.4 1230.1L1344.0 1231.2L1331.0 1232.1L1314.8 1234.0L1305.4 1229.2L1300.0 1224.2L1298.3 1211.5L1300.9 1198.4L1304.1 1187.4L1305.5 1173.5L1303.2 1168.1L1314.6 1158.4L1320.6 1146.6L1332.5 1143.6L1340.1 1134.5L1354.1 1127.6L1366.1 1123.9L1374.8 1128.1L1385.2 1122.0L1386.4 1129.3L1396.0 1131.5L1394.2 1125.9L1392.6 1115.9L1401.2 1113.3L1410.8 1113.8L1419.6 1110.9L1433.6 1101.3L1441.0 1096.8L1450.9 1083.4L1459.1 1068.7L1465.2 1057.8L1470.1 1046.1L1468.3 1040.0L1477.5 1026.6L1483.3 1015.8L1485.8 998.7L1491.3 988.0L1500.0 978.9L1503.3 982.2L1508.7 989.3L1520.3 988.3L1528.6 987.5L1540.4 983.2L1548.1 986.6L1552.5 991.4L1555.2 994.6L1552.7 1008.5L1547.9 1021.4L1541.1 1038.6L1533.3 1055.4L1531.5 1067.3L1533.5 1069.7L1526.9 1078.8L1526.4 1084.1L1521.6 1098.0L1514.7 1110.6L1507.4 1116.9L1498.3 1127.8L1499.1 1132.2L1494.8 1141.0L1487.8 1150.2L1484.9 1155.4L1474.7 1164.2L1464.3 1174.1L1455.4 1182.7L1458.9 1175.4L1459.8 1169.5L1448.1 1177.8L1432.0 1187.9L1420.1 1195.6L1417.2 1203.9L1418.1 1209.6L1418.7 1213.4L1415.6 1220.3Z"/>
<path d="M1325.8 1130.1L1313.3 1135.5L1303.8 1143.9L1299.1 1137.7L1297.3 1129.4L1302.5 1122.9L1310.5 1120.8L1317.2 1124.3L1325.8 1130.1Z"/>
<path d="M1134.2 1206.1L1122.7 1202.9L1123.6 1198.3L1131.3 1188.7L1136.4 1184.0L1140.7 1179.9L1143.1 1168.3L1150.4 1162.7L1158.3 1161.1L1171.0 1161.9L1170.3 1167.9L1163.6 1176.4L1154.2 1183.1L1144.7 1191.5L1141.9 1197.3L1138.3 1203.0L1134.2 1206.1Z"/>
<path d="M1138.8 1242.1L1132.0 1239.6L1123.5 1234.8L1115.3 1232.0L1112.6 1226.9L1103.2 1225.1L1093.2 1227.3L1095.3 1219.9L1102.7 1216.5L1103.1 1210.2L1110.8 1202.7L1118.2 1202.7L1116.6 1209.9L1125.2 1213.5L1121.1 1218.3L1121.1 1226.2L1125.5 1231.1L1135.9 1238.0L1138.8 1242.1Z"/>
<path d="M527.5 685.6L526.1 694.3L526.8 692.4L528.4 685.7L527.3 697.4L528.9 695.7L532.8 683.6L537.8 672.7L544.9 661.4L550.9 653.0L556.8 644.8L567.8 621.5L574.7 609.0L579.1 603.7L587.5 604.7L595.0 611.3L604.4 615.5L614.7 627.3L623.7 631.2L633.6 634.5L644.4 645.7L651.5 656.1L665.4 658.6L676.5 665.8L688.8 670.8L700.5 679.9L709.6 687.2L721.3 685.5L731.0 692.1L747.2 690.7L756.3 687.1L765.8 677.9L775.2 675.1L784.4 666.5L786.4 655.3L785.7 647.0L779.1 652.1L768.4 657.1L761.5 657.5L754.0 657.8L746.3 650.2L740.0 642.2L736.9 628.8L729.1 630.4L720.0 633.9L719.0 618.5L710.6 612.3L709.1 604.5L702.2 606.8L696.3 604.1L703.3 591.1L694.3 579.7L701.4 564.4L707.2 545.5L703.1 535.4L695.7 536.3L686.2 540.7L693.2 531.8L703.1 519.1L706.1 506.4L705.9 495.9L706.3 480.4L705.2 468.5L706.7 453.9L701.1 449.0L706.7 434.8L713.9 423.2L721.3 411.5L734.2 399.0L738.8 390.4L740.8 381.6L740.6 371.3L740.6 363.9L736.7 359.1L740.9 353.7L748.6 343.2L755.3 336.0L761.8 328.5L762.4 326.0L758.1 326.7L743.5 336.5L731.5 344.9L719.8 353.8L705.0 366.6L690.7 379.8L687.0 383.1L673.1 396.9L663.1 407.6L650.2 422.4"/>
<path d="M774.6 613.7L777.8 605.0L785.1 597.3L786.8 603.3L782.2 611.1L777.9 615.6L774.6 613.7Z"/>
<path d="M856.9 644.5L865.8 638.1L873.5 640.7L871.0 652.2L865.8 665.0L868.4 676.5L878.7 685.5L887.6 694.5L899.2 691.9L913.2 690.6L924.8 691.9L935.0 698.3L945.3 707.3L955.5 717.5L963.2 734.2L969.6 725.2L977.3 717.5L987.6 713.7L999.1 709.1L1009.3 702.2L1014.5 686.8L1016.3 670.1L1020.4 654.7L1024.7 643.2L1032.4 627.8L1039.3 615.8L1043.9 608.6L1049.1 611.7L1052.1 606.1L1056.2 611.2L1059.8 605.0L1063.9 609.6L1067.5 602.5L1071.6 599.9L1075.2 594.3L1080.3 598.4L1088.8 595.8L1101.6 594.3L1113.1 597.9L1125.9 603.0L1138.7 607.3L1151.6 612.5L1164.4 613.7L1180.0 615.5L1190.2 613.7L1194.0 624.0L1200.4 631.7L1213.2 629.1L1226.1 631.7L1238.9 639.4L1249.1 644.5L1259.4 641.9L1267.1 649.6L1269.1 665.0L1265.0 677.8L1268.3 690.6L1274.7 706.0L1279.9 709.1L1269.6 713.7L1259.4 718.8L1256.8 724.4L1264.5 731.6L1274.7 739.3L1285.0 749.6L1292.7 759.8L1297.8 772.6L1301.7 783.4L1302.9 798.2L1304.2 818.7L1302.9 834.1L1297.8 844.4L1291.4 860.0L1291.4 874.2L1282.4 884.5L1274.7 894.7L1267.1 905.0L1259.4 917.8L1249.1 922.9L1246.6 930.6L1244.0 938.3L1233.7 943.4L1223.5 951.1L1208.1 958.8L1203.0 956.2L1195.3 959.3L1182.5 961.4L1169.7 966.5L1156.9 963.9L1144.1 967.8L1135.1 958.8L1131.2 966.5L1118.4 961.4L1108.2 956.2L1106.9 946.0L1115.9 935.7L1118.4 920.4L1121.0 905.0L1110.7 894.7L1105.6 889.6L1113.3 879.4L1112.0 866.6L1103.1 853.7L1090.2 846.1L1080.0 843.5L1067.0 825.6L1056.7 820.4L1051.6 830.7L1046.5 843.5L1041.4 856.3L1028.6 860.2L1033.7 874.2L1036.2 889.6L1035.0 897.3L1026.0 894.7L1020.9 887.1L1010.6 894.7L1005.5 892.2L992.7 887.1L982.4 884.5L972.2 879.4L969.6 866.6L959.4 869.1L946.6 866.6L944.0 853.7L936.3 851.2L933.7 838.4L938.9 828.1L931.2 823.0L926.1 812.7L919.7 815.3L908.1 810.2L913.2 802.5L915.8 782.8L915.8 767.5L919.7 752.1L927.3 741.9L927.3 718.8L918.4 716.2L892.7 716.2L892.7 731.6L900.4 731.6L896.6 716.2L892.7 706.0L882.5 700.9L877.4 688.1L867.1 675.2L862.0 659.9L856.9 644.5Z"/>
<path d="M1043.9 876.8L1047.8 871.2L1051.6 876.8L1049.1 884.0L1044.4 882.4L1043.9 876.8Z"/>
<path d="M1100.5 902.4L1106.9 899.9L1108.2 907.6L1103.1 905.0L1100.5 902.4Z"/>
</g>
<path d="M1081.5 960V1346" stroke="#fff" stroke-width="4.2" fill="none"/>
<g fill="#fff">
<ellipse cx="885" cy="521.5" rx="10" ry="3.6"/>
<ellipse cx="882.5" cy="591" rx="4.5" ry="3.6"/>
<ellipse cx="1421.5" cy="656" rx="5.5" ry="6"/>
<ellipse cx="1509.5" cy="486.5" rx="4" ry="5"/>
<ellipse cx="1523" cy="502" rx="4" ry="4"/>
<ellipse cx="1054.9" cy="1186" rx="3" ry="3"/>
<ellipse cx="808" cy="1242" rx="3" ry="3"/>
<ellipse cx="1208.5" cy="1288.5" rx="12" ry="3"/>
<ellipse cx="1094" cy="1316" rx="14" ry="3"/>
<ellipse cx="1004.5" cy="1321.5" rx="10" ry="3"/>
</g>
</g>
<g fill="none" stroke="#640000">
<circle cx="1080" cy="783" r="557.8" stroke-width="6.5"/>
<path d="M1031.8 1333.4A552.5 552.5 0 0 1 1060.7 230.8" stroke-width="2.6"/>
<path d="M1223.0 249.3A552.5 552.5 0 0 1 1128.2 1333.4" stroke-width="2.4"/>
<path d="M659.8 1135.6A548.5 548.5 0 0 1 805.7 308.0" stroke-width="1.8"/>
<path d="M1394.0 334.5A547.5 547.5 0 0 1 1619.2 878.1" stroke-width="1.8"/>
<path d="M1637.9 831.8A560 560 0 0 1 1099.5 1342.7" stroke-width="2.5" stroke-dasharray="14 6 5 6"/>
<path d="M553.3 974.7A560.5 560.5 0 0 1 594.6 502.7" stroke-width="2" stroke-dasharray="5 5"/>
</g>
<rect x="1691.5" y="487.5" width="27.5" height="587.5" fill="url(#cb)"/>
<path d="M1692.3 1075V488.3H1718.6" fill="none" stroke="#8a8a8a" stroke-width="1.7"/>
<path d="M1694 490H1718" fill="none" stroke="#f4f4f4" stroke-width="1.6"/>
<path d="M1718.8 489V1075" fill="none" stroke="#5a5a66" stroke-width="1"/>
<text x="1738.2" y="1086.6" font-size="34">0.0</text>
<path d="M1693 1016.0h5M1713 1016.0h5.5" stroke="#30202a" stroke-width="1.4" fill="none"/>
<text x="1738.2" y="1028.0" font-size="34">9.4e-06</text>
<path d="M1693 957.4h5M1713 957.4h5.5" stroke="#30202a" stroke-width="1.4" fill="none"/>
<text x="1738.2" y="969.4" font-size="34">1.9e-05</text>
<path d="M1693 898.8h5M1713 898.8h5.5" stroke="#30202a" stroke-width="1.4" fill="none"/>
<text x="1738.2" y="910.8" font-size="34">2.8e-05</text>
<path d="M1693 840.2h5M1713 840.2h5.5" stroke="#30202a" stroke-width="1.4" fill="none"/>
<text x="1738.2" y="852.2" font-size="34">3.8e-05</text>
<path d="M1693 781.6h5M1713 781.6h5.5" stroke="#30202a" stroke-width="1.4" fill="none"/>
<text x="1738.2" y="793.6" font-size="34">4.7e-05</text>
<path d="M1693 723.0h5M1713 723.0h5.5" stroke="#30202a" stroke-width="1.4" fill="none"/>
<text x="1738.2" y="735.0" font-size="34">5.6e-05</text>
<path d="M1693 664.4h5M1713 664.4h5.5" stroke="#30202a" stroke-width="1.4" fill="none"/>
<text x="1738.2" y="676.4" font-size="34">6.6e-05</text>
<path d="M1693 605.8h5M1713 605.8h5.5" stroke="#30202a" stroke-width="1.4" fill="none"/>
<text x="1738.2" y="617.8" font-size="34">7.5e-05</text>
<path d="M1693 547.2h5M1713 547.2h5.5" stroke="#30202a" stroke-width="1.4" fill="none"/>
<text x="1738.2" y="559.2" font-size="34">8.5e-05</text>
<text x="1738.2" y="500.6" font-size="34">9.4e-05</text>
<text x="487.8" y="199.6" font-size="58.7" textLength="1182" lengthAdjust="spacingAndGlyphs">EPV_, 500 K (~55 hPa), 2025-10-25T00, Sat.</text>
<text x="1690.2" y="1398.4" font-size="46" textLength="188.5" lengthAdjust="spacingAndGlyphs">Analysis</text>
<text x="1516.6" y="1482.5" font-size="22" textLength="511.3" lengthAdjust="spacingAndGlyphs">Paul A. Newman &amp; Leslie R. Lait (NASA/GSFC)</text>
<text x="131" y="1482.1" font-size="22" textLength="282.2" lengthAdjust="spacingAndGlyphs">Mon Oct 27 00:15:37 2025</text>
<rect x="319.2" y="1344.6" width="303.4" height="91.2" fill="#fff" stroke="#a04848" stroke-width="1.3"/>
<text x="470.8" y="1366.5" font-size="19" text-anchor="middle">m/s</text>
<text x="361.5" y="1388.5" font-size="18.5" text-anchor="middle" fill="#781414">5</text>
<text x="416.3" y="1388.5" font-size="18.5" text-anchor="middle" fill="#781414">55</text>
<text x="471.1" y="1388.5" font-size="18.5" text-anchor="middle" fill="#781414">105</text>
<text x="532" y="1388.5" font-size="18.5" text-anchor="middle" fill="#781414">55</text>
<text x="592.3" y="1388.5" font-size="18.5" text-anchor="middle" fill="#781414">5</text>
<g fill="#660000" stroke="none">
<rect x="327" y="1411.7" width="289" height="1.2"/>
<rect x="383.9" y="1407.8" width="174.1" height="9"/>
<rect x="441.5" y="1403.8" width="59.5" height="17"/>
<path d="M351.1 1405.9L361.9 1412.3L351.1 1418.7Z"/>
<path d="M408.7 1403.3L420.5 1412.3L408.7 1421.3Z"/>
<path d="M463 1395.3L485.5 1412.3L463 1429.3Z"/>
<path d="M524.6 1403.3L536.4 1412.3L524.6 1421.3Z"/>
<path d="M580.8 1405.6L593.2 1412.3L580.8 1419Z"/>
</g>
</svg></body></html>
